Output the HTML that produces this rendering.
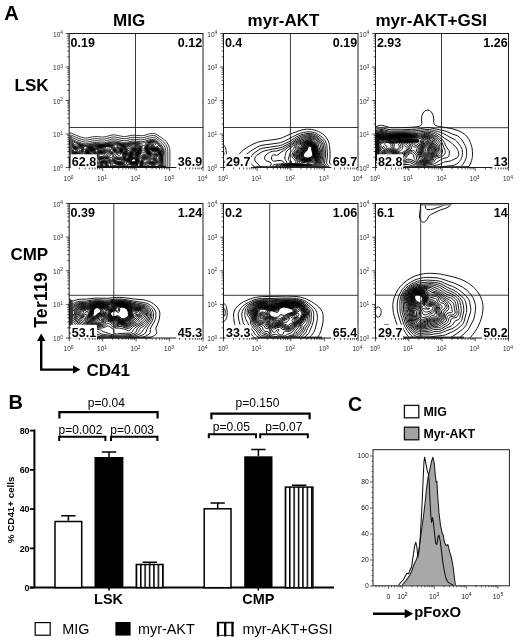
<!DOCTYPE html>
<html><head><meta charset="utf-8"><title>Figure</title>
<style>
html,body{margin:0;padding:0;background:#fff;}
body{width:520px;height:640px;overflow:hidden;}
svg{display:block;font-family:"Liberation Sans",sans-serif;}
</style></head><body>
<svg width="520" height="640" viewBox="0 0 520 640">
<rect width="520" height="640" fill="#fff"/>
<g>
<clipPath id="cp1"><rect x="69.2" y="33.5" width="133.8" height="134.0"/></clipPath>
<rect x="69.2" y="33.5" width="133.8" height="134.0" fill="none" stroke="#1a1a1a" stroke-width="1"/>
<g clip-path="url(#cp1)">
<path d="M63.2,134.8 64.2,134.7 65.2,134.5 68.7,133.1 69.7,132.9 70.2,132.9 71.7,133.2 75.6,135.0 80.7,137.0 83.2,137.7 84.7,138.0 85.7,138.0 87.7,137.8 92.7,136.8 94.7,136.6 97.2,136.6 101.6,137.0 103.7,137.0 106.3,136.5 111.2,135.2 113.2,134.9 114.7,134.9 116.2,135.1 121.7,136.3 123.2,136.5 124.7,136.6 126.2,136.4 131.2,135.4 133.2,135.2 135.7,135.2 140.2,135.7 142.7,135.6 143.7,135.5 145.7,135.0 148.7,134.1 150.7,133.6 152.2,133.5 153.2,133.5 154.2,133.6 155.2,133.8 156.2,134.2 161.7,137.8 163.7,139.2 164.7,140.0 165.7,141.0 166.9,142.5 168.1,144.5 169.0,146.5 169.5,148.5 169.8,150.0 169.9,151.5 169.9,173.5 M63.2,136.9 64.2,136.8 65.2,136.6 68.7,135.1 69.7,135.0 70.7,135.1 71.7,135.3 75.4,137.0 81.7,139.4 84.2,140.0 85.7,140.1 87.7,139.9 92.7,138.9 94.7,138.7 97.2,138.7 101.7,139.1 104.2,139.0 106.7,138.5 111.2,137.3 113.2,137.0 114.7,137.0 116.2,137.2 121.7,138.4 124.2,138.7 126.3,138.5 130.7,137.6 133.2,137.3 135.7,137.3 140.2,137.8 142.7,137.7 144.2,137.5 149.2,136.1 150.7,135.7 151.7,135.6 153.7,135.6 154.7,135.8 155.7,136.1 156.7,136.7 160.2,139.2 162.2,140.7 163.7,142.0 164.6,143.0 165.7,144.5 166.5,146.0 167.1,147.5 167.6,149.5 167.8,151.5 167.8,173.5 M63.2,138.9 64.2,138.8 65.2,138.6 68.7,137.1 69.7,137.0 70.7,137.1 71.7,137.3 75.4,139.0 81.7,141.4 84.2,142.0 85.7,142.1 87.7,141.9 92.7,140.9 94.7,140.7 97.2,140.7 101.7,141.1 104.2,141.0 106.7,140.5 111.2,139.3 113.2,139.0 114.2,139.0 115.7,139.1 122.0,140.5 123.2,140.6 124.7,140.6 126.3,140.5 130.7,139.6 133.2,139.3 135.7,139.3 140.2,139.8 142.7,139.7 144.7,139.4 149.2,138.1 151.2,137.7 152.7,137.6 153.7,137.6 155.2,137.9 156.2,138.4 158.2,139.8 160.7,141.9 162.4,143.5 163.6,145.0 164.3,146.0 165.0,147.5 165.5,149.0 165.8,150.5 165.9,152.0 165.8,158.0 165.8,173.5 M76.8,166.5 77.2,166.4 77.3,166.0 77.2,165.8 76.7,165.9 76.6,166.0 76.7,166.5 76.8,166.5 M75.9,173.5 75.7,173.0 75.2,172.9 74.7,173.5 M63.2,140.7 64.2,140.6 65.2,140.4 68.7,138.9 69.2,138.8 70.2,138.8 71.7,139.2 75.9,141.0 81.1,143.0 83.2,143.6 85.7,143.8 88.2,143.6 92.7,142.7 94.7,142.5 96.7,142.5 101.7,142.9 104.2,142.8 106.2,142.4 110.7,141.2 113.2,140.8 114.7,140.8 115.7,140.9 117.2,141.2 121.7,142.2 123.2,142.4 124.7,142.4 126.7,142.2 131.2,141.3 133.2,141.1 135.7,141.2 140.2,141.6 142.7,141.6 145.2,141.1 149.2,139.8 151.2,139.4 153.2,139.3 154.2,139.5 155.2,139.7 156.2,140.2 157.7,141.4 159.5,143.0 161.0,144.5 162.1,146.0 163.1,147.5 163.6,148.5 164.1,150.0 164.3,152.0 164.0,158.0 164.0,173.5 M69.5,154.5 69.4,154.0 69.2,153.7 68.7,153.5 68.6,154.0 68.7,154.3 69.2,154.7 69.5,154.5 M73.8,157.5 73.5,157.0 73.2,156.8 72.2,156.5 71.7,156.5 71.5,157.0 71.9,157.5 72.2,157.7 72.7,157.9 73.2,157.9 73.8,157.5 M127.5,157.5 127.6,157.0 127.4,156.5 127.2,156.3 126.7,156.4 126.5,156.5 126.3,157.0 126.4,157.5 126.7,157.8 127.2,157.8 127.5,157.5 M77.5,168.0 78.2,167.1 78.4,166.5 78.6,165.5 78.5,165.0 78.2,164.3 77.7,164.0 77.2,163.8 76.7,163.9 76.2,164.1 75.8,164.5 75.5,165.0 75.4,165.5 75.4,166.5 75.7,167.6 76.2,168.3 76.7,168.4 77.2,168.2 77.5,168.0 M91.7,165.5 91.9,165.0 91.7,164.8 91.4,165.0 91.6,165.5 91.7,165.5 M76.8,173.5 76.7,172.9 76.3,172.0 76.2,171.8 75.7,171.4 75.2,171.5 74.4,172.0 74.0,172.5 73.7,173.0 73.6,173.5 M154.1,173.5 153.7,173.0 153.2,173.2 153.1,173.5 M63.2,141.7 64.2,141.7 65.2,141.4 67.7,140.3 68.7,140.0 69.7,139.9 70.2,139.9 71.7,140.3 75.7,142.1 81.1,144.0 83.7,144.7 86.2,144.9 88.2,144.7 92.7,143.8 94.7,143.6 96.7,143.6 101.2,143.9 103.7,143.8 105.9,143.5 111.2,142.3 114.2,142.0 116.7,142.1 121.2,143.2 123.7,143.5 126.2,143.4 130.7,142.5 133.2,142.2 135.7,142.3 140.7,142.9 142.7,142.9 143.7,142.8 144.7,142.5 148.7,141.0 150.7,140.5 152.7,140.3 153.7,140.4 154.7,140.6 155.7,141.0 156.4,141.5 158.2,143.0 159.6,144.5 160.8,146.0 161.9,147.5 162.5,148.5 163.1,150.0 163.3,151.0 163.4,152.0 163.0,157.5 162.9,173.5 M143.8,149.0 144.2,148.4 145.3,146.0 145.2,145.9 144.7,145.5 144.2,145.5 143.2,145.7 142.2,146.5 141.9,147.0 142.2,148.4 142.7,149.2 143.2,149.4 143.7,149.1 143.8,149.0 M82.2,162.0 83.2,161.8 83.8,161.5 84.2,161.0 85.0,159.5 85.7,158.2 85.9,157.5 85.8,157.0 85.7,156.5 85.2,155.9 84.7,155.8 84.2,156.3 83.7,157.2 83.2,157.6 82.2,157.9 80.7,157.9 73.2,155.7 72.2,155.4 71.2,154.6 69.7,152.5 69.2,152.2 68.7,152.1 68.2,152.1 67.7,152.4 67.3,153.0 67.2,153.5 67.2,154.0 67.7,155.0 69.7,156.8 70.8,158.0 71.7,158.6 72.5,159.0 73.2,159.2 75.7,159.3 76.2,159.4 77.0,160.0 78.7,161.9 82.2,162.0 M127.4,158.5 128.0,158.0 128.2,157.6 128.3,157.0 128.3,156.5 128.2,156.0 127.7,155.5 127.2,155.3 126.7,155.4 126.2,155.7 125.7,156.2 125.5,157.0 125.5,157.5 125.8,158.0 126.2,158.4 126.7,158.6 127.2,158.6 127.4,158.5 M77.3,173.5 77.2,172.5 76.8,171.0 76.8,170.5 76.8,170.0 78.7,167.4 79.2,166.0 79.4,165.0 79.3,164.0 79.1,163.0 78.7,162.2 78.2,162.1 77.2,162.3 76.2,162.7 75.7,163.1 75.0,164.0 74.7,165.0 74.6,166.0 75.2,169.0 75.3,169.5 75.1,170.0 74.8,170.5 73.7,171.6 73.2,172.3 72.9,173.0 72.8,173.5 M91.3,167.0 91.7,167.0 92.2,166.8 92.7,166.5 93.2,165.9 93.4,165.0 93.2,164.3 92.7,163.6 92.2,163.2 91.7,163.0 91.2,162.9 90.7,163.1 90.2,163.8 90.0,164.5 89.9,165.5 90.0,166.0 90.2,166.5 90.7,166.8 91.3,167.0 M104.3,165.0 104.2,164.5 104.1,165.0 104.3,165.0 M155.0,173.5 154.7,172.5 154.2,172.0 153.7,171.8 153.2,171.9 152.7,172.3 152.3,173.0 152.2,173.5 M63.2,142.3 64.2,142.2 65.2,142.0 67.7,140.9 68.7,140.6 69.7,140.5 70.2,140.6 71.5,141.0 73.7,142.2 75.2,142.8 82.8,145.0 84.7,145.4 86.2,145.5 88.7,145.3 92.7,144.5 94.7,144.2 97.2,144.2 101.2,144.5 103.7,144.4 106.1,144.0 110.2,143.1 114.7,142.7 116.7,142.8 121.7,143.9 124.2,144.1 126.2,144.0 129.7,143.3 131.7,143.0 134.2,142.9 136.7,143.0 138.7,143.4 141.4,144.0 142.2,144.5 142.3,145.0 141.2,147.1 141.5,148.5 141.8,149.5 142.2,150.2 142.7,150.7 143.2,150.8 143.7,150.8 144.2,150.3 144.6,149.5 145.1,147.5 145.8,146.0 145.8,145.5 145.3,144.5 145.2,144.0 145.5,143.5 146.1,143.0 148.2,141.8 149.7,141.3 150.7,141.0 151.7,140.9 152.7,140.8 153.7,140.9 154.7,141.2 155.7,141.6 156.2,142.0 157.4,143.0 158.8,144.5 160.7,146.8 161.7,148.2 162.4,149.5 162.7,150.5 162.8,152.0 162.5,157.0 162.5,161.0 162.3,165.0 162.4,169.5 162.3,173.5 M118.3,150.0 118.2,149.8 117.9,149.5 117.7,149.4 117.5,149.5 117.3,150.0 117.7,150.4 118.2,150.2 118.3,150.0 M77.6,173.5 77.3,171.0 77.4,170.0 78.8,168.0 79.3,167.0 80.3,163.5 80.9,163.0 81.7,162.8 83.2,162.6 83.7,162.4 84.3,162.0 84.8,161.5 85.7,160.2 86.9,159.0 87.1,158.5 87.1,158.0 86.8,157.0 86.3,156.0 85.7,155.2 85.2,154.7 84.7,154.4 84.2,154.5 83.7,155.0 83.2,156.0 82.7,156.6 82.2,157.0 81.7,157.1 80.7,157.1 79.7,156.9 77.4,156.0 74.7,155.6 73.2,155.3 72.2,154.9 71.7,154.5 71.2,154.0 70.2,152.5 69.7,151.9 69.2,151.6 68.7,151.5 68.2,151.5 67.7,151.7 67.3,152.0 66.9,152.5 66.7,153.0 66.6,153.5 66.7,154.0 66.8,154.5 67.2,155.1 70.2,158.0 71.2,158.9 72.7,159.6 74.7,160.2 75.3,160.5 75.7,161.0 75.7,161.5 75.5,162.0 74.7,163.4 74.2,165.0 74.2,166.0 74.6,168.5 74.6,169.5 74.4,170.0 74.1,170.5 73.2,171.5 72.6,172.5 72.2,173.5 M127.0,159.0 127.7,158.7 128.2,158.3 128.6,157.5 128.7,157.0 128.6,156.0 128.3,155.5 127.7,155.0 127.2,154.9 126.6,155.0 125.7,155.6 125.2,156.3 125.1,157.0 125.2,157.6 125.7,158.5 126.2,158.9 126.7,159.0 127.0,159.0 M91.6,167.5 92.7,167.1 93.4,166.5 93.7,166.0 93.9,165.5 93.9,164.5 93.7,164.0 93.3,163.5 92.7,162.9 91.7,162.2 91.2,162.0 90.7,162.0 90.2,162.2 89.7,163.3 89.3,165.0 89.3,166.0 89.7,166.8 90.2,167.3 90.7,167.5 91.6,167.5 M105.1,166.0 105.4,165.5 105.4,165.0 105.2,164.2 104.7,163.6 104.2,163.4 103.7,163.5 103.2,164.0 103.0,164.5 103.0,165.0 103.1,165.5 103.5,166.0 104.2,166.3 104.7,166.2 105.1,166.0 M155.4,173.5 155.2,172.5 155.0,172.0 154.5,171.5 154.2,171.3 153.7,171.3 153.2,171.4 152.7,171.7 152.4,172.0 152.0,172.5 151.8,173.5 M63.2,142.8 64.7,142.7 65.7,142.3 68.2,141.3 69.2,141.1 69.7,141.1 70.7,141.3 71.9,142.0 73.0,143.0 74.2,144.5 74.7,144.8 75.2,144.9 76.2,144.4 76.7,144.2 77.7,144.2 80.2,144.7 84.2,145.8 86.2,146.1 88.7,145.9 92.7,145.1 94.7,144.9 97.2,144.8 100.7,144.9 102.7,144.9 105.7,144.5 109.7,143.8 113.2,143.8 115.7,143.3 117.2,143.4 122.2,144.4 124.7,144.7 126.7,144.5 129.7,143.9 131.2,143.7 135.2,143.5 136.7,143.6 138.2,143.9 139.2,144.2 139.9,144.5 140.6,145.0 140.8,145.5 140.9,146.0 140.7,147.0 140.8,148.0 141.2,149.6 141.7,151.0 142.2,152.0 142.7,152.5 143.2,152.7 143.7,152.7 144.2,152.7 144.5,152.5 144.7,152.3 144.8,152.0 145.5,148.0 146.4,145.5 146.4,144.5 146.5,144.0 146.8,143.5 147.4,143.0 148.1,142.5 149.2,141.9 150.2,141.6 151.2,141.4 152.2,141.3 153.2,141.4 154.2,141.6 155.7,142.3 157.0,143.5 157.8,144.5 158.7,146.0 160.7,147.9 161.2,148.5 161.8,149.5 162.1,150.5 162.2,151.5 162.0,157.0 162.0,160.5 161.7,164.5 162.0,169.0 161.8,173.5 M158.3,147.5 158.1,147.0 157.7,146.7 157.2,146.5 156.5,146.5 156.7,146.5 157.0,147.0 157.7,147.2 158.1,147.5 158.3,147.5 M118.7,151.0 119.0,150.5 119.1,150.0 119.0,149.5 118.7,149.1 118.2,148.7 117.7,148.6 117.2,148.6 116.7,148.8 116.4,149.5 116.4,150.0 116.7,150.5 117.2,151.0 117.7,151.2 118.2,151.2 118.7,151.0 M77.8,173.5 77.7,171.5 77.7,170.5 78.2,169.5 79.4,167.5 80.7,164.3 81.2,163.7 81.7,163.5 83.7,163.1 84.2,162.9 84.8,162.5 86.2,160.9 86.7,160.5 87.2,160.3 87.7,160.2 88.2,160.3 88.7,160.6 89.0,161.0 89.2,161.5 89.2,162.5 88.7,165.0 88.7,166.0 89.1,167.0 89.7,167.6 90.2,167.8 91.2,168.0 92.2,167.8 93.2,167.3 93.7,166.9 94.2,166.0 94.4,165.0 94.2,164.0 93.9,163.5 93.2,162.7 89.7,160.0 88.7,159.0 88.2,158.3 86.2,155.1 85.2,153.9 84.7,153.5 84.2,153.5 83.7,153.7 82.1,156.0 81.7,156.3 81.2,156.4 80.7,156.4 79.7,156.1 77.7,155.4 74.2,155.1 72.7,154.7 71.7,154.0 70.3,152.0 69.7,151.4 69.2,151.1 68.7,151.0 68.2,151.0 67.7,151.1 67.2,151.4 66.7,151.9 66.3,152.5 66.1,153.5 66.2,154.0 66.6,155.0 67.4,156.0 70.7,159.0 71.7,159.6 73.5,160.5 74.2,161.0 74.5,161.5 74.5,162.0 74.4,162.5 73.9,164.0 73.7,165.0 73.7,166.0 74.2,168.5 74.0,169.5 73.5,170.5 72.0,172.5 71.6,173.5 M127.8,159.0 128.2,158.7 128.7,158.0 128.9,157.5 129.0,156.5 128.8,155.5 128.5,155.0 128.2,154.7 127.7,154.5 127.2,154.5 126.2,154.8 125.3,155.5 124.9,156.0 124.8,156.5 124.7,157.0 125.0,158.0 125.3,158.5 125.9,159.0 126.2,159.2 126.7,159.3 127.2,159.3 127.8,159.0 M105.7,166.5 105.9,166.0 106.0,165.5 105.9,164.5 105.7,164.0 105.2,163.4 104.7,163.0 104.2,162.9 103.7,163.0 103.0,163.5 102.7,164.0 102.5,164.5 102.4,165.5 102.6,166.0 103.2,166.6 103.7,166.9 104.2,167.0 104.7,167.0 105.2,166.8 105.7,166.5 M139.9,173.5 139.5,171.0 139.4,169.5 139.9,165.0 139.7,163.8 139.2,163.4 138.7,163.5 138.2,164.0 137.6,165.5 137.2,168.4 137.1,169.5 137.6,173.5 M155.8,173.5 155.6,172.5 155.2,171.5 154.7,171.0 154.2,170.8 153.7,170.7 153.2,170.9 152.7,171.1 152.2,171.6 151.6,172.5 151.4,173.5 M63.2,143.3 64.2,143.3 65.2,143.0 68.2,141.7 69.2,141.6 69.7,141.6 70.7,141.9 71.5,142.5 72.0,143.0 73.5,145.0 74.2,145.6 75.1,146.0 75.7,146.1 76.7,146.0 77.2,145.4 77.7,145.1 78.2,145.0 79.2,145.0 81.2,145.4 84.7,146.6 85.7,146.8 87.7,146.6 92.2,145.8 96.7,145.3 102.7,145.2 105.1,145.0 109.7,144.4 110.7,144.4 113.2,144.6 114.1,144.5 116.2,144.0 117.7,144.0 122.7,144.9 125.7,145.2 126.7,145.2 129.2,144.6 130.7,144.4 133.2,144.4 135.7,144.1 137.2,144.2 138.7,144.7 139.3,145.0 139.8,145.5 140.1,146.0 140.2,147.5 141.1,151.0 141.4,153.5 141.7,154.0 142.2,154.3 142.7,154.3 144.7,154.0 145.2,153.7 145.7,153.2 145.8,152.5 145.6,150.0 145.9,148.0 146.8,145.5 147.0,144.5 147.7,143.5 148.3,143.0 149.1,142.5 150.7,141.9 152.2,141.8 153.7,142.0 154.8,142.5 155.5,143.0 155.9,143.5 156.1,144.0 155.7,144.5 154.7,144.9 154.2,145.4 154.2,146.1 154.7,146.6 156.5,147.5 159.2,148.5 160.2,148.7 160.7,149.0 161.1,149.5 161.3,150.0 161.4,150.5 161.3,152.5 161.6,154.5 161.5,157.0 161.5,160.5 161.1,164.5 161.5,169.0 161.5,170.5 161.2,173.5 M118.9,151.5 119.3,151.0 119.6,150.0 119.5,149.5 119.2,148.9 118.7,148.4 117.7,148.0 116.7,148.0 116.2,148.3 115.8,149.0 115.8,149.5 116.1,150.5 116.5,151.0 117.2,151.5 117.7,151.7 118.2,151.8 118.7,151.7 118.9,151.5 M78.1,173.5 78.0,171.0 78.3,170.0 79.8,167.5 80.9,165.0 81.2,164.6 81.7,164.2 82.2,164.0 84.2,163.5 84.7,163.3 85.2,163.0 86.7,161.7 87.2,161.5 87.7,161.6 88.2,162.0 88.3,162.5 88.3,163.5 88.1,165.5 88.2,166.5 88.3,167.0 88.6,167.5 89.2,168.0 89.7,168.2 90.7,168.3 91.7,168.3 92.7,168.0 93.6,167.5 94.1,167.0 94.5,166.5 94.8,165.5 94.8,164.5 94.7,164.0 94.4,163.5 93.7,162.6 91.9,161.0 90.5,159.5 88.2,157.4 85.7,153.8 84.7,152.7 84.2,152.6 83.7,152.8 83.2,153.3 82.0,155.0 81.7,155.3 81.2,155.6 80.7,155.6 80.2,155.6 78.7,155.0 77.7,154.7 75.2,154.8 74.2,154.8 73.2,154.5 72.2,154.0 71.7,153.5 70.3,151.5 69.7,150.9 68.7,150.5 67.7,150.5 67.2,150.7 66.7,151.1 66.2,151.7 65.8,152.5 65.6,153.5 65.8,154.5 66.5,155.5 67.2,156.3 70.2,159.1 73.1,161.0 73.5,161.5 73.7,162.0 73.7,162.5 73.2,165.0 73.3,166.0 73.7,168.0 73.7,169.0 73.5,169.5 73.2,170.1 70.8,173.0 70.6,173.5 M106.1,155.5 106.6,155.0 106.8,154.5 106.6,154.0 106.2,153.8 105.3,154.0 104.4,154.5 103.8,155.0 103.6,155.5 104.2,155.8 104.7,155.9 105.2,155.8 106.1,155.5 M127.4,159.5 128.2,159.0 128.7,158.4 129.2,157.5 129.3,156.5 129.1,155.5 128.7,154.7 128.2,154.2 127.7,154.0 127.2,154.1 126.7,154.2 125.4,155.0 124.7,155.7 124.4,156.5 124.4,157.0 124.7,158.0 125.4,159.0 126.2,159.5 126.7,159.6 127.4,159.5 M104.9,167.5 105.7,167.3 106.2,166.9 106.4,166.5 106.6,166.0 106.5,165.0 106.1,164.0 105.4,163.0 104.7,162.6 104.2,162.5 103.7,162.6 103.0,163.0 102.5,163.5 102.2,164.0 101.9,165.0 102.0,166.0 102.3,166.5 102.7,167.0 103.2,167.3 104.2,167.5 104.9,167.5 M113.3,163.5 113.0,163.0 112.7,162.7 112.2,162.9 112.2,163.1 112.7,163.8 113.2,164.0 113.3,163.5 M140.5,173.5 140.0,171.0 140.0,170.0 140.0,169.0 140.4,166.0 140.4,164.5 140.2,163.6 139.8,163.0 139.7,162.8 139.2,162.7 138.7,162.8 138.4,163.0 137.7,163.9 137.2,165.0 136.9,166.0 136.6,168.0 136.5,169.5 137.1,173.5 M123.9,169.0 124.1,168.5 123.8,168.0 122.7,167.4 121.5,166.5 120.5,166.0 119.7,165.8 119.2,165.8 118.3,166.0 118.3,166.5 118.9,167.0 120.2,167.5 121.7,167.7 122.2,168.0 123.2,168.9 123.7,169.1 123.9,169.0 M156.2,173.5 156.0,172.5 155.7,171.5 155.2,170.7 154.7,170.3 154.2,170.2 153.7,170.2 153.2,170.3 152.2,171.0 151.5,172.0 151.2,172.8 151.1,173.5 M63.2,143.8 64.2,143.8 65.2,143.6 68.2,142.2 69.2,142.1 69.7,142.1 70.6,142.5 71.2,143.0 73.3,145.5 74.2,146.1 75.1,146.5 75.7,146.7 76.7,146.7 77.4,146.5 78.2,145.8 78.7,145.6 79.2,145.5 80.2,145.6 81.2,145.8 83.1,146.5 83.8,147.0 84.2,149.7 84.7,150.1 86.7,147.6 87.2,147.4 88.2,147.1 90.2,146.7 92.2,146.4 94.2,146.4 96.7,145.8 97.7,145.7 103.2,145.5 109.7,144.8 110.7,144.9 113.2,145.3 114.2,145.4 114.7,145.3 116.2,144.7 117.2,144.6 118.7,144.7 125.7,145.8 126.7,145.8 129.7,145.1 130.7,145.1 132.7,145.4 133.2,145.4 135.7,144.7 137.2,144.8 138.0,145.0 138.7,145.4 139.3,146.0 139.6,146.5 140.6,151.0 140.7,152.0 140.5,154.0 140.5,154.5 140.7,155.0 141.2,155.5 141.7,155.6 142.7,155.4 145.2,154.7 145.7,154.4 146.2,154.0 146.4,153.5 146.5,153.0 146.0,150.5 146.0,149.5 146.1,148.5 146.5,147.0 147.4,145.0 148.0,144.0 148.5,143.5 149.1,143.0 150.2,142.5 151.7,142.3 153.2,142.5 154.0,143.0 154.2,143.5 154.0,144.0 153.4,145.0 153.2,145.5 153.3,146.0 153.6,146.5 154.3,147.0 155.3,147.5 158.7,148.8 159.7,149.3 160.5,150.0 160.8,151.0 160.9,153.0 161.1,154.5 161.0,157.5 161.1,160.0 161.0,161.0 160.6,163.5 160.5,164.5 161.1,168.0 161.1,169.5 160.7,173.5 M119.2,152.0 119.7,151.3 119.9,150.0 119.8,149.0 119.4,148.5 118.7,147.9 117.7,147.5 116.7,147.3 116.2,147.4 115.7,147.6 115.5,148.0 115.3,148.5 115.3,149.0 115.5,150.0 116.0,151.0 116.7,151.7 117.7,152.2 118.2,152.3 118.7,152.3 119.2,152.0 M78.3,173.5 78.3,171.5 78.4,170.5 78.6,170.0 79.9,168.0 81.2,165.4 81.7,164.9 82.2,164.6 84.8,164.0 86.7,163.1 87.2,163.2 87.4,164.0 87.4,166.0 87.5,167.0 87.8,168.0 88.2,168.3 88.7,168.6 89.7,168.7 90.7,168.7 91.7,168.6 92.7,168.3 93.4,168.0 94.2,167.5 94.7,166.9 95.1,166.0 95.3,165.0 95.2,164.0 94.6,163.0 92.5,161.0 90.8,159.0 89.2,157.7 88.2,156.7 84.9,152.0 84.7,151.4 84.2,151.1 82.2,153.7 81.7,154.3 81.2,154.6 80.7,154.8 80.2,154.8 78.7,154.3 77.7,154.2 75.2,154.5 74.2,154.4 73.2,154.2 72.2,153.6 71.7,153.0 70.7,151.4 70.2,150.9 69.7,150.5 68.7,150.0 67.7,149.9 67.2,150.0 66.7,150.3 66.2,150.8 65.7,151.5 65.2,152.5 65.1,153.0 65.2,154.0 65.6,155.0 66.7,156.3 70.2,159.5 72.3,161.0 72.7,161.5 73.0,162.0 73.1,162.5 72.7,164.5 72.7,165.5 73.2,167.5 73.3,168.5 73.2,169.0 72.8,170.0 72.2,170.7 71.2,171.7 70.2,172.5 69.7,172.7 68.7,173.0 68.0,173.5 M105.8,156.5 106.9,156.0 107.7,155.5 108.1,155.0 108.2,154.5 108.1,154.0 107.7,153.3 107.2,152.9 106.7,152.7 106.2,152.8 105.7,152.9 103.7,153.9 102.7,154.2 100.7,154.1 99.7,154.2 99.2,154.5 99.0,155.0 99.1,155.5 99.4,156.0 99.7,156.2 100.4,156.5 104.2,156.7 105.2,156.7 105.8,156.5 M128.0,159.5 128.7,158.8 129.2,158.0 129.5,157.0 129.6,156.5 129.4,155.5 129.0,154.5 128.7,154.1 128.2,153.7 127.7,153.6 126.7,153.9 125.7,154.4 124.9,155.0 124.4,155.5 124.1,156.0 124.0,156.5 124.0,157.0 124.1,157.5 124.6,158.5 125.2,159.2 125.7,159.6 126.2,159.9 126.7,159.9 127.2,159.9 128.0,159.5 M124.9,170.5 125.2,170.1 125.4,169.5 125.5,168.5 125.4,168.0 125.1,167.5 124.7,167.1 123.7,166.3 121.9,165.5 120.2,165.1 119.2,165.0 116.2,165.0 115.7,164.8 115.2,164.3 113.6,162.5 112.7,161.6 112.2,161.4 111.7,161.4 111.2,162.0 111.2,163.0 111.3,163.5 112.0,164.5 112.7,165.1 113.7,165.5 115.7,165.8 118.0,167.5 120.9,169.0 122.5,170.5 123.2,170.8 123.7,170.9 124.2,170.9 124.7,170.7 124.9,170.5 M105.6,168.0 106.2,167.8 106.7,167.5 107.0,167.0 107.1,166.0 107.0,165.0 106.6,164.0 105.7,162.9 105.2,162.5 104.7,162.2 104.2,162.2 103.7,162.2 103.2,162.5 102.7,162.9 102.1,163.5 101.8,164.0 101.5,165.0 101.5,166.0 101.7,166.5 102.2,167.3 102.7,167.7 103.2,167.9 104.2,168.0 105.6,168.0 M140.9,173.5 140.5,171.0 140.4,170.0 140.9,166.0 140.7,164.0 140.6,163.5 140.2,162.6 139.7,162.2 139.2,162.1 138.7,162.3 138.2,162.7 137.5,163.5 136.7,165.0 136.3,166.5 136.1,168.0 136.0,169.5 136.6,173.5 M156.5,173.5 156.3,172.0 155.7,170.6 155.2,170.0 154.7,169.6 154.2,169.5 153.7,169.5 153.2,169.7 152.2,170.4 151.7,170.9 151.1,172.0 150.8,173.5 M87.2,173.5 87.0,172.0 86.8,171.0 86.7,170.6 86.2,170.2 85.7,170.3 85.1,171.0 85.0,172.0 85.0,173.5 M109.5,173.5 109.2,172.5 108.7,172.2 108.2,172.1 107.7,172.3 107.2,172.6 106.8,173.0 106.5,173.5 M63.2,144.4 64.2,144.3 65.2,144.1 68.2,142.7 69.2,142.5 69.7,142.6 70.7,143.1 71.2,143.6 72.7,145.5 73.3,146.0 74.2,146.6 75.7,147.1 76.7,147.2 77.2,147.1 77.7,147.0 78.7,146.2 79.2,146.0 79.7,145.9 80.7,146.0 82.2,146.5 83.0,147.0 83.2,147.5 83.4,148.5 83.4,150.5 82.8,152.0 81.7,153.4 81.2,153.8 80.7,154.0 80.2,154.0 78.2,153.7 77.2,153.8 75.2,154.1 73.7,154.0 72.7,153.6 72.2,153.1 70.7,150.9 70.2,150.4 69.2,149.8 68.2,149.4 67.2,149.2 66.7,149.3 66.2,149.7 66.0,150.0 64.6,152.5 64.5,153.0 64.5,153.5 64.6,154.0 65.1,155.0 66.2,156.3 69.7,159.6 71.5,161.0 72.0,161.5 72.2,161.9 72.4,162.5 72.4,163.0 72.0,165.0 72.1,165.5 72.7,167.4 72.8,168.0 72.7,169.0 72.5,169.5 72.2,170.0 71.3,171.0 70.2,171.8 67.7,172.6 67.2,173.0 67.0,173.5 M87.8,173.5 87.8,171.0 88.0,170.0 88.2,169.8 88.6,169.5 89.2,169.3 92.2,168.8 93.2,168.5 94.1,168.0 94.7,167.5 95.2,166.9 95.6,166.0 95.8,165.0 95.7,164.0 95.1,163.0 93.1,161.0 91.2,158.8 89.2,157.2 88.2,156.2 86.6,154.0 85.5,152.0 85.4,151.0 85.7,150.0 86.0,149.5 86.7,148.5 87.2,148.1 87.7,147.7 89.2,147.3 91.2,147.0 92.2,147.0 94.2,147.2 94.7,147.1 96.7,146.3 98.2,146.0 102.7,145.8 109.2,145.3 111.2,145.4 113.4,146.0 114.3,146.5 114.6,147.0 114.9,149.5 115.2,150.2 115.6,151.0 116.2,151.7 117.2,152.5 118.2,152.9 118.7,152.9 119.2,152.8 119.5,152.5 119.7,152.3 120.0,151.5 120.3,150.0 120.1,149.0 119.7,148.1 119.2,147.6 118.7,147.3 116.9,146.5 116.5,146.0 116.9,145.5 118.2,145.2 119.7,145.3 123.7,145.8 126.7,146.5 127.7,146.4 129.2,145.9 130.2,145.8 131.1,146.0 132.7,146.6 133.2,146.7 133.7,146.5 135.2,145.6 135.7,145.4 136.2,145.3 137.2,145.3 138.2,145.7 138.7,146.2 139.0,146.5 140.0,149.5 140.2,150.5 140.2,151.5 139.8,154.5 139.9,155.5 140.2,156.1 140.7,156.5 141.2,156.6 141.7,156.6 145.7,155.2 146.2,154.9 146.7,154.5 147.0,154.0 147.0,153.5 146.5,151.0 146.3,149.5 146.4,148.5 146.7,147.5 147.8,145.0 148.6,144.0 149.7,143.2 150.3,143.0 151.2,142.8 151.7,142.8 152.4,143.0 152.8,143.5 152.8,144.0 152.5,145.5 152.6,146.0 152.9,146.5 153.4,147.0 154.7,147.7 159.2,149.4 159.9,150.0 160.3,150.5 160.5,151.0 160.6,151.5 160.8,155.0 160.6,157.5 160.6,160.0 160.4,161.5 160.0,163.0 159.8,164.0 159.9,165.0 160.6,167.5 160.7,169.0 160.7,170.5 160.2,173.5 M106.1,157.0 108.2,156.2 109.2,155.9 110.2,155.8 110.7,155.5 108.2,152.7 107.7,152.3 107.2,152.0 106.7,152.0 106.2,152.0 103.7,153.3 103.2,153.4 102.2,153.6 100.7,153.5 99.7,153.5 98.7,154.0 98.3,154.5 98.2,155.0 98.3,155.5 98.5,156.0 98.9,156.5 99.7,157.0 100.7,157.2 104.2,157.3 105.2,157.2 106.1,157.0 M127.6,160.0 128.2,159.6 129.2,158.5 129.7,157.5 129.9,156.5 129.7,155.3 129.2,154.1 128.7,153.5 128.2,153.2 127.7,153.2 127.2,153.3 126.2,153.8 124.4,155.0 123.9,155.5 123.6,156.0 123.5,156.5 123.6,157.0 124.0,158.0 124.7,159.0 125.2,159.6 125.7,159.9 126.2,160.2 126.7,160.2 127.6,160.0 M125.5,172.0 125.7,171.7 126.1,170.0 126.2,169.0 126.2,168.2 126.0,167.5 125.7,167.0 124.7,166.1 123.7,165.5 122.2,164.9 120.2,164.6 117.2,164.4 116.2,164.1 115.2,163.4 112.7,161.0 112.2,160.7 111.7,160.6 111.2,160.8 111.0,161.0 110.7,161.5 110.6,162.0 110.6,163.0 110.6,163.5 111.2,164.7 111.7,165.3 112.2,165.8 113.2,166.3 115.2,166.8 116.2,167.2 119.3,169.0 120.0,169.5 120.5,170.0 121.3,171.5 121.7,172.0 122.2,172.2 123.2,172.4 124.7,172.4 125.2,172.3 125.5,172.0 M107.0,168.5 107.2,168.4 107.6,168.0 107.8,167.5 107.9,167.0 107.7,165.5 107.3,164.5 107.1,164.0 106.3,163.0 105.2,162.1 104.7,161.9 104.2,161.8 103.7,161.9 103.2,162.1 102.1,163.0 101.4,164.0 101.1,164.5 101.0,165.5 101.1,166.5 101.3,167.0 101.7,167.6 102.1,168.0 103.2,168.4 105.2,168.6 106.2,168.6 107.0,168.5 M141.4,173.5 140.8,171.0 140.8,170.0 140.8,169.0 141.3,166.5 141.2,165.0 141.1,164.0 140.7,162.7 140.2,162.0 139.7,161.7 139.2,161.7 138.7,161.9 138.2,162.2 137.1,163.5 136.3,165.0 135.7,166.5 135.5,168.0 135.5,169.5 136.1,172.5 136.2,173.5 M78.6,173.5 78.6,171.5 78.8,170.5 81.2,166.3 81.7,165.6 82.2,165.2 83.2,164.9 84.7,164.8 85.7,164.9 86.2,165.2 86.4,165.5 86.5,166.5 86.5,167.5 86.3,168.0 85.9,168.5 85.2,169.2 84.7,169.8 84.4,170.5 84.3,171.5 84.4,173.5 M157.0,173.5 156.8,172.0 156.2,170.4 155.7,169.6 155.2,169.1 154.7,168.7 154.2,168.6 153.7,168.7 152.7,169.3 151.7,170.2 151.2,170.8 150.7,172.0 150.5,173.5 M110.3,173.5 110.1,172.5 109.7,171.3 109.2,170.8 108.7,170.7 108.2,170.9 106.7,171.9 105.7,172.9 105.4,173.5 M63.2,145.0 64.2,145.1 65.2,144.9 65.7,144.7 67.7,143.4 68.7,143.0 69.2,143.0 69.7,143.1 70.4,143.5 71.0,144.0 72.7,146.0 73.7,146.7 74.3,147.0 76.2,147.6 77.2,147.7 77.7,147.6 78.2,147.3 79.2,146.5 79.7,146.3 80.7,146.3 81.5,146.5 82.4,147.0 82.7,147.5 82.9,148.5 83.0,150.0 82.8,151.0 82.2,152.1 81.7,152.7 81.2,153.1 80.7,153.3 80.2,153.4 78.2,153.2 75.7,153.7 74.7,153.8 73.7,153.7 73.2,153.5 72.7,153.2 72.1,152.5 70.8,150.5 69.7,149.6 66.7,148.1 66.2,148.1 65.7,148.5 64.7,150.9 63.4,153.0 63.4,153.5 65.4,156.0 70.8,161.0 71.3,161.5 71.6,162.0 71.7,162.5 71.7,163.0 71.3,164.5 71.2,165.0 71.3,165.5 72.0,167.0 72.3,168.0 72.3,168.5 72.2,169.1 71.7,169.9 71.2,170.5 70.2,171.2 69.2,171.6 67.7,172.0 67.2,172.3 66.7,172.7 66.4,173.5 M88.3,173.5 88.4,171.5 88.7,170.5 89.2,170.0 89.7,169.8 92.7,169.0 93.9,168.5 94.7,168.0 95.3,167.5 95.9,166.5 96.2,165.5 96.3,164.5 96.0,163.5 95.7,163.0 93.2,160.6 91.5,158.5 89.2,156.8 88.4,156.0 87.2,154.5 86.3,153.0 85.9,152.0 85.9,151.0 86.0,150.5 86.5,149.5 86.9,149.0 87.4,148.5 88.2,148.0 89.7,147.5 91.2,147.4 92.2,147.4 94.2,147.9 94.7,147.8 95.2,147.7 96.7,146.8 97.2,146.5 98.7,146.2 102.7,146.1 109.2,145.7 110.2,145.7 111.2,145.8 112.7,146.3 113.2,146.6 113.6,147.0 113.9,147.5 114.9,150.5 115.7,151.7 116.2,152.3 117.2,153.1 118.2,153.6 118.7,153.8 119.2,153.7 119.7,153.4 119.9,153.0 120.2,152.3 120.4,151.5 120.6,150.0 120.5,149.0 120.2,148.2 119.7,147.4 118.8,146.5 119.1,146.0 120.7,145.8 123.2,146.0 124.7,146.3 127.2,147.3 127.7,147.3 128.2,147.2 129.2,146.8 129.7,146.7 130.2,146.8 132.2,147.5 132.7,147.6 133.7,147.4 134.2,147.2 135.2,146.4 135.9,146.0 136.7,145.9 137.2,145.9 137.7,146.1 138.2,146.4 138.7,147.0 139.2,148.3 139.7,150.0 139.9,151.5 139.2,155.0 139.3,156.0 139.7,156.8 140.2,157.3 140.7,157.5 141.2,157.5 142.2,157.2 144.2,156.3 146.2,155.6 146.7,155.4 147.2,155.0 147.5,154.5 147.5,154.0 147.4,153.0 146.8,151.0 146.6,150.0 146.6,149.0 146.9,148.0 147.7,146.1 148.2,145.2 148.7,144.6 149.7,143.8 150.7,143.5 151.2,143.5 151.7,143.8 151.8,144.0 152.0,146.0 152.3,146.5 152.7,147.0 153.4,147.5 154.4,148.0 158.7,149.6 159.2,149.9 159.7,150.3 160.2,151.3 160.4,153.0 160.4,155.0 160.0,157.5 160.1,160.5 159.8,161.5 159.0,163.5 159.0,164.0 159.1,165.0 160.1,167.5 160.3,169.0 160.2,170.5 159.6,173.5 M111.3,157.5 111.7,157.3 112.2,156.9 112.7,156.0 112.6,155.5 112.4,155.0 111.7,154.5 110.2,153.7 109.7,153.3 108.2,151.9 107.7,151.5 107.2,151.3 106.7,151.3 106.2,151.4 105.7,151.6 104.2,152.5 103.2,152.9 102.2,153.1 99.7,153.1 98.7,153.3 98.2,153.6 97.9,154.0 97.7,154.5 97.7,155.5 98.1,156.5 98.7,157.1 99.2,157.4 99.7,157.6 104.7,157.8 105.7,157.6 107.7,157.0 108.7,156.9 109.7,157.1 110.7,157.5 111.3,157.5 M127.0,160.5 127.7,160.2 128.7,159.4 129.7,158.0 130.1,157.0 130.1,156.0 129.7,154.3 129.2,153.4 128.7,152.9 128.2,152.7 127.7,152.7 127.2,152.9 124.5,154.5 123.8,155.0 123.3,155.5 123.1,156.0 123.0,156.5 123.4,157.5 124.0,158.5 124.7,159.5 125.7,160.3 126.2,160.5 127.0,160.5 M127.8,173.5 127.0,172.0 126.8,171.5 126.7,170.5 126.8,168.5 126.7,167.5 126.5,167.0 125.6,166.0 124.2,165.0 122.9,164.5 121.2,164.3 117.7,164.0 116.7,163.8 116.2,163.6 115.2,162.9 113.2,160.9 112.2,160.0 111.7,159.8 111.2,159.8 110.7,160.4 110.4,161.0 110.1,162.0 110.0,163.0 110.0,164.0 110.2,164.5 110.4,165.0 111.2,166.3 111.7,166.8 112.2,167.0 112.7,167.2 115.2,167.6 116.7,168.2 118.7,169.5 119.2,170.0 119.5,170.5 119.6,171.0 119.4,171.5 119.2,171.8 117.7,172.8 117.4,173.0 117.1,173.5 M141.8,173.5 141.2,171.0 141.1,170.0 141.7,166.5 141.5,164.5 141.2,163.0 140.7,162.0 140.2,161.4 139.7,161.1 139.2,161.2 138.7,161.4 137.7,162.3 136.1,164.5 135.5,165.5 135.1,166.5 134.9,168.0 134.9,169.5 135.1,170.5 135.7,172.5 135.8,173.5 M110.8,173.5 110.7,171.2 110.5,169.5 110.2,168.8 109.2,167.4 108.0,164.5 106.8,163.0 105.7,162.1 104.7,161.6 104.2,161.5 103.7,161.6 103.2,161.8 101.7,163.0 100.9,164.0 100.5,165.0 100.4,165.5 100.5,166.5 100.7,167.1 101.2,168.0 101.7,168.5 102.7,168.9 105.9,169.5 106.6,170.0 106.6,170.5 106.4,171.0 105.0,172.5 104.7,173.0 104.5,173.5 M78.8,173.5 78.9,171.5 79.1,170.5 79.4,170.0 81.7,166.4 82.2,165.9 82.7,165.7 83.7,165.5 84.2,165.6 85.0,166.0 85.3,166.5 85.3,167.0 85.2,167.5 84.2,169.2 83.9,170.0 83.7,171.0 83.9,173.5 M157.5,173.5 157.4,172.5 157.1,171.5 156.2,169.3 155.2,167.7 154.7,167.3 154.2,167.2 153.7,167.4 153.2,167.8 150.8,170.5 150.4,171.5 150.2,172.5 150.1,173.5 M74.7,153.5 73.7,153.4 73.2,153.2 72.7,152.8 72.2,152.1 71.2,150.5 70.7,149.9 70.2,149.5 67.9,148.0 66.9,147.0 66.5,146.5 66.3,146.0 66.3,145.5 66.6,145.0 67.0,144.5 67.6,144.0 68.7,143.5 69.2,143.5 69.7,143.6 70.2,143.9 70.7,144.3 72.2,146.0 73.2,146.8 74.2,147.3 76.2,148.0 77.2,148.1 77.7,148.1 78.2,147.9 79.7,146.8 80.2,146.6 80.7,146.7 81.7,147.0 82.2,147.5 82.4,148.0 82.6,149.0 82.4,150.5 82.2,151.2 81.7,152.0 81.2,152.4 80.7,152.7 80.2,152.8 78.2,152.7 75.7,153.4 74.7,153.5 M88.7,173.5 88.9,171.5 89.1,171.0 89.5,170.5 90.3,170.0 94.2,168.7 95.4,168.0 95.9,167.5 96.5,166.5 96.9,165.5 97.0,164.5 96.6,163.5 95.9,162.5 93.7,160.5 91.7,158.1 89.7,156.8 88.7,156.0 87.5,154.5 86.6,153.0 86.3,152.0 86.3,151.0 86.4,150.5 87.0,149.5 87.5,149.0 88.1,148.5 88.7,148.2 89.7,147.9 91.2,147.7 92.2,147.9 93.7,148.3 94.7,148.4 95.2,148.3 95.7,148.0 97.2,146.9 98.2,146.5 99.2,146.4 109.2,146.1 110.2,146.1 111.2,146.2 112.2,146.6 112.8,147.0 113.2,147.4 113.7,148.3 114.6,150.5 115.2,151.6 115.7,152.3 117.2,154.0 118.1,155.5 118.2,155.6 118.7,155.8 119.6,155.5 120.2,155.0 120.4,154.5 120.5,154.0 120.8,149.5 120.7,148.4 120.2,147.0 120.2,146.5 120.7,146.3 121.7,146.2 122.7,146.2 123.7,146.4 125.3,147.0 127.2,148.2 127.7,148.4 128.2,148.4 129.7,148.0 130.2,148.0 132.2,148.2 133.7,148.0 134.7,147.6 135.7,146.8 136.2,146.6 136.7,146.5 137.2,146.5 137.7,146.8 138.2,147.3 139.1,149.0 139.5,150.5 139.5,152.0 138.7,155.0 138.7,156.0 138.8,156.5 139.2,157.3 139.7,157.9 140.2,158.3 140.7,158.4 141.7,158.1 144.7,156.7 146.8,156.0 147.2,155.8 147.7,155.3 147.9,155.0 148.0,154.5 148.0,154.0 147.0,150.5 146.9,149.5 147.0,148.5 147.7,146.8 148.7,145.3 149.2,144.8 149.7,144.5 150.2,144.4 150.8,144.5 151.2,145.0 151.4,146.0 151.7,146.5 152.1,147.0 152.7,147.5 154.2,148.3 158.2,149.7 159.2,150.3 159.7,150.9 160.0,151.5 160.1,154.0 160.0,155.5 159.4,157.5 159.3,158.0 159.5,160.0 159.5,160.5 159.1,161.5 158.2,163.5 157.9,164.5 158.0,165.0 159.3,167.0 159.7,167.9 159.8,168.5 159.8,169.5 159.7,170.5 159.2,171.8 158.7,172.5 158.2,172.3 156.8,169.0 156.1,166.5 155.6,166.0 154.7,165.9 154.2,165.9 153.2,166.3 152.7,166.7 151.5,168.5 150.2,170.3 149.9,171.0 149.8,171.5 149.8,173.5 M63.2,146.2 64.0,146.5 64.2,146.8 64.4,147.5 64.5,148.5 64.4,149.5 64.2,150.1 63.7,150.9 63.2,151.2 M129.0,173.5 128.8,173.0 127.7,171.6 127.4,171.0 127.3,170.0 127.5,167.5 127.4,167.0 127.1,166.5 126.7,166.1 125.2,164.8 124.7,164.5 123.7,164.1 122.2,163.9 117.7,163.6 116.2,163.2 115.2,162.5 112.9,160.0 112.5,159.5 112.3,159.0 112.2,158.5 112.4,158.0 113.5,156.5 113.7,156.0 113.7,155.5 113.5,155.0 112.7,154.3 110.2,153.0 108.2,151.1 107.7,150.8 107.2,150.6 106.7,150.6 106.2,150.8 105.7,151.0 103.7,152.3 102.7,152.6 101.7,152.7 99.7,152.7 98.3,153.0 97.6,153.5 97.3,154.0 97.1,154.5 97.1,155.5 97.5,156.5 98.2,157.4 98.7,157.7 99.2,157.9 100.2,158.0 102.2,158.0 104.2,158.2 105.2,158.1 107.2,157.6 108.2,157.5 109.2,157.7 109.6,158.0 110.2,158.5 110.4,159.0 110.4,159.5 109.2,163.2 108.7,163.7 108.2,163.6 107.7,163.3 106.1,162.0 105.2,161.4 104.7,161.2 104.2,161.2 103.7,161.3 103.2,161.5 102.2,162.2 100.8,163.5 100.1,164.5 99.9,165.0 99.8,165.5 99.9,166.5 100.2,167.5 100.7,168.5 101.2,169.0 101.7,169.3 102.7,169.7 104.1,170.0 104.9,170.5 104.9,171.0 104.0,172.5 103.7,173.5 M127.8,160.5 128.7,159.7 129.6,158.5 130.2,157.5 130.4,156.5 130.2,155.0 129.7,153.5 129.2,152.6 128.7,152.1 128.2,152.0 127.7,152.1 125.2,153.8 123.0,155.0 122.4,155.5 122.3,156.0 122.4,156.5 122.9,157.5 124.0,159.0 125.2,160.4 125.7,160.7 126.2,160.9 126.7,160.9 127.2,160.8 127.8,160.5 M63.2,154.7 63.7,154.9 64.2,155.3 65.9,157.0 68.7,159.5 70.6,161.5 70.9,162.0 71.0,162.5 70.9,163.0 70.4,164.5 70.3,165.0 70.4,165.5 70.6,166.0 71.6,167.5 71.8,168.0 71.8,168.5 71.7,169.0 71.4,169.5 71.0,170.0 70.2,170.6 69.2,171.1 67.7,171.5 66.8,172.0 66.2,172.7 65.9,173.5 M142.2,173.5 141.5,170.5 141.6,169.5 142.1,167.0 142.1,166.0 141.9,164.5 141.5,163.0 140.9,161.5 140.7,161.2 140.2,160.6 139.7,160.5 139.2,160.7 138.7,161.0 137.7,162.0 134.8,165.5 134.3,166.5 134.2,167.5 134.3,169.5 134.5,170.5 135.2,172.5 135.3,173.5 M79.1,173.5 79.2,171.5 79.3,171.0 79.7,170.1 82.2,166.9 82.7,166.5 83.2,166.5 83.7,166.6 84.0,167.0 84.0,167.5 83.5,169.0 83.2,170.0 83.2,171.0 83.5,173.5 M111.4,173.5 111.6,171.0 111.9,170.0 112.2,169.3 112.7,168.8 113.2,168.5 113.7,168.4 114.7,168.3 115.7,168.5 116.8,169.0 117.5,169.5 117.9,170.0 118.1,170.5 118.0,171.0 116.4,172.5 116.1,173.0 116.0,173.5 M75.7,153.0 74.7,153.2 74.2,153.2 73.7,153.0 73.2,152.8 72.5,152.0 71.6,150.5 70.8,149.5 68.8,148.0 68.3,147.5 67.5,146.5 67.3,146.0 67.3,145.5 67.5,145.0 67.9,144.5 68.7,144.1 69.2,144.1 69.7,144.2 70.2,144.5 72.2,146.5 73.2,147.2 74.7,147.9 77.2,148.6 77.7,148.6 78.2,148.5 79.7,147.4 80.2,147.2 80.7,147.1 81.2,147.3 81.7,147.7 82.1,148.5 82.2,149.0 82.1,150.0 81.8,151.0 81.2,151.8 80.7,152.1 80.2,152.2 78.7,152.1 78.2,152.1 75.7,153.0 M142.7,173.5 142.0,171.0 141.9,170.0 142.1,169.0 142.7,167.0 142.6,166.0 141.9,163.0 141.0,160.5 140.8,160.0 140.9,159.5 141.5,159.0 143.7,157.7 144.7,157.2 147.0,156.5 147.7,156.1 148.3,155.5 148.5,155.0 148.4,154.0 147.3,151.0 147.2,150.0 147.2,149.0 147.5,148.0 148.2,146.8 149.2,145.6 149.7,145.3 150.2,145.4 151.5,147.0 152.9,148.0 154.2,148.6 157.7,149.8 158.3,150.0 159.0,150.5 159.4,151.0 159.7,151.5 159.8,153.5 159.8,154.5 159.6,155.5 159.2,156.5 158.5,157.5 158.4,158.0 158.4,158.5 158.8,159.5 158.8,160.5 158.6,161.0 157.9,162.5 157.2,163.7 156.7,164.3 156.5,164.5 155.7,164.8 154.2,165.1 152.8,165.5 151.8,166.0 151.2,166.5 150.9,167.0 150.2,168.3 149.3,169.5 149.2,170.0 149.1,171.0 149.3,173.5 M89.1,173.5 89.3,172.0 89.4,171.5 89.7,171.0 90.2,170.5 90.7,170.3 94.4,169.0 95.7,168.4 96.2,168.0 97.0,167.0 97.7,165.8 98.0,165.5 98.1,165.0 98.0,164.5 97.0,163.0 96.0,162.0 94.2,160.5 92.2,158.0 91.5,157.5 89.2,156.0 88.6,155.5 87.8,154.5 86.9,153.0 86.6,152.0 86.7,151.0 86.8,150.5 87.5,149.5 88.0,149.0 88.7,148.6 90.2,148.1 91.7,148.2 94.2,148.8 95.2,148.8 95.9,148.5 97.0,147.5 97.7,147.0 98.2,146.8 99.2,146.6 104.7,146.4 109.2,146.4 110.2,146.5 111.2,146.7 112.2,147.2 112.7,147.6 113.2,148.4 114.4,151.0 115.9,153.5 116.1,154.0 116.1,154.5 115.7,155.1 115.2,155.1 113.4,154.0 110.7,152.8 109.8,152.0 108.2,150.3 107.7,150.0 107.2,149.9 106.7,150.0 105.7,150.4 103.7,151.8 102.7,152.3 101.7,152.4 99.2,152.4 98.2,152.6 97.5,153.0 97.1,153.5 96.8,154.0 96.6,155.0 96.7,155.9 96.9,156.5 97.2,157.1 97.7,157.7 98.2,158.0 98.7,158.3 99.7,158.4 102.2,158.4 104.2,158.7 104.7,158.7 106.7,158.1 107.7,158.0 108.7,158.2 109.2,158.5 109.6,159.0 109.7,159.5 109.6,160.5 109.2,161.7 108.7,162.5 108.2,162.7 107.7,162.6 105.2,161.0 104.7,160.8 104.2,160.8 103.7,160.9 103.2,161.1 102.0,162.0 99.1,164.5 98.8,165.0 98.7,165.5 99.4,167.5 100.1,169.0 100.7,169.6 102.9,171.0 103.1,171.5 102.9,173.5 M124.2,154.0 123.2,154.4 122.2,154.4 121.7,154.2 121.2,153.3 121.0,152.0 121.1,149.5 121.0,147.5 121.0,147.0 121.7,146.6 122.2,146.5 123.2,146.6 124.2,146.9 125.4,147.5 126.1,148.0 127.1,149.0 127.9,150.0 128.1,150.5 127.9,151.0 127.5,151.5 126.5,152.5 125.2,153.5 124.2,154.0 M130.3,173.5 130.1,173.0 128.5,171.5 128.1,171.0 128.0,170.5 127.9,170.0 128.0,169.0 128.6,167.0 128.5,166.5 128.1,166.0 126.7,165.1 125.4,164.0 124.7,163.7 123.7,163.5 118.2,163.4 117.2,163.2 116.2,162.8 115.1,162.0 113.7,160.5 113.1,159.5 113.0,159.0 113.0,158.5 113.3,158.0 113.7,157.5 115.2,156.3 115.7,156.2 117.2,157.0 118.2,157.2 119.2,157.2 120.7,156.8 121.2,156.8 121.7,157.0 122.2,157.4 124.7,160.4 125.7,161.3 126.2,161.4 126.7,161.4 127.2,161.2 128.2,160.5 129.5,159.0 130.4,157.5 130.7,156.5 130.6,155.5 130.2,153.8 129.7,152.5 128.9,151.0 128.8,150.5 129.1,150.0 129.6,149.5 130.2,149.1 131.2,148.9 133.7,148.5 135.0,148.0 136.2,147.3 136.7,147.2 137.2,147.3 137.7,147.6 138.2,148.2 138.7,149.0 139.2,150.4 139.3,151.0 139.2,152.0 138.3,155.0 138.2,156.0 138.5,157.0 139.5,159.0 139.5,159.5 139.2,160.0 136.2,163.4 134.7,164.9 134.2,165.2 133.2,165.6 131.2,165.6 130.5,166.0 130.9,166.5 132.2,167.0 132.8,167.5 133.2,168.5 133.6,170.5 134.5,172.5 134.8,173.5 M63.2,155.4 63.7,155.6 64.2,156.0 67.7,158.9 69.3,160.5 70.0,161.5 70.2,162.0 70.3,162.5 70.2,163.0 69.5,165.0 69.5,165.5 69.7,166.0 70.7,167.2 71.1,168.0 71.2,168.5 71.0,169.0 70.7,169.6 70.2,170.0 69.7,170.3 67.7,171.0 66.7,171.5 66.2,171.9 65.8,172.5 65.5,173.5 M149.0,166.5 149.1,166.0 148.9,165.5 148.2,165.0 147.7,165.2 147.4,165.5 147.3,166.0 147.5,166.5 147.7,166.8 148.2,167.0 148.7,166.8 149.0,166.5 M158.7,170.3 158.2,170.1 157.7,169.2 157.5,168.5 157.5,168.0 157.7,167.5 158.2,167.3 158.7,167.6 159.1,168.5 159.2,169.0 159.1,169.5 158.7,170.3 M79.3,173.5 79.5,171.5 80.0,170.5 80.7,169.6 81.2,169.2 81.7,168.8 82.2,168.8 82.4,169.5 83.0,173.5 M112.0,173.5 112.2,172.1 112.7,170.8 113.2,170.2 113.7,169.8 114.2,169.5 114.7,169.4 115.2,169.4 115.7,169.6 116.3,170.0 116.5,170.5 116.3,171.0 115.7,171.8 115.3,172.5 115.1,173.5 M76.2,152.5 75.2,152.8 74.7,152.9 73.7,152.7 73.2,152.3 72.5,151.5 71.7,149.9 71.2,149.2 70.7,148.7 69.6,148.0 68.6,147.0 68.2,146.0 68.2,145.5 68.5,145.0 69.2,144.8 69.7,144.9 70.2,145.2 71.7,146.6 72.8,147.5 73.7,147.9 77.7,149.3 78.2,149.2 78.7,148.9 79.7,148.0 80.2,147.8 80.7,147.7 81.3,148.0 81.6,148.5 81.7,149.5 81.5,150.5 81.2,151.0 80.7,151.4 80.2,151.5 78.7,151.4 78.2,151.5 76.2,152.5 M143.3,173.5 143.0,172.5 142.5,171.0 142.4,170.0 142.7,168.8 143.3,167.5 143.5,167.0 143.5,166.5 142.7,164.5 141.7,161.5 141.6,160.5 141.6,160.0 141.9,159.5 142.2,159.2 143.2,158.5 144.7,157.7 147.7,156.8 148.2,156.5 148.7,156.0 148.9,155.5 148.9,154.5 148.6,153.5 147.6,151.0 147.4,149.5 147.6,148.5 148.2,147.4 148.7,146.9 149.2,146.5 149.7,146.4 150.2,146.5 152.2,148.0 153.2,148.5 154.7,149.1 157.6,150.0 158.6,150.5 159.1,151.0 159.4,151.5 159.5,152.5 159.6,153.5 159.3,155.0 158.7,156.0 158.2,156.4 156.8,157.0 156.5,157.5 156.5,158.0 157.5,159.5 157.8,160.5 157.7,161.0 157.4,162.0 156.8,163.0 156.2,163.7 155.7,164.0 154.7,164.4 152.2,164.9 151.2,165.1 150.2,164.8 148.7,164.0 148.2,163.9 147.7,163.9 147.2,164.0 146.7,164.5 146.0,165.5 145.6,166.5 145.6,167.0 145.8,167.5 148.2,171.3 148.7,172.5 148.8,173.5 M100.2,163.0 99.2,163.4 98.7,163.4 98.2,163.2 94.7,160.3 92.7,157.9 91.7,157.1 89.7,156.1 88.7,155.3 88.1,154.5 87.4,153.5 87.0,152.5 86.9,152.0 87.0,151.0 87.5,150.0 88.2,149.3 88.7,149.0 89.2,148.8 90.2,148.5 91.7,148.6 94.2,149.2 95.2,149.2 95.7,149.1 96.2,148.8 97.6,147.5 98.2,147.1 99.7,146.8 104.7,146.8 107.2,146.9 109.7,146.9 110.8,147.0 111.7,147.5 112.7,148.5 113.2,149.2 114.3,151.5 114.6,152.5 114.6,153.0 114.2,153.4 113.7,153.4 112.7,153.1 111.1,152.5 110.2,151.8 108.7,149.8 108.2,149.3 107.7,149.1 107.2,149.0 106.7,149.1 106.2,149.4 105.7,149.7 103.7,151.3 102.7,151.9 101.7,152.1 99.2,152.1 98.2,152.2 97.5,152.5 96.9,153.0 96.6,153.5 96.2,154.5 96.1,155.5 96.2,156.0 96.5,157.0 96.8,157.5 97.2,158.0 97.9,158.5 98.7,158.8 99.2,158.8 101.2,158.7 102.2,158.8 104.2,159.4 104.7,159.3 106.7,158.5 107.7,158.5 108.2,158.6 108.7,158.8 109.1,159.5 109.2,160.0 109.0,161.0 108.7,161.6 108.2,162.0 107.7,162.1 107.2,161.9 104.7,160.2 104.2,160.2 103.2,160.7 101.2,162.3 100.2,163.0 M124.2,153.7 123.2,153.9 122.7,153.9 122.2,153.7 121.7,153.1 121.4,152.5 121.3,151.0 121.5,148.0 121.7,147.4 122.2,147.0 123.2,147.0 124.2,147.3 124.7,147.5 125.4,148.0 126.0,148.5 126.4,149.0 127.0,150.0 127.1,150.5 127.1,151.0 126.9,151.5 126.6,152.0 125.5,153.0 124.2,153.7 M134.2,164.6 133.2,164.8 130.7,164.7 128.7,164.8 128.2,164.7 127.6,164.5 126.9,164.0 126.1,163.0 126.0,162.5 127.2,161.8 128.7,160.3 130.1,158.5 130.9,157.0 131.0,156.5 130.9,155.5 130.0,151.5 130.0,151.0 130.2,150.4 130.5,150.0 131.4,149.5 134.2,148.7 136.2,148.0 136.7,147.9 137.2,148.0 137.7,148.3 138.2,148.9 138.7,149.7 138.9,150.5 139.0,151.0 138.9,152.0 138.0,155.0 137.8,156.0 138.0,157.0 138.6,158.5 138.8,159.0 138.7,159.5 138.6,160.0 138.3,160.5 136.2,163.1 135.2,164.0 134.2,164.6 M63.2,156.1 63.7,156.2 64.2,156.5 67.2,158.9 68.4,160.0 69.5,161.5 69.7,162.5 69.7,163.0 68.9,165.0 68.8,165.5 68.8,166.0 69.0,166.5 70.2,167.8 70.4,168.5 70.3,169.0 69.7,169.7 69.2,170.0 67.2,170.7 66.2,171.4 65.7,171.9 65.4,172.5 65.1,173.5 M122.7,163.0 120.7,163.1 118.7,163.1 117.2,162.8 116.3,162.5 115.2,161.7 114.2,160.5 113.6,159.5 113.6,159.0 113.7,158.5 114.2,157.9 114.7,157.5 115.2,157.4 116.2,157.4 118.2,157.9 119.2,157.9 120.7,157.6 121.2,157.6 121.7,157.8 122.2,158.1 123.2,159.0 124.4,160.5 125.2,162.0 125.1,162.5 124.2,162.8 122.7,163.0 M89.5,173.5 89.6,172.5 89.9,171.5 90.3,171.0 90.7,170.7 92.2,170.0 95.5,169.0 97.7,168.0 98.2,168.0 98.7,168.5 99.8,170.0 101.6,171.5 101.9,172.0 102.0,172.5 102.0,173.5 M131.7,171.9 130.7,171.8 129.7,171.4 129.2,171.1 128.7,170.5 128.6,170.0 128.6,169.5 128.7,169.0 129.2,168.2 129.7,167.9 130.2,167.9 130.7,168.0 131.2,168.2 131.7,168.5 132.0,169.0 132.2,170.0 132.0,171.5 131.7,171.9 M79.7,173.5 79.8,172.0 80.2,171.0 80.7,170.4 81.2,170.2 81.7,170.4 82.2,171.3 82.5,172.5 82.6,173.5 M132.1,173.5 132.2,172.5 132.7,172.4 133.2,172.7 133.5,173.0 133.7,173.5 M113.2,173.5 113.2,173.4 113.7,172.9 113.8,173.5 M74.7,152.5 74.2,152.5 73.7,152.2 73.2,151.8 72.7,151.0 71.5,148.5 71.2,148.1 70.2,147.5 69.7,147.0 69.4,146.5 69.6,146.0 69.7,146.0 70.2,146.2 71.1,147.0 71.7,147.7 72.7,148.1 74.3,148.5 75.7,148.9 76.8,149.5 77.5,150.0 77.8,150.5 77.6,151.0 77.1,151.5 76.4,152.0 75.7,152.3 74.7,152.5 M100.2,162.5 99.2,162.8 98.7,162.7 98.2,162.4 95.3,160.0 93.7,158.0 93.2,157.5 92.3,157.0 90.2,156.1 89.2,155.4 88.7,154.9 87.7,153.5 87.3,152.5 87.2,152.0 87.3,151.0 87.7,150.3 88.2,149.8 89.2,149.1 89.7,149.0 90.7,148.8 91.7,148.9 94.7,149.7 95.7,149.6 96.2,149.4 96.7,149.0 97.6,148.0 98.2,147.5 98.7,147.2 99.7,147.0 101.3,147.0 104.2,147.2 105.3,147.5 105.7,147.8 105.9,148.0 105.7,148.5 105.4,149.0 104.1,150.5 103.2,151.2 102.6,151.5 101.7,151.7 98.7,151.8 97.7,151.9 97.2,152.2 96.7,152.6 96.2,153.4 95.9,154.0 95.6,155.5 95.6,156.5 95.9,157.5 96.7,158.5 97.5,159.0 98.2,159.2 99.2,159.3 101.2,159.1 102.2,159.2 102.8,159.5 103.1,160.0 102.8,160.5 101.8,161.5 100.2,162.5 M123.2,153.5 122.7,153.4 122.1,153.0 121.7,152.1 121.6,151.0 121.8,149.0 122.0,148.0 122.2,147.7 122.6,147.5 123.2,147.4 124.2,147.7 124.8,148.0 125.5,148.5 126.2,149.5 126.6,150.5 126.6,151.0 126.5,151.5 126.2,152.0 125.7,152.5 125.0,153.0 124.2,153.4 123.2,153.5 M144.7,165.3 144.2,165.4 143.7,165.1 143.2,164.4 142.7,163.3 142.3,162.0 142.1,161.0 142.1,160.5 142.3,160.0 142.7,159.5 143.3,159.0 144.7,158.3 147.2,157.5 148.2,157.1 148.9,156.5 149.3,156.0 149.4,155.5 149.3,154.5 149.0,153.5 148.0,151.5 147.7,150.0 147.8,149.0 148.0,148.5 148.2,148.0 148.7,147.5 149.2,147.2 149.7,147.1 150.2,147.2 153.6,149.0 157.7,150.3 158.7,151.0 159.1,151.5 159.3,153.0 159.2,154.0 158.8,155.0 158.2,155.7 156.2,156.4 155.6,157.0 155.5,157.5 155.6,158.0 156.6,159.5 156.9,160.0 157.1,160.5 157.1,161.0 156.8,162.0 156.1,163.0 155.4,163.5 154.7,163.8 153.2,164.2 151.7,164.4 150.7,164.3 148.7,163.3 147.7,163.1 147.2,163.3 146.7,163.5 145.2,165.0 144.7,165.3 M113.2,152.6 112.7,152.6 111.7,152.3 111.2,152.0 110.6,151.5 109.9,150.5 109.5,149.5 109.2,148.5 109.3,148.0 109.7,147.8 110.2,147.7 110.7,147.8 111.3,148.0 112.2,148.7 112.7,149.3 113.2,150.1 113.7,151.5 113.8,152.0 113.7,152.3 113.4,152.5 113.2,152.6 M134.2,164.2 133.7,164.3 132.7,164.3 128.7,163.9 128.0,163.5 127.6,163.0 127.6,162.5 128.0,161.5 130.3,158.5 130.9,157.5 131.2,157.0 131.3,156.5 131.2,155.5 130.7,153.0 130.5,152.0 130.7,151.0 131.0,150.5 131.6,150.0 132.7,149.5 135.7,148.6 136.7,148.5 137.2,148.6 137.7,148.9 138.2,149.5 138.5,150.0 138.7,150.9 138.7,151.5 138.5,152.5 137.6,155.0 137.4,156.0 137.6,157.0 138.2,158.5 138.3,159.0 138.3,159.5 137.9,160.5 136.4,162.5 135.2,163.6 134.2,164.2 M80.7,150.5 80.2,150.7 79.7,150.6 79.5,150.5 79.2,150.0 79.3,149.5 79.7,149.0 80.2,148.5 80.7,148.5 81.1,149.0 81.2,149.5 81.0,150.0 80.7,150.5 M63.2,156.7 64.2,157.1 66.7,158.8 67.5,159.5 68.2,160.2 68.8,161.0 69.2,162.0 69.2,163.0 68.1,165.5 68.0,166.0 68.0,166.5 68.2,166.8 69.2,168.0 69.4,168.5 69.2,169.0 68.6,169.5 67.2,170.1 66.2,170.7 65.7,171.3 65.2,172.0 65.0,172.5 64.7,173.5 M122.7,162.5 121.2,162.7 119.2,162.8 117.7,162.6 116.7,162.3 115.5,161.5 114.6,160.5 114.1,159.5 114.1,159.0 114.4,158.5 114.7,158.2 115.2,158.0 115.7,158.0 118.2,158.5 119.2,158.5 120.7,158.2 121.7,158.4 122.2,158.7 123.2,159.5 123.9,160.5 124.1,161.0 124.2,161.5 123.9,162.0 123.2,162.4 122.7,162.5 M108.2,161.3 107.7,161.5 107.2,161.4 106.5,161.0 105.9,160.5 105.6,160.0 105.8,159.5 106.7,159.0 107.2,158.9 107.7,159.0 108.2,159.2 108.5,159.5 108.7,160.0 108.6,160.5 108.2,161.3 M144.0,173.5 143.9,173.0 143.1,171.0 143.0,170.0 143.2,169.3 143.5,169.0 143.7,168.7 144.2,168.5 144.7,168.6 145.2,168.9 145.7,169.5 146.7,171.0 147.7,172.3 148.0,173.0 148.1,173.5 M89.9,173.5 90.0,172.5 90.2,171.9 90.7,171.2 91.2,170.8 92.2,170.3 93.7,169.9 95.2,169.5 96.7,169.3 97.2,169.4 97.6,169.5 98.2,169.9 100.3,172.0 100.7,172.7 100.9,173.5 M80.1,173.5 80.2,172.5 80.3,172.0 80.7,171.5 81.2,171.4 81.8,172.0 82.1,173.5 M94.2,156.8 93.7,156.9 93.2,156.8 90.7,156.0 89.7,155.5 88.6,154.5 88.2,153.9 87.7,153.0 87.4,152.0 87.7,151.0 88.0,150.5 88.4,150.0 89.2,149.5 89.7,149.3 90.7,149.2 91.7,149.3 95.2,150.1 95.7,150.1 96.2,150.0 96.7,149.7 97.6,148.5 98.2,147.9 98.9,147.5 99.7,147.3 100.7,147.3 102.2,147.4 103.2,147.6 104.2,148.0 104.5,148.5 104.4,149.0 104.2,149.5 103.4,150.5 102.7,151.0 102.2,151.2 101.2,151.4 97.7,151.4 97.2,151.5 96.7,151.8 96.2,152.5 95.7,153.5 94.7,156.3 94.2,156.8 M124.2,153.1 123.7,153.2 123.2,153.1 122.7,152.9 122.2,152.4 121.9,151.5 121.9,150.0 122.2,148.7 122.7,148.0 123.2,147.9 123.7,147.9 124.2,148.0 125.2,148.7 125.8,149.5 126.2,150.5 126.2,151.0 126.1,151.5 125.8,152.0 125.2,152.6 124.2,153.1 M144.7,164.2 144.2,164.3 143.7,164.0 143.0,163.0 142.7,162.0 142.5,161.0 142.6,160.5 142.9,160.0 143.7,159.3 144.7,158.8 145.7,158.4 147.2,158.1 148.2,157.7 149.2,157.0 149.6,156.5 149.8,156.0 149.9,155.5 149.7,154.5 148.3,151.5 148.0,150.5 148.0,149.5 148.1,149.0 148.3,148.5 148.7,148.0 149.2,147.7 149.7,147.6 150.2,147.7 153.7,149.3 157.2,150.4 158.3,151.0 158.7,151.5 159.0,152.5 159.0,153.5 158.7,154.5 158.2,155.1 157.7,155.3 155.7,156.0 155.1,156.5 154.8,157.0 154.8,157.5 155.0,158.0 156.3,160.0 156.5,160.5 156.5,161.0 156.5,161.5 156.3,162.0 155.7,162.7 155.2,163.1 154.2,163.5 152.7,163.9 151.7,163.9 150.7,163.7 148.7,162.8 147.7,162.5 147.2,162.6 146.7,162.8 145.2,164.0 144.7,164.2 M75.2,152.1 74.7,152.1 74.1,152.0 73.7,151.7 73.2,151.1 72.9,150.5 72.8,149.5 73.1,149.0 73.7,148.9 74.7,149.0 75.9,149.5 76.5,150.0 76.8,150.5 76.7,151.0 76.2,151.6 75.2,152.1 M134.7,163.6 133.7,163.9 132.7,164.0 131.2,163.8 129.7,163.5 129.2,163.3 128.7,163.0 128.3,162.5 128.3,162.0 128.8,161.0 130.9,158.0 131.5,157.0 131.6,156.0 131.1,153.5 130.9,152.5 131.0,151.5 131.3,151.0 131.7,150.5 132.2,150.2 133.2,149.7 135.7,149.0 136.7,148.9 137.2,149.1 137.8,149.5 138.2,150.2 138.4,151.0 138.4,151.5 138.2,152.5 137.3,155.0 137.0,156.0 137.1,157.0 137.8,158.5 137.9,159.5 137.6,160.5 137.0,161.5 135.7,162.9 134.7,163.6 M112.7,151.8 112.2,151.8 111.7,151.7 110.9,151.0 110.7,150.5 110.5,150.0 110.6,149.5 110.7,149.3 111.2,149.1 111.7,149.3 112.2,149.7 112.5,150.0 112.8,150.5 113.0,151.0 113.0,151.5 112.7,151.8 M63.2,157.3 63.7,157.5 64.7,158.0 66.2,158.9 67.2,159.6 68.1,160.5 68.4,161.0 68.8,162.0 68.8,162.5 68.6,163.5 67.1,166.0 66.9,166.5 66.9,167.0 67.4,168.0 67.6,168.5 67.3,169.0 66.2,170.0 65.2,171.2 64.5,172.5 64.3,173.5 M122.7,162.0 121.2,162.3 119.7,162.4 118.2,162.4 117.2,162.2 116.2,161.7 115.4,161.0 114.7,160.0 114.6,159.5 114.7,159.2 114.8,159.0 115.2,158.7 115.7,158.5 116.2,158.5 118.7,159.0 120.7,158.8 121.7,158.9 122.2,159.2 122.7,159.6 123.3,160.5 123.5,161.0 123.4,161.5 122.7,162.0 M100.2,162.1 99.7,162.2 99.2,162.2 98.7,162.0 98.1,161.5 97.6,161.0 97.4,160.5 97.8,160.0 100.7,159.5 101.7,159.6 102.2,160.0 102.2,160.5 101.8,161.0 101.2,161.5 100.2,162.1 M107.7,160.6 107.2,160.7 106.9,160.5 106.6,160.0 107.2,159.6 107.7,159.8 107.9,160.0 107.8,160.5 107.7,160.6 M90.3,173.5 90.4,172.5 90.6,172.0 91.0,171.5 91.6,171.0 92.7,170.5 93.7,170.2 94.7,170.0 95.7,170.0 96.7,170.1 97.2,170.4 97.7,170.8 98.3,171.5 98.9,172.5 99.2,173.5 M145.1,173.5 145.0,172.5 144.2,171.0 144.2,170.5 144.7,170.5 145.6,172.0 146.5,173.0 146.8,173.5 M101.7,151.0 100.2,151.2 98.3,151.0 97.7,150.8 97.3,150.5 97.3,150.0 97.7,149.0 98.1,148.5 98.7,148.0 99.2,147.8 100.2,147.6 101.7,147.7 102.8,148.0 103.2,148.3 103.5,148.5 103.6,149.0 103.5,149.5 103.2,150.0 102.7,150.5 101.7,151.0 M124.7,152.6 123.7,152.8 123.2,152.8 122.7,152.5 122.4,152.0 122.1,151.0 122.2,150.0 122.5,149.0 122.7,148.7 123.2,148.4 123.7,148.3 124.2,148.5 124.7,148.8 125.2,149.2 125.7,150.0 125.8,150.5 125.9,151.0 125.7,151.5 125.4,152.0 124.7,152.6 M154.2,163.1 152.7,163.4 151.2,163.4 150.2,163.1 148.7,162.3 147.7,161.9 147.2,161.9 146.7,162.1 145.2,163.2 144.7,163.4 144.2,163.4 143.7,163.0 143.2,162.2 143.1,161.5 143.1,161.0 143.2,160.5 143.7,159.9 144.7,159.3 145.7,159.0 147.2,158.8 148.2,158.3 149.4,157.5 149.9,157.0 150.2,156.5 150.3,156.0 150.4,155.5 150.1,154.5 148.7,151.9 148.2,150.5 148.3,149.5 148.4,149.0 148.7,148.6 149.2,148.2 149.7,148.0 150.7,148.2 154.2,149.9 157.2,150.7 157.8,151.0 158.4,151.5 158.7,152.5 158.7,153.0 158.7,153.5 158.5,154.0 158.2,154.5 157.7,154.8 155.7,155.4 155.2,155.7 154.8,156.0 154.4,156.5 154.2,157.0 154.2,157.5 154.4,158.0 155.7,160.0 155.9,160.5 156.0,161.0 155.9,161.5 155.7,162.0 155.2,162.6 154.2,163.1 M134.2,163.5 133.7,163.7 132.7,163.7 130.2,163.2 129.6,163.0 129.0,162.5 128.8,162.0 128.9,161.5 129.1,161.0 129.7,160.0 131.6,157.5 132.0,156.5 131.9,155.5 131.3,153.0 131.3,152.0 131.7,151.2 132.4,150.5 133.7,149.9 135.7,149.4 136.7,149.4 137.2,149.6 137.7,150.0 138.0,150.5 138.1,151.0 138.1,151.5 138.0,152.5 136.6,156.0 136.6,156.5 136.7,157.0 137.6,159.0 137.5,160.0 137.1,161.0 136.2,162.2 135.2,163.1 134.2,163.5 M75.2,151.5 74.7,151.6 74.2,151.5 73.7,151.0 73.5,150.5 73.6,150.0 73.7,149.8 74.2,149.6 74.7,149.6 75.7,150.0 76.0,150.5 75.9,151.0 75.2,151.5 M93.2,156.1 91.7,156.0 90.2,155.4 89.2,154.8 88.5,154.0 88.0,153.0 87.7,152.0 88.0,151.0 88.7,150.2 89.7,149.7 90.2,149.6 91.2,149.5 92.7,149.8 94.9,150.5 95.9,151.0 96.1,151.5 95.9,152.0 94.7,154.9 94.2,155.6 93.7,156.0 93.2,156.1 M63.2,158.0 64.7,158.5 65.7,159.0 66.7,159.6 67.7,160.5 68.0,161.0 68.4,162.0 68.3,163.0 67.7,164.3 66.7,165.4 65.3,166.5 65.0,167.0 65.1,167.5 65.6,168.5 65.7,169.0 65.3,170.0 64.0,172.5 63.8,173.5 M120.2,162.0 118.2,162.0 116.7,161.6 116.0,161.0 115.5,160.5 115.3,160.0 115.3,159.5 115.7,159.2 116.2,159.1 118.7,159.5 121.2,159.4 121.7,159.5 122.4,160.0 122.7,160.5 122.7,161.0 122.4,161.5 121.2,161.9 120.2,162.0 M99.7,161.5 99.2,161.2 99.0,161.0 99.2,160.5 100.2,160.2 100.7,160.1 101.2,160.3 101.3,160.5 101.0,161.0 100.2,161.4 99.7,161.5 M90.6,173.5 90.8,172.5 91.1,172.0 91.7,171.4 92.3,171.0 93.2,170.7 94.7,170.4 95.7,170.5 96.2,170.7 96.8,171.0 97.2,171.5 97.6,172.0 97.9,173.0 98.0,173.5 M101.7,150.6 101.2,150.7 100.2,150.8 98.7,150.6 98.5,150.5 98.0,150.0 98.1,149.5 98.3,149.0 98.7,148.5 99.6,148.0 100.7,147.9 101.7,148.1 102.5,148.5 102.8,149.0 102.8,149.5 102.5,150.0 101.7,150.6 M152.7,163.1 151.7,163.1 150.7,162.9 149.7,162.4 148.2,161.3 147.7,161.0 147.2,160.9 146.7,161.1 145.2,162.3 144.7,162.5 144.2,162.4 143.8,162.0 143.7,161.5 143.7,161.0 144.2,160.3 144.7,160.0 145.2,159.8 147.2,159.8 148.2,159.1 149.7,157.8 150.5,157.0 150.8,156.5 150.9,156.0 150.7,155.0 150.3,154.0 148.8,151.5 148.5,150.5 148.5,150.0 148.7,149.2 149.2,148.6 149.7,148.4 150.7,148.6 154.2,150.2 157.2,151.0 157.9,151.5 158.4,152.5 158.4,153.0 158.3,153.5 158.0,154.0 157.7,154.3 157.2,154.6 155.2,155.2 154.7,155.5 154.1,156.0 153.7,156.5 153.6,157.0 153.6,157.5 153.8,158.0 155.2,160.0 155.4,160.5 155.5,161.0 155.4,161.5 155.2,161.9 154.7,162.4 153.7,162.9 152.7,163.1 M124.7,152.2 124.2,152.4 123.7,152.5 123.2,152.3 122.7,151.9 122.4,151.0 122.5,150.0 122.7,149.4 123.2,148.9 123.7,148.8 124.2,148.9 124.7,149.2 125.3,150.0 125.5,150.5 125.5,151.0 125.2,151.7 124.7,152.2 M93.2,155.5 92.2,155.6 91.2,155.5 90.2,155.2 89.2,154.4 88.5,153.5 88.1,152.5 88.0,152.0 88.2,151.5 88.7,150.6 89.2,150.3 89.7,150.0 90.2,149.9 91.2,149.8 92.2,150.0 93.2,150.3 94.9,151.0 95.3,151.5 95.4,152.0 95.1,153.0 94.7,154.0 94.2,154.8 93.7,155.3 93.2,155.5 M134.7,163.1 134.2,163.3 133.2,163.4 132.2,163.4 130.7,163.1 130.2,162.9 129.6,162.5 129.3,162.0 129.2,161.5 129.3,161.0 129.9,160.0 131.9,157.5 132.4,156.5 132.4,156.0 131.8,154.0 131.6,153.0 131.7,152.0 131.9,151.5 132.3,151.0 132.7,150.7 133.7,150.2 135.2,149.8 136.2,149.7 136.7,149.8 137.2,150.0 137.7,150.7 137.8,151.5 137.7,152.5 137.2,153.8 136.4,155.5 136.2,156.5 136.3,157.0 137.2,159.0 137.3,159.5 137.3,160.0 136.8,161.0 136.2,161.9 135.6,162.5 134.7,163.1 M63.2,158.7 64.2,158.8 65.2,159.2 66.7,160.0 67.3,160.5 67.7,161.1 68.0,162.0 68.0,162.5 67.7,163.5 67.4,164.0 66.7,164.8 66.2,165.1 65.7,165.4 64.7,165.6 63.2,165.7 M119.7,161.5 118.2,161.5 117.2,161.2 116.8,161.0 116.3,160.5 116.2,160.0 116.7,159.8 119.2,160.1 120.7,160.0 121.2,160.1 121.7,160.5 121.6,161.0 120.7,161.4 119.7,161.5 M63.2,168.2 63.7,168.3 64.2,168.7 64.4,169.0 64.5,169.5 64.5,170.0 64.2,170.8 63.7,171.7 63.2,172.4 M91.1,173.5 91.3,172.5 91.6,172.0 92.2,171.5 93.3,171.0 94.7,170.8 95.7,171.0 96.4,171.5 96.8,172.0 97.0,172.5 97.2,173.5 M101.7,150.0 100.7,150.4 99.7,150.4 98.9,150.0 98.7,149.5 98.9,149.0 99.5,148.5 100.2,148.3 100.7,148.3 101.4,148.5 102.0,149.0 102.0,149.5 101.7,150.0 M153.2,162.6 151.7,162.7 150.7,162.5 149.9,162.0 149.3,161.5 148.8,161.0 148.6,160.5 148.5,160.0 148.8,159.5 149.2,159.0 151.5,157.0 151.8,156.5 151.5,155.5 151.0,154.5 149.3,152.0 148.9,151.0 148.8,150.0 148.9,149.5 149.2,149.1 149.7,148.9 150.2,148.8 150.7,148.9 154.2,150.5 157.2,151.4 157.7,152.0 157.9,152.5 158.0,153.0 157.8,153.5 157.3,154.0 155.7,154.5 154.7,154.9 153.8,155.5 152.7,156.5 152.7,157.0 152.9,157.5 154.7,160.0 155.0,160.5 155.0,161.0 154.9,161.5 154.5,162.0 153.7,162.5 153.2,162.6 M124.2,152.0 123.7,152.1 123.2,151.8 123.0,151.5 122.8,151.0 122.8,150.5 122.9,150.0 123.2,149.5 123.7,149.3 124.2,149.4 124.7,149.8 125.1,150.5 125.1,151.0 124.9,151.5 124.2,152.0 M93.2,155.0 92.2,155.3 91.2,155.2 90.2,154.9 89.2,154.1 88.7,153.4 88.4,152.5 88.3,152.0 88.8,151.0 89.7,150.4 90.2,150.2 91.2,150.1 92.2,150.3 93.2,150.6 94.1,151.0 94.7,151.5 94.9,152.0 94.9,152.5 94.5,153.5 93.9,154.5 93.2,155.0 M134.2,163.0 133.7,163.2 132.7,163.2 131.7,163.0 130.7,162.8 130.2,162.5 129.7,162.0 129.6,161.5 129.6,161.0 129.8,160.5 130.5,159.5 132.3,157.5 132.7,157.0 132.9,156.5 132.9,156.0 132.2,154.3 132.0,153.5 132.0,152.5 132.1,152.0 132.4,151.5 132.8,151.0 133.7,150.5 135.2,150.1 136.2,150.0 136.7,150.2 137.2,150.5 137.4,151.0 137.5,151.5 137.5,152.0 137.2,153.0 136.7,154.2 135.9,155.5 135.7,156.0 135.6,156.5 135.8,157.0 136.7,158.5 136.9,159.0 137.0,159.5 137.0,160.0 136.6,161.0 135.8,162.0 135.2,162.5 134.2,163.0 M63.2,159.3 64.7,159.5 65.7,159.8 66.2,160.0 66.8,160.5 67.2,161.0 67.5,161.5 67.7,162.0 67.7,162.5 67.5,163.0 67.2,163.6 66.7,164.2 66.2,164.5 65.2,164.9 63.2,164.9 M91.5,173.5 91.7,172.7 92.2,172.0 93.2,171.4 94.2,171.2 95.2,171.4 95.7,171.7 96.3,172.5 96.6,173.5 M100.7,149.7 100.2,149.8 99.6,149.5 100.0,149.0 100.2,148.9 100.7,149.0 100.8,149.0 101.0,149.5 100.7,149.7 M153.2,155.2 152.7,155.3 152.2,155.1 151.7,154.7 149.7,152.0 149.2,151.1 149.1,150.5 149.2,149.8 149.7,149.3 150.2,149.2 151.2,149.4 154.2,150.9 156.3,151.5 157.0,152.0 157.4,152.5 157.4,153.0 157.0,153.5 155.2,154.2 153.2,155.2 M123.7,151.5 123.3,151.0 123.3,150.5 123.7,149.9 124.2,150.0 124.6,150.5 124.6,151.0 124.2,151.5 123.7,151.5 M93.2,154.5 92.7,154.8 91.7,154.9 90.7,154.8 89.7,154.2 89.2,153.7 88.8,153.0 88.7,152.5 88.6,152.0 88.9,151.5 89.2,151.1 89.7,150.8 90.7,150.5 92.2,150.6 93.2,150.9 93.7,151.2 94.1,151.5 94.4,152.0 94.5,152.5 94.1,153.5 93.7,154.1 93.2,154.5 M134.7,162.6 134.2,162.8 133.2,163.0 132.2,162.9 131.2,162.7 130.7,162.4 130.1,162.0 129.9,161.5 129.9,161.0 130.1,160.5 130.7,159.5 131.7,158.4 133.4,157.0 133.8,156.5 133.6,156.0 132.7,154.6 132.5,154.0 132.3,153.0 132.5,152.0 132.8,151.5 133.7,150.8 134.7,150.5 135.7,150.3 136.2,150.4 136.7,150.6 137.0,151.0 137.2,151.5 137.2,152.0 136.9,153.0 136.5,154.0 135.7,155.2 134.9,156.0 134.8,156.5 135.0,157.0 135.7,157.6 136.4,158.5 136.7,159.3 136.7,160.0 136.6,160.5 136.0,161.5 135.6,162.0 134.7,162.6 M153.7,162.0 153.2,162.2 152.2,162.3 151.2,162.2 150.6,162.0 149.9,161.5 149.5,161.0 149.3,160.5 149.3,160.0 149.5,159.5 150.2,158.7 151.2,158.1 151.7,157.9 152.2,158.0 152.7,158.3 153.8,159.5 154.2,160.0 154.4,160.5 154.5,161.0 154.3,161.5 153.7,162.0 M63.2,159.9 64.7,159.9 65.7,160.2 66.2,160.5 66.8,161.0 67.1,161.5 67.3,162.0 67.3,162.5 67.1,163.0 66.7,163.6 66.2,164.0 65.2,164.4 63.2,164.3 M92.0,173.5 92.2,172.8 92.7,172.2 93.2,171.9 94.2,171.7 94.7,171.8 95.2,172.0 95.7,172.6 96.0,173.5 M153.2,154.5 152.7,154.5 152.2,154.3 151.2,153.4 150.2,152.2 149.7,151.5 149.5,151.0 149.5,150.5 149.7,149.9 150.2,149.6 150.7,149.6 151.2,149.8 155.7,152.0 156.3,152.5 156.2,153.0 154.2,154.1 153.2,154.5 M92.2,154.5 91.2,154.6 90.7,154.4 89.9,154.0 89.4,153.5 89.1,153.0 89.0,152.5 89.0,152.0 89.4,151.5 89.7,151.2 90.2,150.9 90.7,150.8 91.2,150.8 92.2,150.9 93.2,151.3 93.5,151.5 93.9,152.0 94.0,152.5 93.9,153.0 93.7,153.5 93.2,154.0 92.7,154.3 92.2,154.5 M135.2,155.0 134.7,155.3 134.2,155.4 133.7,155.2 133.2,154.7 132.8,154.0 132.7,153.5 132.7,152.5 132.9,152.0 133.2,151.6 133.7,151.2 134.7,150.8 135.7,150.7 136.2,150.8 136.5,151.0 136.8,151.5 136.9,152.0 136.6,153.0 136.2,153.9 135.7,154.6 135.2,155.0 M134.2,162.6 133.7,162.7 132.7,162.7 131.2,162.4 130.6,162.0 130.2,161.5 130.2,161.0 130.6,160.0 131.7,158.7 133.2,157.7 134.2,157.4 135.2,157.7 135.7,158.2 136.3,159.0 136.5,159.5 136.5,160.0 136.2,160.9 135.8,161.5 135.2,162.1 134.2,162.6 M153.2,161.7 152.7,161.9 151.7,161.9 150.7,161.5 150.2,161.0 150.0,160.5 150.0,160.0 150.2,159.5 150.8,159.0 151.2,158.8 151.7,158.7 152.2,158.8 152.7,159.0 153.6,160.0 153.9,160.5 153.9,161.0 153.5,161.5 153.2,161.7 M63.2,160.6 64.7,160.5 65.7,160.7 66.2,161.0 66.6,161.5 66.8,162.0 66.8,162.5 66.6,163.0 66.2,163.5 65.7,163.7 64.7,163.9 63.2,163.7 M92.6,173.5 92.8,173.0 93.2,172.6 93.7,172.4 94.2,172.4 94.7,172.5 95.1,173.0 95.3,173.5 M153.7,153.6 153.2,153.8 152.7,153.8 152.2,153.6 151.2,152.8 150.1,151.5 150.0,151.0 150.0,150.5 150.2,150.2 150.7,150.1 151.7,150.4 153.6,151.5 154.2,152.0 154.6,152.5 154.6,153.0 153.7,153.6 M92.2,154.1 91.2,154.2 90.7,154.1 90.2,153.8 89.8,153.5 89.5,153.0 89.4,152.5 89.4,152.0 89.7,151.7 90.2,151.4 91.2,151.2 92.2,151.3 92.8,151.5 93.2,151.8 93.4,152.0 93.5,152.5 93.4,153.0 93.1,153.5 92.7,153.9 92.2,154.1 M134.7,154.7 134.2,154.7 133.7,154.5 133.3,154.0 133.1,153.5 133.0,153.0 133.1,152.5 133.3,152.0 133.7,151.6 134.2,151.3 135.2,151.1 135.7,151.1 136.3,151.5 136.5,152.0 136.4,152.5 136.2,153.2 135.7,154.0 135.2,154.5 134.7,154.7 M133.7,162.5 133.2,162.6 132.2,162.5 131.2,162.1 130.6,161.5 130.5,161.0 130.6,160.5 130.8,160.0 131.7,159.0 132.7,158.3 133.2,158.1 134.2,157.8 134.7,158.0 135.2,158.2 135.7,158.6 136.2,159.5 136.2,160.0 136.1,160.5 135.9,161.0 135.5,161.5 134.7,162.2 133.7,162.5 M152.7,161.2 152.2,161.4 151.7,161.3 151.2,161.1 150.7,160.5 150.8,160.0 151.2,159.6 151.4,159.5 151.7,159.4 152.2,159.5 152.8,160.0 153.1,160.5 153.0,161.0 152.7,161.2 M63.2,161.4 64.7,161.1 65.2,161.1 65.9,161.5 66.2,162.0 66.2,162.5 65.8,163.0 65.2,163.2 64.7,163.3 63.2,162.9 M153.2,152.5 152.7,152.8 152.2,152.7 151.8,152.5 151.2,152.0 150.8,151.5 150.7,151.0 151.2,150.8 151.7,151.0 152.5,151.5 153.0,152.0 153.2,152.5 M134.7,154.1 134.2,154.1 133.7,153.8 133.4,153.0 133.5,152.5 133.8,152.0 134.2,151.7 134.7,151.5 135.2,151.5 135.7,151.7 135.9,152.0 136.0,152.5 135.9,153.0 135.6,153.5 135.2,153.9 134.7,154.1 M92.2,153.6 91.7,153.8 91.2,153.8 90.4,153.5 90.0,153.0 89.8,152.5 90.0,152.0 90.7,151.6 91.2,151.6 92.2,151.7 92.7,152.0 92.9,152.5 92.9,153.0 92.2,153.6 M134.2,162.2 133.2,162.3 132.2,162.2 131.7,162.1 130.9,161.5 130.8,161.0 130.8,160.5 131.1,160.0 131.7,159.3 132.7,158.6 133.7,158.2 134.2,158.2 134.7,158.3 135.2,158.6 135.7,159.1 135.9,159.5 136.0,160.0 135.7,160.9 135.2,161.5 134.7,161.9 134.2,162.2 M91.7,153.1 91.2,153.2 90.8,153.0 90.6,152.5 90.7,152.4 91.2,152.1 91.7,152.2 92.1,152.5 91.9,153.0 91.7,153.1 M135.2,153.1 134.7,153.4 134.2,153.2 134.1,153.0 134.2,152.5 134.7,152.2 135.2,152.3 135.3,152.5 135.2,153.1 M133.7,162.1 132.7,162.1 131.7,161.8 131.3,161.5 131.2,161.3 131.1,161.0 131.1,160.5 131.4,160.0 132.2,159.2 133.2,158.7 134.2,158.6 134.7,158.7 135.2,159.0 135.6,159.5 135.7,160.0 135.6,160.5 135.2,161.2 134.7,161.7 133.7,162.1 M134.2,161.7 133.2,161.9 132.2,161.7 131.8,161.5 131.4,161.0 131.4,160.5 131.7,160.0 132.2,159.5 133.2,159.0 134.2,158.9 134.7,159.1 135.2,159.5 135.4,160.0 135.3,160.5 135.1,161.0 134.7,161.4 134.2,161.7" fill="none" stroke="#000" stroke-width="0.8"/>
</g>
<rect x="70" y="136" width="2.2" height="31.5" fill="#555"/>
<rect x="97" y="165.8" width="69" height="2.2" fill="#111"/>
<rect x="70.8" y="154.3" width="26.1" height="14.0" fill="#fff"/>
<rect x="176.3" y="154.3" width="25.9" height="14.0" fill="#fff"/>
<path d="M135.5,33.5 V167.5 M69.2,127.5 H203" stroke="#161616" stroke-width="0.85" fill="none"/>
<path d="M69.2,167.5 v3.4 M79.3,167.5 v1.9 M85.2,167.5 v1.9 M89.3,167.5 v1.9 M92.6,167.5 v1.9 M95.2,167.5 v1.9 M97.5,167.5 v1.9 M99.4,167.5 v1.9 M101.1,167.5 v1.9 M102.7,167.5 v3.4 M112.7,167.5 v1.9 M118.6,167.5 v1.9 M122.8,167.5 v1.9 M126.0,167.5 v1.9 M128.7,167.5 v1.9 M130.9,167.5 v1.9 M132.9,167.5 v1.9 M134.6,167.5 v1.9 M136.1,167.5 v3.4 M146.2,167.5 v1.9 M152.1,167.5 v1.9 M156.2,167.5 v1.9 M159.5,167.5 v1.9 M162.1,167.5 v1.9 M164.4,167.5 v1.9 M166.3,167.5 v1.9 M168.0,167.5 v1.9 M169.6,167.5 v3.4 M179.6,167.5 v1.9 M185.5,167.5 v1.9 M189.7,167.5 v1.9 M192.9,167.5 v1.9 M195.6,167.5 v1.9 M197.8,167.5 v1.9 M199.8,167.5 v1.9 M201.5,167.5 v1.9 M203.0,167.5 v3.4 M69.2,167.5 h-3.4 M69.2,157.4 h-1.9 M69.2,151.5 h-1.9 M69.2,147.3 h-1.9 M69.2,144.1 h-1.9 M69.2,141.4 h-1.9 M69.2,139.2 h-1.9 M69.2,137.2 h-1.9 M69.2,135.5 h-1.9 M69.2,134.0 h-3.4 M69.2,123.9 h-1.9 M69.2,118.0 h-1.9 M69.2,113.8 h-1.9 M69.2,110.6 h-1.9 M69.2,107.9 h-1.9 M69.2,105.7 h-1.9 M69.2,103.7 h-1.9 M69.2,102.0 h-1.9 M69.2,100.5 h-3.4 M69.2,90.4 h-1.9 M69.2,84.5 h-1.9 M69.2,80.3 h-1.9 M69.2,77.1 h-1.9 M69.2,74.4 h-1.9 M69.2,72.2 h-1.9 M69.2,70.2 h-1.9 M69.2,68.5 h-1.9 M69.2,67.0 h-3.4 M69.2,56.9 h-1.9 M69.2,51.0 h-1.9 M69.2,46.8 h-1.9 M69.2,43.6 h-1.9 M69.2,40.9 h-1.9 M69.2,38.7 h-1.9 M69.2,36.7 h-1.9 M69.2,35.0 h-1.9 M69.2,33.5 h-3.4" stroke="#1a1a1a" stroke-width="0.75" fill="none"/>
<text x="68.6" y="180.9" font-size="6.5" fill="#2a2a2a" text-anchor="middle">10<tspan dy="-2.4" font-size="4.9">0</tspan></text>
<text x="63.0" y="170.5" font-size="6.5" fill="#2a2a2a" text-anchor="end">10<tspan dy="-2.4" font-size="4.9">0</tspan></text>
<text x="102.1" y="180.9" font-size="6.5" fill="#2a2a2a" text-anchor="middle">10<tspan dy="-2.4" font-size="4.9">1</tspan></text>
<text x="63.0" y="137.0" font-size="6.5" fill="#2a2a2a" text-anchor="end">10<tspan dy="-2.4" font-size="4.9">1</tspan></text>
<text x="135.5" y="180.9" font-size="6.5" fill="#2a2a2a" text-anchor="middle">10<tspan dy="-2.4" font-size="4.9">2</tspan></text>
<text x="63.0" y="103.5" font-size="6.5" fill="#2a2a2a" text-anchor="end">10<tspan dy="-2.4" font-size="4.9">2</tspan></text>
<text x="169.0" y="180.9" font-size="6.5" fill="#2a2a2a" text-anchor="middle">10<tspan dy="-2.4" font-size="4.9">3</tspan></text>
<text x="63.0" y="70.0" font-size="6.5" fill="#2a2a2a" text-anchor="end">10<tspan dy="-2.4" font-size="4.9">3</tspan></text>
<text x="202.4" y="180.9" font-size="6.5" fill="#2a2a2a" text-anchor="middle">10<tspan dy="-2.4" font-size="4.9">4</tspan></text>
<text x="63.0" y="36.5" font-size="6.5" fill="#2a2a2a" text-anchor="end">10<tspan dy="-2.4" font-size="4.9">4</tspan></text>
<text x="70.60000000000001" y="47.1" font-size="12.5" font-weight="bold" text-anchor="start" fill="#000" >0.19</text>
<text x="202.2" y="47.1" font-size="12.5" font-weight="bold" text-anchor="end" fill="#000" >0.12</text>
<text x="71.8" y="166.1" font-size="12.5" font-weight="bold" text-anchor="start" fill="#000" >62.8</text>
<text x="202.2" y="166.1" font-size="12.5" font-weight="bold" text-anchor="end" fill="#000" >36.9</text>
</g>
<g>
<clipPath id="cp2"><rect x="223.5" y="33.5" width="134.5" height="134.0"/></clipPath>
<rect x="223.5" y="33.5" width="134.5" height="134.0" fill="none" stroke="#1a1a1a" stroke-width="1"/>
<g clip-path="url(#cp2)">
<path d="M253.0,173.5 247.0,172.3 245.0,171.7 243.5,171.0 241.5,169.7 240.2,168.5 239.1,167.0 238.3,165.5 237.7,163.5 237.4,161.5 237.5,159.5 237.9,157.5 238.7,155.5 239.9,153.5 241.5,151.6 243.3,150.0 246.5,147.8 250.0,145.7 254.0,143.7 257.5,142.3 260.0,141.6 263.0,141.0 274.0,139.6 277.0,139.2 279.0,138.7 281.0,138.1 282.7,137.5 290.0,134.2 292.5,133.2 299.5,130.7 301.5,130.1 304.0,129.6 306.5,129.2 308.5,129.2 311.5,129.4 313.0,129.7 315.0,130.2 316.5,130.7 318.5,131.6 320.5,132.6 322.0,133.5 323.3,134.5 324.5,135.5 326.2,137.5 327.2,139.0 327.8,140.0 328.8,142.5 329.3,144.5 329.6,146.5 330.0,151.0 330.0,157.0 329.8,159.5 329.5,162.0 329.6,163.0 329.8,163.5 330.2,164.0 332.2,165.5 332.7,166.0 332.9,166.5 332.6,167.0 331.9,167.5 328.7,169.0 326.9,170.0 324.0,172.7 322.9,173.5 M223.5,163.2 223.0,163.3 222.5,163.2 222.0,162.8 221.5,162.2 221.0,161.3 220.5,160.0 220.2,158.5 219.9,156.5 219.7,154.5 219.7,152.5 219.9,151.0 220.1,149.5 220.5,148.0 221.0,146.8 221.5,145.9 222.0,145.3 222.5,145.0 223.0,144.8 223.5,144.9 224.0,145.2 224.3,145.5 224.9,146.5 225.4,147.5 225.8,149.0 226.1,150.5 226.4,153.5 226.3,155.5 226.2,157.0 225.9,158.5 225.5,160.0 225.0,161.4 224.5,162.3 224.0,162.8 223.5,163.2 M293.6,173.5 290.5,173.1 283.1,171.5 280.0,171.1 278.0,171.1 273.0,171.6 270.0,171.7 267.0,171.8 264.5,171.6 261.5,171.1 249.5,168.2 247.5,167.6 246.0,166.9 244.7,166.0 243.8,165.0 243.0,163.5 242.6,162.0 242.6,160.5 242.8,159.0 243.5,157.5 244.5,156.2 245.5,155.3 250.1,151.5 252.0,150.1 256.5,147.5 258.0,146.7 259.5,146.0 261.0,145.5 263.0,145.1 270.0,144.2 278.5,143.0 280.5,142.6 282.3,142.0 284.6,141.0 288.5,139.1 292.5,136.8 294.5,135.8 298.0,134.2 300.5,133.3 303.5,132.4 307.0,131.9 309.5,131.8 312.0,132.0 314.0,132.6 316.0,133.3 318.5,134.6 320.5,135.9 322.0,137.1 323.5,138.7 324.9,140.5 325.7,142.0 326.3,143.5 326.8,145.5 327.1,148.5 327.3,152.0 327.4,155.0 327.3,157.0 327.1,159.0 326.6,162.0 326.5,163.0 326.7,163.5 326.9,164.0 328.4,165.5 328.8,166.0 328.8,166.5 328.6,167.0 328.0,167.5 327.1,168.0 322.9,170.0 319.0,172.2 317.5,172.9 315.9,173.5 M223.0,156.1 222.5,155.5 222.3,154.5 222.2,153.5 222.3,152.5 222.5,151.7 223.0,151.2 223.5,151.6 223.8,152.5 223.9,153.5 223.9,154.5 223.6,155.5 223.5,155.8 223.0,156.1 M305.8,173.5 304.0,173.4 302.5,173.2 297.0,171.9 291.5,171.4 286.8,170.5 283.7,170.0 280.5,169.6 278.5,169.5 274.0,169.5 269.0,169.3 264.5,169.2 263.0,169.1 261.0,168.7 255.6,167.0 254.4,166.5 252.9,165.5 251.3,164.0 250.1,162.5 249.7,161.5 249.7,161.0 249.7,160.0 250.2,158.5 251.0,157.0 251.9,155.5 253.1,154.0 254.9,152.5 258.5,150.0 260.0,149.1 261.0,148.6 262.0,148.3 263.5,148.0 270.5,147.1 275.0,146.3 278.5,145.9 280.5,145.4 282.5,144.7 289.5,141.5 291.0,140.6 294.0,138.5 296.0,137.2 298.5,135.9 301.0,134.9 303.5,134.2 308.0,133.4 310.5,133.4 312.5,133.7 314.5,134.4 316.5,135.3 318.0,136.2 319.5,137.3 320.9,138.5 322.3,140.0 323.4,141.5 324.2,143.0 324.8,144.5 325.1,146.5 325.4,149.5 325.6,154.0 325.6,156.0 325.4,157.5 324.6,162.0 324.5,163.0 324.6,163.5 324.9,164.0 326.2,165.5 326.5,166.0 326.5,166.5 326.3,167.0 326.0,167.2 324.7,168.0 315.0,171.8 312.0,172.7 310.0,173.1 308.0,173.4 306.2,173.5 M309.5,172.0 307.0,172.3 304.5,172.3 302.5,172.0 298.9,171.0 297.0,170.7 291.0,170.3 280.0,168.8 273.5,168.5 269.0,167.8 264.5,167.8 262.5,167.5 261.0,167.0 260.1,166.5 259.5,166.0 258.0,164.2 255.9,162.0 255.2,161.0 254.8,160.0 254.7,159.0 254.9,158.0 255.5,156.7 256.6,155.5 261.0,152.4 262.8,151.5 264.5,150.9 269.5,149.7 272.5,149.1 278.0,148.3 281.0,147.6 282.5,147.0 286.5,144.8 290.5,142.9 291.9,142.0 295.0,139.7 296.5,138.7 299.0,137.3 301.0,136.3 303.5,135.5 308.0,134.7 310.0,134.6 312.0,134.8 313.5,135.3 315.5,136.1 317.0,137.0 318.5,138.0 320.0,139.5 321.3,141.0 322.3,142.5 323.0,144.0 323.5,145.5 323.7,147.0 324.1,152.0 324.2,154.5 324.0,157.0 323.1,162.0 323.0,163.0 323.1,163.5 323.3,164.0 324.5,165.5 324.8,166.0 324.8,166.5 324.5,167.0 323.8,167.5 322.0,168.3 316.0,170.2 312.0,171.4 309.5,172.0 M309.5,171.1 307.0,171.4 304.5,171.3 303.0,171.1 300.3,170.5 297.5,170.0 292.5,169.9 290.0,169.7 286.0,169.2 279.5,168.2 274.5,167.9 272.4,167.5 271.3,167.0 270.7,166.5 270.4,166.0 270.6,165.5 271.4,164.0 271.3,163.5 271.0,163.0 270.0,162.3 269.0,161.8 266.6,161.0 265.8,160.5 265.3,160.0 264.8,159.0 264.6,158.0 264.7,157.0 265.2,156.0 266.0,155.0 267.8,153.5 269.5,152.4 271.0,151.7 272.5,151.3 274.0,151.1 276.5,151.0 278.0,150.7 280.5,149.8 282.5,149.0 284.0,148.2 287.0,146.3 291.0,144.2 292.0,143.5 295.0,141.1 296.5,140.1 299.0,138.7 301.5,137.5 303.0,136.9 304.4,136.5 308.5,135.7 310.5,135.6 312.5,136.0 314.0,136.6 315.5,137.3 316.7,138.0 318.0,139.0 318.9,140.0 320.1,141.5 321.1,143.0 321.7,144.5 322.1,146.0 322.6,150.0 322.9,152.5 323.0,154.5 322.8,156.5 321.8,161.5 321.6,163.0 321.7,163.5 321.9,164.0 323.1,165.5 323.4,166.0 323.4,166.5 323.0,167.0 322.1,167.5 320.0,168.3 317.0,169.2 309.5,171.1 M308.5,170.6 307.0,170.7 305.0,170.6 297.5,169.6 292.0,169.5 289.0,169.3 285.0,168.7 279.5,167.7 275.0,167.3 273.8,167.0 273.0,166.5 272.8,166.0 273.0,165.4 273.5,165.0 274.0,164.7 275.5,164.4 278.5,164.2 280.5,164.0 282.6,163.5 283.6,163.0 283.8,162.5 283.5,161.9 282.5,161.2 281.5,160.8 280.0,160.5 279.0,160.5 278.0,160.5 275.0,161.2 274.0,161.2 273.3,161.0 272.5,160.5 272.0,160.0 271.6,159.0 271.5,158.0 271.8,156.5 272.0,156.0 272.5,155.3 273.0,154.9 273.5,154.8 274.5,154.8 276.0,155.3 276.5,155.4 277.0,155.3 278.0,154.8 280.0,153.0 281.2,152.0 284.0,150.4 287.9,147.5 291.5,145.3 294.7,142.5 296.0,141.6 297.5,140.7 300.5,139.2 302.5,138.3 304.5,137.6 306.7,137.0 308.5,136.7 310.0,136.6 311.0,136.7 312.0,136.9 313.5,137.4 315.7,138.5 316.5,139.0 317.5,140.0 318.4,141.0 319.0,142.0 319.8,143.5 320.1,144.5 321.6,151.0 321.8,152.5 321.9,154.0 321.8,156.0 321.0,159.5 320.5,163.0 320.5,163.5 320.7,164.0 321.9,165.5 322.1,166.0 322.0,166.5 321.6,167.0 320.6,167.5 319.0,168.1 317.0,168.7 310.5,170.2 308.5,170.6 M308.5,170.0 307.0,170.2 305.0,170.1 297.5,169.3 291.5,169.2 287.5,168.8 284.0,168.3 279.5,167.2 276.0,166.6 275.8,166.5 275.3,166.0 276.4,165.5 279.0,165.1 284.0,164.0 285.5,163.5 286.5,163.0 286.8,162.5 286.7,162.0 285.8,160.5 285.2,159.5 284.8,158.0 284.9,157.0 285.3,155.5 285.6,153.5 286.0,152.5 286.6,151.5 287.9,150.0 289.0,149.0 292.0,146.9 294.5,144.0 295.5,143.0 297.0,142.0 298.5,141.2 305.5,138.4 308.0,137.7 309.5,137.5 310.5,137.5 311.5,137.7 313.0,138.2 314.5,138.9 315.5,139.5 316.1,140.0 317.0,141.0 317.6,142.0 318.0,143.0 318.5,144.5 319.0,147.2 320.5,151.0 320.9,153.0 321.0,154.5 320.9,155.5 320.1,159.0 319.5,163.0 319.5,163.5 319.7,164.0 320.8,165.5 321.0,166.0 320.9,166.5 320.3,167.0 318.5,167.8 316.5,168.4 311.0,169.6 308.5,170.0 M309.5,169.5 307.5,169.7 305.5,169.8 303.0,169.6 297.5,169.0 291.5,168.9 288.5,168.7 285.0,168.2 282.3,167.5 280.9,167.0 280.0,166.5 279.8,166.0 280.6,165.5 282.2,165.0 287.7,163.5 290.0,162.8 291.6,162.5 292.0,162.0 290.0,161.4 289.5,161.1 288.8,160.5 288.5,160.0 288.3,159.5 288.3,159.0 288.5,158.0 290.0,153.5 290.4,152.5 291.1,151.5 293.0,149.7 293.5,149.1 293.8,148.5 294.3,146.5 294.7,145.5 295.3,144.5 296.3,143.5 297.5,142.6 298.5,142.2 303.0,140.7 306.8,139.0 308.5,138.5 310.0,138.4 311.5,138.7 312.5,139.0 313.5,139.4 314.5,140.0 315.0,140.4 315.9,141.5 316.4,142.5 316.8,143.5 317.6,147.0 318.0,148.2 319.2,150.5 319.9,152.0 320.1,153.0 320.2,154.5 320.1,155.5 319.4,158.5 318.6,163.0 318.6,163.5 318.7,164.0 319.8,165.5 319.9,166.0 319.8,166.5 319.0,167.1 318.1,167.5 317.0,167.8 311.5,169.2 309.5,169.5 M310.5,169.1 308.5,169.4 306.0,169.4 302.5,169.3 297.5,168.8 292.0,168.8 289.5,168.6 287.0,168.3 284.5,167.8 283.4,167.5 282.2,167.0 281.6,166.5 281.6,166.0 282.4,165.5 284.0,164.9 286.5,164.2 289.5,163.7 293.6,163.5 294.5,163.3 295.5,163.0 296.0,162.5 296.0,162.0 295.8,161.5 295.5,160.9 294.8,160.0 292.7,158.0 292.3,157.5 292.0,156.5 291.9,155.5 292.1,154.0 292.8,152.5 293.7,151.5 295.1,150.0 295.5,149.5 295.7,148.5 295.7,146.5 295.9,145.5 296.2,145.0 297.0,144.0 297.8,143.5 298.5,143.1 299.5,142.8 301.5,142.3 302.5,142.0 307.5,139.7 308.5,139.5 309.5,139.4 311.0,139.5 312.5,140.0 313.4,140.5 314.0,141.0 314.8,142.0 315.4,143.0 316.3,145.0 317.5,149.0 319.0,152.0 319.3,153.0 319.5,154.0 319.4,155.5 318.6,158.5 317.7,163.5 318.0,164.3 318.8,165.5 319.0,166.0 318.8,166.5 318.1,167.0 316.9,167.5 310.5,169.1 M309.0,169.0 307.5,169.2 305.5,169.2 302.0,169.0 297.0,168.5 292.0,168.6 289.0,168.4 286.5,168.0 284.4,167.5 283.2,167.0 282.7,166.5 282.8,166.0 283.6,165.5 286.5,164.6 288.0,164.3 289.5,164.1 293.5,164.0 295.0,163.8 296.6,163.5 297.5,163.0 297.8,162.5 297.7,162.0 297.4,161.5 296.5,160.0 294.0,157.0 293.5,156.0 293.4,155.0 293.5,154.0 293.9,153.0 294.7,152.0 296.5,150.2 296.9,149.5 297.1,148.5 296.9,146.5 297.2,145.5 297.5,145.0 298.0,144.5 298.9,144.0 302.0,143.1 307.0,140.7 308.5,140.3 309.5,140.2 311.0,140.4 312.5,141.1 313.7,142.0 314.8,143.5 315.9,145.5 317.0,149.1 318.5,152.5 318.8,153.5 318.8,154.5 318.7,155.5 318.0,158.5 317.6,161.0 316.9,163.5 317.0,164.0 317.2,164.5 317.9,165.5 318.0,166.0 317.8,166.5 317.0,167.0 315.5,167.6 311.5,168.6 309.0,169.0 M310.5,168.6 308.5,168.9 306.0,168.9 302.0,168.8 297.0,168.3 292.5,168.4 290.0,168.3 287.5,168.0 285.5,167.6 284.1,167.0 283.6,166.5 283.7,166.0 284.6,165.5 287.0,164.7 289.5,164.3 294.0,164.3 296.5,164.0 298.6,163.5 299.5,163.0 299.5,162.5 299.2,162.0 295.6,157.5 294.9,156.5 294.7,156.0 294.4,155.0 294.4,154.5 294.7,153.5 295.4,152.5 296.9,151.0 297.8,150.0 298.2,149.0 298.4,146.5 298.6,146.0 299.0,145.5 299.7,145.0 302.0,143.9 306.0,141.7 307.5,141.1 309.0,140.9 310.5,141.0 312.0,141.6 313.0,142.2 313.5,142.7 314.5,143.9 315.1,145.0 315.6,146.0 316.6,149.5 317.9,152.5 318.3,154.0 318.2,155.5 317.4,158.5 317.0,161.0 316.1,163.5 316.2,164.0 316.4,164.5 317.1,165.5 317.1,166.0 316.8,166.5 316.0,167.0 313.5,167.8 310.5,168.6 M309.5,168.5 308.0,168.7 306.0,168.7 302.0,168.6 297.0,168.2 292.5,168.3 290.0,168.2 288.0,167.9 286.0,167.5 284.8,167.0 284.3,166.5 284.5,166.0 285.4,165.5 287.0,165.0 288.5,164.7 290.5,164.5 295.5,164.5 300.5,163.7 301.5,163.6 302.5,163.7 304.0,164.1 305.5,164.2 306.7,164.0 307.6,163.5 307.6,163.0 307.0,162.5 306.5,162.4 305.5,162.3 302.5,162.5 301.5,162.3 300.5,161.8 299.0,160.5 296.1,157.0 295.6,156.0 295.4,155.5 295.3,154.5 295.5,153.8 295.9,153.0 298.0,151.0 298.8,150.0 299.3,149.0 299.9,147.0 300.2,146.5 300.6,146.0 303.3,144.0 306.0,142.3 307.5,141.7 309.0,141.4 310.5,141.6 312.0,142.2 313.1,143.0 314.3,144.5 315.1,146.0 316.1,149.5 317.4,152.5 317.7,153.5 317.7,154.5 317.6,155.5 316.9,158.5 316.4,161.0 315.4,163.5 315.4,164.0 316.2,165.5 316.3,166.0 315.9,166.5 314.5,167.2 312.0,168.0 309.5,168.5 M307.5,168.5 302.0,168.4 297.0,168.0 292.5,168.1 290.0,168.0 288.5,167.9 286.7,167.5 285.5,167.0 285.0,166.5 285.2,166.0 286.1,165.5 287.5,165.1 289.0,164.8 291.0,164.7 295.5,164.7 299.5,164.3 301.0,164.2 302.0,164.3 304.5,164.6 306.0,164.6 307.0,164.5 308.0,164.1 308.3,164.0 308.8,163.5 308.9,163.0 308.6,162.5 307.5,161.9 306.0,161.7 303.5,161.8 302.5,161.7 301.5,161.4 300.5,160.9 299.0,159.5 297.3,157.5 296.4,156.0 296.1,155.0 296.3,154.0 296.5,153.5 297.0,152.9 298.5,151.5 299.5,150.5 300.1,149.5 301.3,147.0 302.6,145.5 304.3,144.0 306.5,142.6 308.0,142.1 309.5,141.9 311.0,142.2 312.0,142.7 313.0,143.5 314.2,145.0 314.9,146.5 315.8,150.0 317.0,153.0 317.2,154.0 317.2,155.0 317.0,156.0 315.8,161.0 315.5,161.7 314.5,163.5 314.4,164.0 315.3,165.5 315.4,166.0 315.0,166.5 314.2,167.0 312.8,167.5 310.0,168.2 307.5,168.5 M310.0,168.0 308.5,168.2 307.0,168.3 301.5,168.1 297.0,167.8 292.5,168.0 290.5,167.9 289.0,167.8 287.4,167.5 286.1,167.0 285.6,166.5 285.9,166.0 286.9,165.5 289.0,165.0 291.0,164.9 295.5,165.0 300.5,164.6 302.0,164.7 304.5,165.0 306.0,165.0 308.3,164.5 309.6,164.0 310.2,163.5 310.2,163.0 309.8,162.5 309.1,162.0 308.0,161.5 306.5,161.3 303.0,161.2 302.0,160.9 301.0,160.4 299.5,159.2 298.1,157.5 297.2,156.0 296.9,155.0 297.0,154.5 297.1,154.0 297.4,153.5 299.5,151.5 300.3,150.5 302.3,147.0 303.5,145.5 305.0,144.1 306.5,143.1 307.5,142.7 309.0,142.4 310.5,142.5 311.5,142.9 312.5,143.6 313.0,144.1 313.8,145.0 314.3,146.0 314.7,147.0 315.4,150.0 316.5,153.0 316.8,154.5 316.6,156.0 315.3,160.5 314.9,161.5 313.2,163.5 313.3,164.0 314.5,165.5 314.5,166.0 314.2,166.5 313.3,167.0 312.0,167.5 310.0,168.0 M313.0,162.2 312.0,162.4 311.5,162.4 309.6,161.5 308.0,161.0 306.5,160.9 303.5,160.8 302.0,160.4 301.0,159.8 299.6,158.5 298.5,157.0 297.9,156.0 297.8,155.5 297.8,154.5 298.0,154.0 298.3,153.5 300.3,151.5 301.1,150.5 303.2,147.0 303.8,146.0 304.7,145.0 305.9,144.0 307.0,143.4 308.0,143.0 309.5,142.8 311.0,143.1 312.4,144.0 313.4,145.0 314.0,146.0 314.4,147.0 315.0,150.0 316.1,153.0 316.3,154.0 316.2,155.5 315.0,159.6 314.4,161.0 314.0,161.5 313.0,162.2 M308.5,168.0 307.0,168.1 301.5,167.9 296.5,167.6 292.5,167.8 290.5,167.8 288.0,167.4 286.7,167.0 286.3,166.5 286.5,166.0 287.5,165.6 289.5,165.2 291.0,165.1 295.5,165.2 300.5,164.9 304.5,165.3 305.5,165.3 307.5,165.1 311.0,164.3 312.0,164.4 312.5,164.6 313.0,164.9 313.6,165.5 313.7,166.0 313.4,166.5 312.6,167.0 311.0,167.6 308.5,168.0 M313.0,161.2 312.5,161.4 311.5,161.4 308.5,160.7 307.0,160.5 304.0,160.4 302.5,160.0 301.5,159.5 300.3,158.5 299.1,157.0 298.6,156.0 298.5,155.0 298.6,154.5 298.9,154.0 301.0,151.5 301.8,150.5 304.5,146.0 305.4,145.0 306.0,144.5 307.0,143.8 308.0,143.4 309.0,143.2 310.0,143.2 311.0,143.5 311.8,144.0 312.5,144.5 313.3,145.5 313.8,146.5 314.2,147.5 314.8,150.5 315.8,153.5 315.8,155.0 315.5,156.5 314.4,159.5 313.8,160.5 313.0,161.2 M310.0,167.5 307.5,167.8 302.0,167.7 296.5,167.3 292.5,167.6 290.5,167.6 289.1,167.5 287.5,167.1 287.3,167.0 286.9,166.5 287.2,166.0 288.0,165.7 288.7,165.5 290.0,165.4 295.5,165.5 300.5,165.2 304.5,165.6 305.5,165.6 307.0,165.5 310.0,164.9 311.0,164.9 312.0,165.1 312.7,165.5 312.9,166.0 312.6,166.5 311.8,167.0 310.0,167.5 M312.0,160.6 311.0,160.6 308.0,160.2 304.5,160.1 303.0,159.7 302.0,159.3 301.0,158.5 299.8,157.0 299.4,156.0 299.3,155.0 299.7,154.0 301.7,151.5 302.8,150.0 305.1,146.0 306.0,145.0 306.6,144.5 307.5,144.0 308.5,143.6 309.0,143.6 310.0,143.6 311.0,143.9 312.0,144.5 313.0,145.6 313.7,147.0 314.4,150.5 315.3,153.5 315.4,154.5 315.3,155.5 315.0,156.6 314.4,158.0 313.5,159.6 313.0,160.1 312.5,160.4 312.0,160.6 M308.5,167.5 307.0,167.5 304.5,167.4 301.0,167.5 296.5,167.1 295.0,167.1 292.0,167.5 290.9,167.5 290.0,167.4 288.1,167.0 287.6,166.5 288.0,166.0 288.5,165.8 289.5,165.6 290.5,165.6 295.5,165.8 299.0,165.5 300.5,165.4 301.5,165.5 304.0,165.9 305.5,166.0 309.5,165.4 310.5,165.3 311.4,165.5 312.0,166.0 311.8,166.5 310.9,167.0 308.5,167.5 M310.5,160.0 305.0,159.8 304.0,159.6 303.0,159.3 301.7,158.5 300.8,157.5 300.2,156.5 300.0,155.5 300.0,155.0 300.4,154.0 303.4,150.0 304.1,149.0 305.0,147.0 305.7,146.0 306.5,145.1 307.3,144.5 308.0,144.2 309.0,143.9 310.0,144.0 311.0,144.3 312.0,144.9 312.9,146.0 313.5,147.5 314.1,150.5 314.8,153.0 315.0,154.0 315.0,155.0 314.7,156.0 314.1,157.5 313.5,158.5 313.0,159.1 312.5,159.5 312.0,159.8 311.5,159.9 310.5,160.0 M303.5,167.0 302.0,167.1 300.5,167.2 298.9,167.0 297.5,166.7 296.0,166.5 295.0,166.6 293.8,167.0 291.0,167.2 289.1,167.0 288.4,166.5 289.1,166.0 290.0,165.9 291.5,165.9 293.4,166.0 295.0,166.4 296.0,166.5 297.0,166.3 297.8,166.0 300.5,165.8 302.4,166.0 303.5,166.3 304.4,166.5 303.7,167.0 303.5,167.0 M309.5,167.0 308.0,167.1 306.0,167.0 305.7,166.5 309.0,165.9 310.0,165.9 310.7,166.0 310.7,166.5 309.5,167.0 M310.5,159.5 309.0,159.6 306.0,159.5 304.5,159.3 303.5,159.0 302.5,158.5 301.4,157.5 300.8,156.5 300.6,155.5 300.7,155.0 301.1,154.0 304.4,149.5 305.6,147.0 306.2,146.0 306.7,145.5 307.5,144.8 308.2,144.5 309.0,144.3 310.0,144.3 311.0,144.7 312.0,145.4 312.8,146.5 313.2,147.5 313.7,150.5 314.4,153.0 314.6,154.0 314.6,155.0 314.3,156.0 313.8,157.0 313.2,158.0 312.5,158.7 312.0,159.1 311.5,159.3 310.5,159.5 M292.5,166.6 291.5,166.8 291.0,166.9 290.5,166.8 289.6,166.5 290.5,166.3 291.0,166.3 292.8,166.5 292.5,166.6 M301.5,166.5 300.5,166.6 299.5,166.5 300.5,166.4 301.6,166.5 301.5,166.5 M310.5,159.1 309.0,159.2 307.0,159.2 305.5,159.1 304.0,158.8 303.0,158.3 302.1,157.5 301.7,157.0 301.3,156.0 301.3,155.0 301.7,154.0 302.3,153.0 304.3,150.5 305.0,149.5 306.4,146.5 306.7,146.0 307.5,145.3 308.0,145.0 309.0,144.7 310.0,144.7 311.0,145.0 312.0,145.8 312.5,146.5 313.0,148.0 313.4,150.5 314.1,153.0 314.2,154.0 314.1,155.0 314.0,155.6 313.6,156.5 313.0,157.5 312.0,158.4 311.5,158.7 310.5,159.1 M310.5,158.6 309.0,158.9 307.5,159.0 305.5,158.8 304.3,158.5 303.3,158.0 302.5,157.3 302.0,156.5 301.8,155.5 301.9,155.0 302.2,154.0 303.2,152.5 305.3,150.0 305.8,149.0 306.4,147.5 306.9,146.5 307.3,146.0 308.0,145.4 308.5,145.2 309.5,145.0 310.5,145.2 311.1,145.5 311.7,146.0 312.4,147.0 312.7,148.0 313.0,150.5 313.7,153.0 313.8,154.0 313.7,155.0 313.6,155.5 313.2,156.5 312.8,157.0 311.8,158.0 310.5,158.6 M309.5,158.5 308.5,158.6 307.0,158.6 305.5,158.5 304.5,158.2 303.5,157.6 302.9,157.0 302.6,156.5 302.4,155.5 302.6,154.5 303.0,153.5 303.8,152.5 306.0,150.0 306.4,149.0 306.9,147.5 307.4,146.5 307.9,146.0 308.5,145.6 309.5,145.4 310.2,145.5 311.0,145.9 311.5,146.3 312.0,147.0 312.3,148.0 312.7,150.5 313.3,153.0 313.4,154.0 313.3,155.0 313.2,155.5 312.7,156.5 312.3,157.0 311.8,157.5 311.0,158.0 309.5,158.5 M310.0,158.0 309.0,158.3 307.5,158.4 306.0,158.2 305.0,158.0 304.1,157.5 303.5,157.0 303.2,156.5 302.9,155.5 303.1,154.5 303.5,153.5 304.3,152.5 305.8,151.0 306.6,150.0 306.8,149.5 307.4,147.5 307.7,147.0 308.0,146.5 308.5,146.1 309.0,145.9 309.5,145.8 310.4,146.0 311.0,146.3 311.5,146.9 311.8,147.5 312.1,148.5 312.3,150.5 312.9,153.0 313.1,154.0 313.0,155.0 312.8,155.5 312.2,156.5 311.8,157.0 311.1,157.5 310.0,158.0 M308.5,158.0 306.5,158.0 305.5,157.8 304.9,157.5 304.2,157.0 303.7,156.5 303.5,156.0 303.4,155.0 303.8,154.0 304.4,153.0 306.4,151.0 307.2,150.0 307.8,148.0 308.0,147.5 308.3,147.0 309.0,146.4 309.5,146.3 310.0,146.4 310.5,146.5 311.0,146.9 311.4,147.5 311.6,148.0 311.9,150.5 312.6,153.0 312.7,154.5 312.5,155.2 312.1,156.0 311.2,157.0 310.0,157.7 308.5,158.0" fill="none" stroke="#000" stroke-width="0.92"/>
</g>
<rect x="256" y="166.2" width="72" height="1.8" fill="#222"/>
<rect x="225.1" y="154.3" width="26.1" height="14.0" fill="#fff"/>
<rect x="331.3" y="154.3" width="25.9" height="14.0" fill="#fff"/>
<path d="M290.4,33.5 V167.5 M223.5,127.5 H358" stroke="#161616" stroke-width="0.85" fill="none"/>
<path d="M223.5,167.5 v3.4 M233.6,167.5 v1.9 M239.5,167.5 v1.9 M243.7,167.5 v1.9 M247.0,167.5 v1.9 M249.7,167.5 v1.9 M251.9,167.5 v1.9 M253.9,167.5 v1.9 M255.6,167.5 v1.9 M257.1,167.5 v3.4 M267.2,167.5 v1.9 M273.2,167.5 v1.9 M277.4,167.5 v1.9 M280.6,167.5 v1.9 M283.3,167.5 v1.9 M285.5,167.5 v1.9 M287.5,167.5 v1.9 M289.2,167.5 v1.9 M290.8,167.5 v3.4 M300.9,167.5 v1.9 M306.8,167.5 v1.9 M311.0,167.5 v1.9 M314.3,167.5 v1.9 M316.9,167.5 v1.9 M319.2,167.5 v1.9 M321.1,167.5 v1.9 M322.8,167.5 v1.9 M324.4,167.5 v3.4 M334.5,167.5 v1.9 M340.4,167.5 v1.9 M344.6,167.5 v1.9 M347.9,167.5 v1.9 M350.5,167.5 v1.9 M352.8,167.5 v1.9 M354.7,167.5 v1.9 M356.5,167.5 v1.9 M358.0,167.5 v3.4 M223.5,167.5 h-3.4 M223.5,157.4 h-1.9 M223.5,151.5 h-1.9 M223.5,147.3 h-1.9 M223.5,144.1 h-1.9 M223.5,141.4 h-1.9 M223.5,139.2 h-1.9 M223.5,137.2 h-1.9 M223.5,135.5 h-1.9 M223.5,134.0 h-3.4 M223.5,123.9 h-1.9 M223.5,118.0 h-1.9 M223.5,113.8 h-1.9 M223.5,110.6 h-1.9 M223.5,107.9 h-1.9 M223.5,105.7 h-1.9 M223.5,103.7 h-1.9 M223.5,102.0 h-1.9 M223.5,100.5 h-3.4 M223.5,90.4 h-1.9 M223.5,84.5 h-1.9 M223.5,80.3 h-1.9 M223.5,77.1 h-1.9 M223.5,74.4 h-1.9 M223.5,72.2 h-1.9 M223.5,70.2 h-1.9 M223.5,68.5 h-1.9 M223.5,67.0 h-3.4 M223.5,56.9 h-1.9 M223.5,51.0 h-1.9 M223.5,46.8 h-1.9 M223.5,43.6 h-1.9 M223.5,40.9 h-1.9 M223.5,38.7 h-1.9 M223.5,36.7 h-1.9 M223.5,35.0 h-1.9 M223.5,33.5 h-3.4" stroke="#1a1a1a" stroke-width="0.75" fill="none"/>
<text x="222.9" y="180.9" font-size="6.5" fill="#2a2a2a" text-anchor="middle">10<tspan dy="-2.4" font-size="4.9">0</tspan></text>
<text x="217.3" y="170.5" font-size="6.5" fill="#2a2a2a" text-anchor="end">10<tspan dy="-2.4" font-size="4.9">0</tspan></text>
<text x="256.5" y="180.9" font-size="6.5" fill="#2a2a2a" text-anchor="middle">10<tspan dy="-2.4" font-size="4.9">1</tspan></text>
<text x="217.3" y="137.0" font-size="6.5" fill="#2a2a2a" text-anchor="end">10<tspan dy="-2.4" font-size="4.9">1</tspan></text>
<text x="290.1" y="180.9" font-size="6.5" fill="#2a2a2a" text-anchor="middle">10<tspan dy="-2.4" font-size="4.9">2</tspan></text>
<text x="217.3" y="103.5" font-size="6.5" fill="#2a2a2a" text-anchor="end">10<tspan dy="-2.4" font-size="4.9">2</tspan></text>
<text x="323.8" y="180.9" font-size="6.5" fill="#2a2a2a" text-anchor="middle">10<tspan dy="-2.4" font-size="4.9">3</tspan></text>
<text x="217.3" y="70.0" font-size="6.5" fill="#2a2a2a" text-anchor="end">10<tspan dy="-2.4" font-size="4.9">3</tspan></text>
<text x="357.4" y="180.9" font-size="6.5" fill="#2a2a2a" text-anchor="middle">10<tspan dy="-2.4" font-size="4.9">4</tspan></text>
<text x="217.3" y="36.5" font-size="6.5" fill="#2a2a2a" text-anchor="end">10<tspan dy="-2.4" font-size="4.9">4</tspan></text>
<text x="224.9" y="47.1" font-size="12.5" font-weight="bold" text-anchor="start" fill="#000" >0.4</text>
<text x="357.2" y="47.1" font-size="12.5" font-weight="bold" text-anchor="end" fill="#000" >0.19</text>
<text x="226.1" y="166.1" font-size="12.5" font-weight="bold" text-anchor="start" fill="#000" >29.7</text>
<text x="357.2" y="166.1" font-size="12.5" font-weight="bold" text-anchor="end" fill="#000" >69.7</text>
</g>
<g>
<clipPath id="cp3"><rect x="375.5" y="33.5" width="133.0" height="134.0"/></clipPath>
<rect x="375.5" y="33.5" width="133.0" height="134.0" fill="none" stroke="#1a1a1a" stroke-width="1"/>
<g clip-path="url(#cp3)">
<path d="M369.5,129.1 371.5,128.6 373.0,128.1 378.0,125.9 379.0,125.6 380.5,125.4 381.5,125.4 383.0,125.6 389.0,127.3 390.5,127.5 392.5,127.7 401.5,127.6 411.0,127.3 416.0,126.9 418.0,126.6 419.0,126.3 419.9,126.0 420.8,125.5 421.3,125.0 421.6,124.5 421.8,123.5 421.5,119.5 421.6,117.0 422.1,115.0 422.5,114.0 423.0,113.0 423.8,112.0 424.5,111.3 425.0,110.9 426.0,110.4 427.0,110.1 428.0,110.1 429.0,110.3 429.5,110.5 430.5,111.2 431.3,112.0 432.0,113.0 432.8,114.5 433.2,116.0 433.6,118.0 433.8,122.5 434.0,123.5 434.5,124.5 434.9,125.0 435.7,125.5 436.5,125.8 438.5,126.4 447.0,127.7 452.0,128.7 456.0,129.9 459.5,131.2 461.5,132.2 462.8,133.0 464.3,134.0 465.5,135.0 466.5,136.0 467.4,137.0 468.3,138.5 469.2,140.0 470.3,142.5 471.1,144.5 471.7,146.5 472.2,149.0 472.4,151.5 472.5,154.0 472.4,156.5 472.1,158.5 471.6,160.5 470.7,163.0 469.8,165.0 468.5,167.3 467.0,169.5 465.7,171.0 464.0,172.5 462.7,173.5 M395.6,173.5 389.5,172.4 387.0,172.3 382.0,172.3 380.5,172.2 379.0,171.8 377.5,171.3 375.5,170.4 369.5,166.8 M369.5,131.6 371.5,131.1 373.0,130.6 377.0,128.9 378.5,128.4 379.5,128.1 381.0,128.0 382.0,128.0 383.5,128.2 388.0,129.4 390.0,129.7 392.0,129.8 400.0,129.8 411.5,129.4 416.5,129.1 420.5,128.6 425.5,127.7 428.0,127.5 429.5,127.6 431.0,127.9 441.5,130.2 445.0,131.0 447.5,131.9 452.0,133.9 457.0,135.6 458.0,136.1 459.2,137.0 460.6,138.5 462.5,141.0 464.1,143.5 465.2,145.5 465.8,147.0 466.3,149.0 466.6,151.0 466.7,153.0 466.6,154.5 466.4,156.5 465.9,158.5 465.4,160.0 464.7,161.5 463.8,163.0 462.7,164.5 461.5,166.0 460.5,167.0 459.5,167.8 458.5,168.4 457.0,169.1 455.5,169.7 454.0,170.1 452.5,170.4 451.0,170.5 438.0,170.6 433.0,171.0 424.0,171.3 417.5,171.8 413.5,171.8 408.5,171.3 400.0,169.9 397.0,169.2 391.0,167.3 389.0,166.9 387.0,166.9 382.5,167.4 380.5,167.4 379.5,167.2 378.0,166.7 377.0,166.1 376.0,165.4 374.9,164.5 373.4,163.0 369.5,158.5 M369.5,133.2 373.0,132.1 377.0,130.4 378.5,129.8 379.5,129.6 381.0,129.4 382.0,129.5 383.5,129.7 388.5,131.0 390.0,131.1 391.5,131.2 401.0,131.1 406.5,130.8 411.5,130.9 415.0,130.8 418.5,130.5 424.5,129.7 427.0,129.5 429.5,129.6 432.5,130.1 435.0,130.7 437.8,131.5 440.7,132.5 443.3,133.5 446.0,134.9 450.0,137.3 453.7,139.0 455.4,140.0 456.5,141.1 459.0,144.0 460.1,145.5 461.0,146.9 461.6,148.0 462.1,149.5 462.4,151.0 462.5,152.5 462.4,154.5 462.0,156.5 461.3,158.5 460.5,160.1 459.5,161.5 458.0,163.0 456.5,164.1 454.5,165.0 453.0,165.4 451.5,165.7 446.0,166.2 441.5,166.9 437.5,167.4 434.0,167.9 428.0,168.3 418.0,169.6 415.5,169.7 413.0,169.6 410.5,169.3 400.0,167.4 397.0,166.6 391.5,164.4 389.5,163.9 388.5,163.8 387.0,163.8 383.0,164.6 381.5,164.8 380.0,164.7 379.0,164.4 378.0,164.0 377.0,163.3 376.1,162.5 375.2,161.5 372.7,158.0 369.5,152.7 M369.5,134.4 373.5,133.0 378.0,131.1 379.5,130.7 381.0,130.5 383.0,130.7 388.0,132.0 389.5,132.2 391.0,132.3 401.0,132.1 406.5,131.9 412.0,132.2 416.5,132.1 419.0,132.0 424.0,131.2 427.0,130.9 429.5,131.1 431.5,131.4 433.5,132.0 435.5,132.7 437.3,133.5 439.0,134.4 441.0,135.6 447.0,139.9 450.0,141.7 451.0,142.5 453.0,144.5 455.5,146.6 456.6,148.0 457.5,149.5 458.3,151.5 458.7,153.0 458.7,154.5 458.5,155.7 458.0,156.7 457.5,157.4 457.0,157.8 456.0,158.4 453.5,159.5 451.5,160.5 450.2,161.0 449.0,161.3 446.0,161.7 444.5,162.0 443.5,162.4 441.0,163.7 439.0,164.5 435.0,165.5 432.5,166.0 427.1,166.5 417.5,167.9 415.5,168.0 413.5,167.9 411.5,167.6 407.5,166.7 402.0,165.8 399.5,165.3 397.0,164.4 392.0,162.2 390.0,161.6 389.0,161.5 387.5,161.7 383.5,162.7 381.5,163.0 380.0,162.9 378.5,162.3 377.4,161.5 376.1,160.0 374.3,157.5 372.8,155.0 371.8,153.0 370.6,150.0 370.1,148.0 369.5,145.0 M369.5,135.3 373.3,134.0 378.5,131.9 380.0,131.5 381.0,131.4 383.0,131.7 386.0,132.5 387.5,132.9 389.0,133.1 390.5,133.1 401.0,132.9 406.5,132.7 412.5,133.3 418.5,133.6 420.0,133.4 423.5,132.6 425.5,132.3 428.0,132.2 430.1,132.5 431.5,132.9 433.5,133.6 435.5,134.5 437.0,135.3 439.4,137.0 441.1,138.5 442.6,140.0 443.4,141.0 444.3,142.5 445.9,146.0 446.5,147.1 448.3,149.5 449.0,150.5 449.2,151.0 449.4,152.0 449.2,154.5 449.0,155.5 448.6,156.5 448.2,157.0 447.5,157.5 446.5,157.8 444.0,158.2 442.5,158.8 440.3,160.0 436.5,162.5 434.6,163.5 433.5,163.9 432.0,164.4 430.5,164.7 418.0,166.4 415.5,166.4 413.5,166.2 412.0,165.8 409.5,164.8 408.2,164.5 404.0,164.5 402.5,164.3 401.0,164.0 398.5,163.1 395.0,161.2 393.5,160.5 392.0,159.9 390.5,159.6 389.5,159.6 388.0,159.8 383.0,161.4 381.5,161.6 380.5,161.5 379.5,161.2 379.0,160.9 377.8,160.0 376.0,157.8 374.1,155.0 373.2,153.0 372.2,150.0 371.7,148.0 371.5,145.0 371.3,144.0 371.0,143.5 370.6,143.0 369.5,142.2 M369.5,136.2 378.0,132.8 379.5,132.4 380.5,132.3 382.0,132.3 386.0,133.4 388.5,133.7 391.5,133.8 406.5,133.4 418.5,134.8 419.5,134.8 420.5,134.6 423.5,133.8 425.5,133.4 427.5,133.3 429.0,133.5 430.5,133.9 432.5,134.7 434.5,135.5 436.0,136.3 437.0,137.0 438.0,137.8 440.1,140.0 441.6,142.0 442.6,144.0 443.8,147.5 445.1,150.5 445.3,151.5 445.3,152.5 445.1,153.5 444.8,154.0 444.4,154.5 443.2,155.5 442.0,156.3 441.0,156.9 440.0,157.3 437.5,158.0 436.5,158.5 435.5,159.4 434.1,161.5 433.5,162.1 432.5,162.8 431.0,163.4 429.5,163.8 422.5,164.7 418.5,165.1 416.0,165.0 414.0,164.5 410.5,162.9 409.5,162.6 408.5,162.5 407.5,162.5 404.5,163.0 403.5,163.0 402.0,162.8 400.5,162.4 399.0,161.7 395.5,159.5 394.5,159.0 392.5,158.2 391.0,157.9 389.5,157.9 388.5,158.1 383.5,160.1 382.0,160.3 381.0,160.3 380.0,160.0 379.5,159.8 378.5,159.0 377.0,157.4 375.3,155.0 374.2,153.0 373.7,151.5 373.2,150.0 372.9,148.0 372.7,144.5 372.4,143.5 372.0,142.8 371.2,142.0 369.5,140.9 M369.5,137.1 371.6,136.0 377.0,133.8 379.0,133.2 380.5,133.0 382.0,133.1 385.0,133.9 386.0,134.1 388.5,134.3 391.5,134.3 404.5,133.9 406.5,133.9 415.0,135.1 419.0,135.8 420.5,135.7 423.5,134.7 425.0,134.4 427.0,134.3 428.5,134.5 431.5,135.4 433.5,136.2 434.5,136.7 435.5,137.3 436.3,138.0 437.7,139.5 439.8,142.5 440.4,143.5 440.9,144.5 441.3,146.0 441.8,148.5 442.5,151.0 442.5,152.0 442.5,152.5 442.1,153.5 441.7,154.0 440.7,155.0 439.5,155.7 436.0,157.0 435.0,157.7 434.2,158.5 432.7,161.0 432.2,161.5 431.5,162.1 430.5,162.5 429.0,163.0 422.5,163.8 419.0,164.0 417.0,163.9 415.5,163.4 413.0,162.1 412.0,161.7 410.5,161.3 409.0,160.9 407.5,161.0 404.5,161.7 403.5,161.7 402.0,161.5 401.0,161.3 399.5,160.6 396.0,158.3 394.5,157.5 392.5,156.7 391.0,156.4 389.5,156.4 388.0,156.8 384.5,158.6 383.0,159.1 382.0,159.3 381.0,159.2 380.0,158.8 378.5,157.7 377.0,156.0 375.9,154.5 374.9,152.5 374.2,150.0 373.8,148.0 373.7,144.5 373.4,143.5 372.9,142.5 372.0,141.6 369.5,139.8 M421.5,163.0 419.0,163.1 417.5,162.9 416.0,162.2 414.0,160.9 413.0,160.4 409.0,159.1 408.0,159.1 407.5,159.3 405.5,160.1 404.0,160.5 403.0,160.5 401.5,160.3 399.5,159.4 395.5,156.9 394.0,156.1 392.5,155.5 391.0,155.2 389.5,155.1 388.0,155.5 387.0,156.0 384.5,157.5 383.0,158.1 382.0,158.2 381.5,158.2 380.5,157.9 379.5,157.3 378.1,156.0 377.0,154.7 376.2,153.5 375.4,151.5 374.9,149.5 374.6,147.5 374.5,145.0 374.2,143.5 373.7,142.5 373.0,141.6 370.6,139.5 370.2,139.0 370.0,138.5 370.1,138.0 370.4,137.5 371.1,137.0 372.5,136.2 374.5,135.4 378.0,134.0 379.5,133.7 380.5,133.6 382.0,133.8 385.0,134.6 387.0,134.8 390.0,134.8 404.0,134.3 406.5,134.4 415.0,135.7 418.5,136.6 419.5,136.7 420.5,136.6 424.0,135.4 425.0,135.3 426.5,135.2 427.5,135.3 429.0,135.6 431.5,136.4 433.0,137.0 434.5,137.9 435.5,139.0 437.0,141.5 438.5,143.4 439.2,144.5 439.5,145.5 439.7,146.5 439.8,149.0 440.1,151.5 440.1,152.5 439.9,153.0 439.6,153.5 439.2,154.0 438.6,154.5 435.0,156.5 434.0,157.2 433.2,158.0 431.8,160.5 431.3,161.0 430.5,161.6 429.5,162.0 428.0,162.4 421.5,163.0 M425.0,162.0 421.0,162.3 419.5,162.3 418.1,162.0 417.0,161.5 415.8,160.5 414.9,159.5 414.2,158.5 413.8,157.5 413.8,156.0 413.7,155.5 413.2,154.5 412.5,153.8 412.0,153.4 411.5,153.3 410.5,153.3 409.9,153.5 409.0,154.0 407.5,155.5 407.1,156.0 406.2,157.5 405.5,158.3 404.5,159.0 403.5,159.3 402.0,159.3 400.5,158.9 398.5,157.9 395.5,155.9 394.0,155.0 392.0,154.2 390.5,153.9 389.0,154.0 388.0,154.3 387.0,154.8 384.0,156.7 383.0,157.1 382.0,157.3 381.5,157.2 380.5,156.9 379.5,156.3 378.5,155.4 377.5,154.2 376.8,153.0 376.2,151.5 375.6,149.5 375.4,148.0 375.2,145.0 374.8,143.5 374.0,142.0 373.0,140.8 371.7,139.5 371.3,139.0 371.2,138.5 371.3,138.0 371.6,137.5 372.2,137.0 373.5,136.3 375.5,135.4 377.0,134.8 378.5,134.4 379.5,134.2 380.5,134.2 382.0,134.4 384.5,135.1 386.0,135.3 399.0,134.8 404.5,134.7 406.5,134.7 415.0,136.2 416.5,136.7 418.5,137.4 419.5,137.7 420.5,137.5 422.9,136.5 424.0,136.1 425.5,135.9 426.5,135.9 428.5,136.3 431.8,137.5 433.0,138.1 434.0,139.0 434.6,140.0 435.3,142.0 436.0,142.9 437.5,144.5 438.0,145.5 438.3,146.5 438.4,147.5 438.3,151.5 438.2,152.5 437.7,153.5 437.2,154.0 435.9,155.0 433.5,156.5 433.0,157.0 432.2,158.0 431.1,160.0 430.5,160.6 429.5,161.2 428.5,161.6 427.0,161.8 425.0,162.0 M427.5,161.1 425.0,161.3 420.5,161.5 419.0,161.2 418.0,160.8 417.2,160.0 416.6,159.0 416.4,158.0 416.3,156.0 416.0,155.2 415.6,154.5 414.8,153.5 413.6,152.5 412.7,152.0 412.0,151.8 411.5,151.7 410.5,151.9 409.3,152.5 408.0,153.5 407.0,154.5 404.2,157.5 403.5,157.9 402.5,158.2 401.0,158.1 399.5,157.5 398.0,156.7 395.5,155.0 393.7,154.0 391.5,153.1 390.0,152.8 388.5,152.9 387.5,153.3 384.0,155.7 383.0,156.1 382.0,156.3 381.0,156.1 380.0,155.6 379.0,154.8 378.0,153.7 377.3,152.5 376.8,151.0 376.4,149.5 375.8,145.0 375.4,143.5 374.5,141.9 372.5,139.5 372.2,139.0 372.1,138.5 372.2,138.0 372.6,137.5 373.2,137.0 375.5,135.8 378.0,135.0 379.0,134.8 380.0,134.7 381.5,134.8 384.5,135.7 386.0,135.8 391.5,135.4 399.0,135.1 404.0,135.0 406.5,135.1 408.0,135.3 415.0,136.7 416.5,137.2 418.5,138.3 419.5,138.6 420.0,138.6 420.5,138.5 423.4,137.0 425.0,136.6 426.0,136.6 427.0,136.7 428.1,137.0 430.0,137.7 431.6,138.5 432.3,139.0 432.8,139.5 433.1,140.0 434.1,142.5 434.8,143.5 436.3,145.0 436.9,146.0 437.2,147.0 437.2,148.0 437.1,151.5 436.9,152.5 436.3,153.5 435.3,154.5 433.0,156.1 432.0,157.0 431.3,158.0 430.5,159.4 430.0,160.0 429.0,160.6 427.5,161.1 M416.9,145.0 417.7,144.5 418.1,144.0 418.3,143.5 418.3,143.0 418.0,142.6 417.5,142.5 417.0,142.6 415.6,143.0 414.7,143.5 414.1,144.0 414.0,144.5 414.4,145.0 415.0,145.2 416.0,145.3 416.9,145.0 M426.5,160.6 424.5,160.7 421.5,160.6 420.0,160.4 419.1,160.0 418.6,159.5 418.3,159.0 418.1,158.0 417.9,156.0 417.6,155.0 417.0,153.9 416.0,152.6 414.5,151.2 413.5,150.6 412.5,150.3 412.0,150.3 411.0,150.5 409.5,151.2 408.0,152.4 403.5,156.5 403.0,156.8 402.0,157.1 401.0,157.1 399.5,156.7 398.0,155.9 395.5,154.3 394.0,153.4 391.5,152.3 390.0,151.8 389.0,151.8 388.5,151.9 387.5,152.3 386.5,152.9 384.0,154.7 383.0,155.2 382.0,155.4 381.0,155.2 380.0,154.7 379.2,154.0 378.4,153.0 377.9,152.0 377.2,150.0 376.5,145.5 376.1,144.0 375.7,143.0 375.1,142.0 373.2,139.5 373.0,139.0 372.9,138.5 373.1,138.0 373.5,137.5 374.1,137.0 376.0,136.0 378.0,135.4 379.0,135.2 380.0,135.1 381.5,135.3 384.0,136.0 385.5,136.2 387.0,136.1 391.5,135.7 398.5,135.3 405.0,135.3 407.5,135.5 413.5,136.8 415.5,137.3 416.7,138.0 417.9,139.0 418.2,139.5 418.3,140.0 418.0,140.5 417.4,141.0 416.0,141.7 413.2,143.0 412.5,143.5 412.0,144.0 411.9,144.5 412.0,145.0 412.7,146.0 413.5,146.7 414.0,146.9 415.0,147.1 416.0,147.0 417.0,146.6 418.0,146.0 419.1,145.0 419.8,144.0 420.2,143.0 420.3,142.0 420.3,140.5 420.5,140.0 421.0,139.5 422.2,138.5 423.5,137.7 424.0,137.5 425.0,137.3 426.5,137.3 428.0,137.8 430.4,139.0 431.5,139.9 432.0,140.6 433.5,143.5 435.6,146.0 435.9,146.5 436.2,147.5 436.3,148.5 436.3,150.5 436.2,151.5 435.9,152.5 435.3,153.5 434.8,154.0 431.6,156.5 430.8,157.5 429.9,159.0 429.4,159.5 428.7,160.0 428.0,160.3 426.5,160.6 M402.0,156.1 401.0,156.2 400.0,156.1 399.5,155.9 398.5,155.4 395.0,153.3 392.5,152.0 391.0,151.3 389.5,151.0 388.5,151.0 387.5,151.4 386.5,152.0 384.0,153.8 383.0,154.3 382.0,154.5 381.5,154.5 380.5,154.2 379.5,153.4 379.0,152.7 378.5,151.8 378.0,150.0 377.4,146.5 376.8,144.5 375.9,142.5 373.9,139.5 373.6,139.0 373.6,138.5 373.8,138.0 374.2,137.5 374.9,137.0 376.0,136.4 378.0,135.7 379.5,135.5 381.0,135.6 384.0,136.4 385.5,136.5 392.0,135.9 399.5,135.5 404.0,135.5 407.0,135.7 413.5,137.2 415.0,137.6 415.7,138.0 416.4,138.5 416.8,139.0 416.9,139.5 416.8,140.0 416.5,140.5 415.8,141.0 415.0,141.4 411.6,143.0 411.0,143.5 410.6,144.0 410.5,144.5 410.5,145.0 411.3,146.5 411.7,147.5 411.7,148.0 411.5,148.5 411.1,149.0 408.5,151.0 405.0,154.1 403.0,155.6 402.0,156.1 M425.0,160.0 423.0,159.9 421.5,159.6 420.5,159.2 420.0,158.7 419.6,158.0 419.2,156.0 418.9,155.0 418.0,153.3 416.6,151.0 416.3,150.0 416.3,149.5 416.5,149.0 416.8,148.5 419.5,145.9 420.6,144.5 421.3,143.0 421.8,140.5 422.3,139.5 423.0,138.9 424.0,138.2 424.8,138.0 425.5,137.9 426.5,138.1 428.0,138.7 430.0,140.0 430.9,141.0 433.0,144.2 434.4,146.0 435.0,147.0 435.5,148.5 435.5,150.0 435.4,151.5 435.1,152.5 434.8,153.0 433.9,154.0 431.0,156.2 430.3,157.0 429.2,158.5 428.8,159.0 428.0,159.5 427.5,159.7 426.5,159.9 425.0,160.0 M402.0,155.0 401.0,155.2 400.5,155.2 399.5,155.0 398.5,154.6 395.7,153.0 391.5,150.8 390.5,150.4 389.5,150.2 388.5,150.2 387.5,150.5 386.5,151.1 384.0,152.9 383.0,153.4 382.0,153.7 381.5,153.6 380.5,153.2 380.0,152.8 379.5,152.1 379.0,151.1 378.7,150.0 378.3,147.0 377.9,145.5 377.0,143.5 374.4,139.5 374.3,139.0 374.3,138.5 374.5,138.0 374.9,137.5 376.0,136.8 377.5,136.2 379.0,135.9 380.5,135.9 384.0,136.8 385.5,136.9 392.0,136.1 399.5,135.7 403.5,135.7 406.0,135.8 408.0,136.2 413.5,137.6 414.6,138.0 415.4,138.5 415.8,139.0 415.9,139.5 415.8,140.0 415.3,140.5 414.0,141.3 410.1,143.0 409.4,143.5 408.9,144.0 408.9,144.5 410.0,146.5 410.1,147.0 410.1,147.5 410.0,148.0 409.4,149.0 406.3,152.0 405.2,153.0 403.5,154.2 402.0,155.0 M427.0,159.1 425.5,159.3 424.0,159.2 422.5,158.9 421.5,158.3 421.0,157.6 420.7,157.0 419.9,155.0 418.4,152.0 418.0,150.5 418.0,149.5 418.5,148.5 420.8,145.5 421.8,144.0 422.2,143.0 422.9,140.5 423.1,140.0 423.6,139.5 424.0,139.2 425.0,138.8 426.0,138.8 426.7,139.0 427.5,139.4 429.0,140.5 430.1,141.5 431.3,143.0 434.0,147.0 434.5,148.1 434.8,149.5 434.8,150.5 434.7,151.5 434.3,152.5 433.9,153.0 433.0,153.9 431.0,155.3 430.2,156.0 428.6,158.0 428.1,158.5 427.0,159.1 M401.5,154.0 400.5,154.2 400.0,154.2 399.0,153.9 394.5,151.7 391.0,149.8 389.5,149.3 388.5,149.3 387.5,149.7 386.5,150.2 384.0,152.0 383.0,152.5 382.0,152.7 381.5,152.7 381.0,152.5 380.5,152.1 380.0,151.5 379.6,150.5 379.2,149.0 379.0,146.5 378.7,145.5 377.9,144.0 375.5,140.5 375.0,139.5 374.9,139.0 374.9,138.5 375.2,138.0 375.7,137.5 376.5,137.0 377.7,136.5 379.0,136.2 380.5,136.3 384.0,137.1 385.5,137.3 386.5,137.2 390.0,136.6 392.0,136.3 400.0,136.0 403.5,135.9 405.5,136.0 407.5,136.4 413.0,137.9 414.4,138.5 414.8,139.0 415.0,139.5 414.7,140.0 414.2,140.5 412.5,141.3 407.0,143.5 406.3,144.0 406.2,144.5 406.7,145.0 408.0,146.0 408.5,146.7 408.6,147.0 408.7,147.5 408.6,148.0 408.4,148.5 407.2,150.0 405.0,152.1 403.0,153.4 401.5,154.0 M425.5,158.5 424.5,158.5 423.5,158.2 422.5,157.6 422.0,157.1 421.3,156.0 419.8,153.0 419.2,151.5 419.0,150.5 419.1,149.5 419.5,148.5 422.3,144.5 423.0,143.0 424.0,140.6 424.6,140.0 425.5,139.8 426.5,139.9 427.5,140.5 429.5,142.1 430.5,143.1 431.1,144.0 433.5,148.0 433.9,149.0 434.1,150.5 433.9,151.5 433.7,152.0 433.0,153.0 432.5,153.5 429.8,155.5 428.0,157.4 427.5,157.9 426.5,158.4 425.5,158.5 M401.5,152.7 400.0,152.9 399.0,152.8 398.0,152.5 396.0,151.7 394.4,151.0 390.5,148.6 389.5,148.2 389.0,148.2 388.5,148.2 387.5,148.6 383.5,151.4 382.5,151.7 382.0,151.8 381.5,151.6 381.0,151.3 380.7,151.0 380.2,150.0 380.0,149.0 379.9,146.5 379.7,145.5 379.1,144.5 377.5,142.7 376.0,140.5 375.5,139.5 375.5,139.0 375.6,138.5 376.0,137.9 377.0,137.2 378.0,136.8 379.0,136.6 380.5,136.6 384.0,137.5 385.5,137.6 387.0,137.4 390.0,136.8 392.0,136.5 400.0,136.2 402.5,136.1 405.5,136.3 407.5,136.7 412.0,138.0 413.1,138.5 413.8,139.0 413.9,139.5 413.7,140.0 413.0,140.5 412.0,141.0 410.0,141.8 408.5,142.3 405.6,143.0 404.5,143.5 404.0,144.0 403.8,144.5 403.9,145.0 404.2,145.5 404.9,146.0 406.0,146.5 406.7,147.0 407.0,147.5 407.0,148.0 406.9,148.5 406.2,149.5 404.7,151.0 403.1,152.0 401.5,152.7 M426.0,157.6 425.0,157.7 424.0,157.4 423.2,157.0 422.5,156.3 421.5,154.9 420.5,153.0 419.9,151.5 419.8,150.5 420.0,149.5 420.4,148.5 422.7,145.0 424.5,141.9 425.0,141.4 425.5,141.1 426.0,141.1 427.0,141.4 428.0,141.9 429.4,143.0 430.3,144.0 432.8,148.5 433.2,149.5 433.3,150.5 433.1,151.5 432.9,152.0 432.1,153.0 429.4,155.0 427.2,157.0 426.5,157.4 426.0,157.6 M400.0,151.1 399.0,151.4 397.5,151.4 395.5,150.8 393.9,150.0 392.6,149.0 391.3,147.5 391.0,147.0 390.9,146.5 391.1,145.0 390.9,144.5 390.6,144.0 390.0,143.5 389.0,143.0 388.0,142.6 387.0,142.5 386.0,142.7 385.4,143.0 384.9,143.5 384.8,144.0 385.0,144.5 386.4,146.0 386.8,146.5 386.9,147.0 386.7,147.5 386.4,148.0 385.4,149.0 384.0,150.1 383.0,150.6 382.5,150.6 382.0,150.6 381.3,150.0 381.0,149.0 380.9,148.0 381.1,146.0 381.1,145.5 381.0,145.0 380.6,144.5 378.5,143.0 377.0,141.4 376.4,140.5 376.1,139.5 376.0,139.0 376.2,138.5 376.6,138.0 377.5,137.4 378.5,137.1 379.5,136.9 381.0,137.0 384.0,137.9 385.5,138.0 386.5,137.9 389.5,137.1 391.5,136.8 399.5,136.4 402.0,136.4 405.0,136.5 407.0,136.8 410.5,138.0 411.8,138.5 412.5,139.0 412.7,139.5 412.4,140.0 411.5,140.6 409.0,141.6 404.5,142.7 403.7,143.0 402.9,143.5 402.4,144.0 402.3,144.5 402.4,145.5 402.8,147.0 402.8,148.0 402.6,148.5 401.8,149.5 400.8,150.5 400.0,151.1 M426.0,156.6 425.5,156.7 424.5,156.6 423.5,156.1 423.0,155.7 422.0,154.4 421.2,153.0 420.6,151.5 420.5,150.5 420.7,149.5 421.1,148.5 424.0,144.2 425.0,142.9 425.5,142.6 426.0,142.4 426.5,142.4 427.5,142.7 428.5,143.2 429.0,143.7 429.8,144.5 430.4,145.5 432.0,149.0 432.3,150.0 432.4,150.5 432.2,151.5 431.5,152.5 427.0,156.1 426.0,156.6 M398.5,150.0 397.5,150.3 396.5,150.3 395.4,150.0 394.5,149.6 394.0,149.2 393.3,148.5 392.8,147.5 392.6,146.5 392.8,145.0 392.6,144.5 392.2,144.0 391.5,143.5 388.5,142.1 387.0,141.7 386.0,141.7 385.0,142.0 382.5,143.1 381.5,143.3 380.0,143.1 379.0,142.7 378.0,141.9 377.5,141.3 376.9,140.5 376.6,139.5 376.6,139.0 376.8,138.5 377.3,138.0 378.0,137.6 378.5,137.5 379.5,137.3 381.0,137.4 384.0,138.3 385.5,138.5 386.5,138.3 389.5,137.4 391.5,137.0 400.0,136.6 402.0,136.6 404.5,136.7 406.5,137.0 408.1,137.5 409.3,138.0 410.4,138.5 411.2,139.0 411.4,139.5 411.1,140.0 410.4,140.5 409.2,141.0 408.0,141.4 403.5,142.5 402.2,143.0 401.4,143.5 400.9,144.0 400.7,144.5 400.9,146.5 400.7,147.5 400.4,148.0 399.7,149.0 399.0,149.7 398.5,150.0 M426.0,155.7 425.0,155.8 424.5,155.7 423.5,155.1 423.0,154.7 422.1,153.5 421.6,152.5 421.2,151.5 421.1,150.5 421.3,149.5 421.7,148.5 424.0,145.2 425.0,144.1 425.5,143.7 426.0,143.5 426.5,143.4 427.0,143.4 428.0,143.8 428.5,144.2 429.2,145.0 429.8,146.0 431.0,149.0 431.3,150.0 431.4,150.5 431.2,151.5 430.4,152.5 427.5,154.8 426.5,155.5 426.0,155.7 M383.0,149.0 382.5,148.7 382.4,148.5 382.3,148.0 382.5,147.1 383.0,146.5 383.5,146.3 384.0,146.4 384.6,147.0 384.7,147.5 384.5,148.0 384.0,148.6 383.5,148.9 383.0,149.0 M397.5,149.1 397.0,149.2 396.0,149.2 395.3,149.0 394.5,148.3 394.0,147.5 394.0,147.0 394.0,146.5 394.4,145.0 394.4,144.5 394.0,144.0 393.1,143.5 388.0,141.3 386.5,140.9 386.0,140.9 385.0,141.1 382.5,142.1 381.5,142.4 380.5,142.5 379.5,142.2 378.5,141.7 378.0,141.2 377.5,140.6 377.2,140.0 377.1,139.5 377.2,139.0 377.5,138.5 378.0,138.1 378.5,137.9 379.5,137.7 381.0,137.8 384.0,138.8 385.5,139.1 386.5,138.9 389.5,137.7 391.5,137.2 393.0,137.1 396.0,137.0 401.0,136.8 404.0,136.9 406.0,137.2 407.1,137.5 408.3,138.0 409.2,138.5 409.9,139.0 410.1,139.5 409.8,140.0 409.0,140.5 407.5,141.1 403.6,142.0 401.9,142.5 400.4,143.0 399.2,143.5 398.7,144.0 398.6,144.5 399.2,146.0 399.2,147.0 399.0,147.5 398.5,148.3 398.0,148.8 397.5,149.1 M426.5,154.6 425.5,154.9 425.0,154.9 424.0,154.6 423.5,154.2 422.8,153.5 422.2,152.5 421.8,151.5 421.7,150.5 421.8,150.0 422.1,149.0 422.7,148.0 424.0,146.3 425.0,145.1 425.5,144.7 426.0,144.4 426.5,144.3 427.0,144.3 427.5,144.5 428.0,144.8 428.7,145.5 429.2,146.5 430.1,149.0 430.3,150.0 430.4,150.5 430.1,151.5 429.4,152.5 428.0,153.7 426.5,154.6 M397.0,143.0 396.0,143.2 395.0,143.2 393.0,142.9 391.5,142.4 389.5,141.5 387.7,140.5 387.1,140.0 387.1,139.5 387.6,139.0 388.3,138.5 389.4,138.0 391.1,137.5 393.0,137.3 396.5,137.2 400.5,137.0 403.5,137.1 405.9,137.5 407.3,138.0 408.2,138.5 408.8,139.0 408.9,139.5 408.6,140.0 407.5,140.6 406.2,141.0 401.5,142.1 397.0,143.0 M381.5,141.7 380.5,141.8 380.0,141.7 379.2,141.5 378.5,141.0 378.1,140.5 377.8,140.0 377.7,139.5 377.9,139.0 378.5,138.4 379.0,138.2 380.0,138.1 381.0,138.2 381.8,138.5 382.9,139.0 383.7,139.5 384.0,140.0 383.8,140.5 383.0,141.0 381.5,141.7 M425.5,154.1 424.5,154.0 424.0,153.7 423.5,153.3 423.0,152.7 422.4,151.5 422.3,150.5 422.4,150.0 422.5,149.5 423.0,148.5 424.0,147.2 425.0,146.1 426.0,145.4 426.5,145.3 427.0,145.3 427.5,145.6 428.0,146.0 428.5,147.0 429.3,149.5 429.4,150.5 429.3,151.0 428.8,152.0 427.8,153.0 426.5,153.8 425.5,154.1 M395.5,142.5 394.5,142.5 393.0,142.4 391.0,141.8 389.5,141.1 388.7,140.5 388.3,140.0 388.2,139.5 388.5,139.0 389.1,138.5 390.2,138.0 391.5,137.7 393.0,137.5 396.5,137.5 400.0,137.2 402.5,137.3 405.0,137.6 406.5,138.1 407.3,138.5 407.8,139.0 407.9,139.5 407.4,140.0 406.0,140.6 401.5,141.7 395.5,142.5 M381.0,141.0 380.0,141.1 379.5,140.9 378.9,140.5 378.5,140.0 378.5,139.5 378.8,139.0 379.5,138.7 380.5,138.7 381.5,139.0 382.2,139.5 382.4,140.0 382.1,140.5 381.0,141.0 M426.5,153.0 425.5,153.3 425.0,153.3 424.5,153.1 424.0,152.8 423.5,152.3 423.1,151.5 422.9,150.5 423.0,150.0 423.4,149.0 424.5,147.6 425.5,146.8 426.0,146.5 426.5,146.4 427.0,146.6 427.5,147.0 427.8,147.5 428.3,149.0 428.5,150.0 428.4,151.0 428.2,151.5 427.5,152.3 426.5,153.0 M395.5,142.0 393.5,142.1 392.5,141.9 391.5,141.6 390.2,141.0 389.4,140.5 389.0,140.0 388.9,139.5 389.2,139.0 389.8,138.5 391.5,137.9 393.0,137.7 396.5,137.7 400.0,137.5 402.0,137.5 404.5,137.8 405.2,138.0 406.3,138.5 406.8,139.0 406.8,139.5 406.2,140.0 404.5,140.6 401.5,141.3 395.5,142.0 M426.5,152.1 426.0,152.3 425.5,152.4 425.0,152.4 424.3,152.0 423.9,151.5 423.7,151.0 423.7,150.5 423.8,150.0 424.0,149.5 424.3,149.0 425.0,148.3 425.5,148.0 426.0,147.8 426.5,147.9 427.0,148.3 427.3,149.0 427.6,150.0 427.5,150.5 427.4,151.0 427.1,151.5 426.5,152.1 M396.0,141.5 394.0,141.7 393.0,141.6 392.0,141.4 390.9,141.0 390.1,140.5 389.7,140.0 389.6,139.5 389.8,139.0 390.5,138.5 392.0,138.0 393.5,137.9 396.5,138.0 400.0,137.7 402.0,137.8 403.7,138.0 404.5,138.2 405.2,138.5 405.7,139.0 405.7,139.5 405.0,140.0 403.5,140.5 401.0,141.0 398.0,141.2 396.0,141.5 M425.5,151.0 425.0,150.7 424.9,150.5 425.1,150.0 425.5,149.7 426.0,149.8 426.1,150.0 426.1,150.5 426.0,150.7 425.5,151.0" fill="none" stroke="#000" stroke-width="0.92"/>
</g>
<rect x="376" y="137" width="3" height="24" fill="#111"/>
<rect x="405" y="166.2" width="64" height="1.8" fill="#222"/>
<path d="M380,139.0 Q400,138.9 418,141" stroke="#0a0a0a" stroke-width="2.8" stroke-linecap="round" fill="none" clip-path="url(#cp3)"/>
<rect x="377.1" y="154.3" width="26.1" height="14.0" fill="#fff"/>
<rect x="492.3" y="154.3" width="15.4" height="14.0" fill="#fff"/>
<path d="M441.5,33.5 V167.5 M375.5,127.7 H508.5" stroke="#161616" stroke-width="0.85" fill="none"/>
<path d="M375.5,167.5 v3.4 M385.5,167.5 v1.9 M391.4,167.5 v1.9 M395.5,167.5 v1.9 M398.7,167.5 v1.9 M401.4,167.5 v1.9 M403.6,167.5 v1.9 M405.5,167.5 v1.9 M407.2,167.5 v1.9 M408.8,167.5 v3.4 M418.8,167.5 v1.9 M424.6,167.5 v1.9 M428.8,167.5 v1.9 M432.0,167.5 v1.9 M434.6,167.5 v1.9 M436.8,167.5 v1.9 M438.8,167.5 v1.9 M440.5,167.5 v1.9 M442.0,167.5 v3.4 M452.0,167.5 v1.9 M457.9,167.5 v1.9 M462.0,167.5 v1.9 M465.2,167.5 v1.9 M467.9,167.5 v1.9 M470.1,167.5 v1.9 M472.0,167.5 v1.9 M473.7,167.5 v1.9 M475.2,167.5 v3.4 M485.3,167.5 v1.9 M491.1,167.5 v1.9 M495.3,167.5 v1.9 M498.5,167.5 v1.9 M501.1,167.5 v1.9 M503.3,167.5 v1.9 M505.3,167.5 v1.9 M507.0,167.5 v1.9 M508.5,167.5 v3.4 M375.5,167.5 h-3.4 M375.5,157.4 h-1.9 M375.5,151.5 h-1.9 M375.5,147.3 h-1.9 M375.5,144.1 h-1.9 M375.5,141.4 h-1.9 M375.5,139.2 h-1.9 M375.5,137.2 h-1.9 M375.5,135.5 h-1.9 M375.5,134.0 h-3.4 M375.5,123.9 h-1.9 M375.5,118.0 h-1.9 M375.5,113.8 h-1.9 M375.5,110.6 h-1.9 M375.5,107.9 h-1.9 M375.5,105.7 h-1.9 M375.5,103.7 h-1.9 M375.5,102.0 h-1.9 M375.5,100.5 h-3.4 M375.5,90.4 h-1.9 M375.5,84.5 h-1.9 M375.5,80.3 h-1.9 M375.5,77.1 h-1.9 M375.5,74.4 h-1.9 M375.5,72.2 h-1.9 M375.5,70.2 h-1.9 M375.5,68.5 h-1.9 M375.5,67.0 h-3.4 M375.5,56.9 h-1.9 M375.5,51.0 h-1.9 M375.5,46.8 h-1.9 M375.5,43.6 h-1.9 M375.5,40.9 h-1.9 M375.5,38.7 h-1.9 M375.5,36.7 h-1.9 M375.5,35.0 h-1.9 M375.5,33.5 h-3.4" stroke="#1a1a1a" stroke-width="0.75" fill="none"/>
<text x="374.9" y="180.9" font-size="6.5" fill="#2a2a2a" text-anchor="middle">10<tspan dy="-2.4" font-size="4.9">0</tspan></text>
<text x="369.3" y="170.5" font-size="6.5" fill="#2a2a2a" text-anchor="end">10<tspan dy="-2.4" font-size="4.9">0</tspan></text>
<text x="408.1" y="180.9" font-size="6.5" fill="#2a2a2a" text-anchor="middle">10<tspan dy="-2.4" font-size="4.9">1</tspan></text>
<text x="369.3" y="137.0" font-size="6.5" fill="#2a2a2a" text-anchor="end">10<tspan dy="-2.4" font-size="4.9">1</tspan></text>
<text x="441.4" y="180.9" font-size="6.5" fill="#2a2a2a" text-anchor="middle">10<tspan dy="-2.4" font-size="4.9">2</tspan></text>
<text x="369.3" y="103.5" font-size="6.5" fill="#2a2a2a" text-anchor="end">10<tspan dy="-2.4" font-size="4.9">2</tspan></text>
<text x="474.6" y="180.9" font-size="6.5" fill="#2a2a2a" text-anchor="middle">10<tspan dy="-2.4" font-size="4.9">3</tspan></text>
<text x="369.3" y="70.0" font-size="6.5" fill="#2a2a2a" text-anchor="end">10<tspan dy="-2.4" font-size="4.9">3</tspan></text>
<text x="507.9" y="180.9" font-size="6.5" fill="#2a2a2a" text-anchor="middle">10<tspan dy="-2.4" font-size="4.9">4</tspan></text>
<text x="369.3" y="36.5" font-size="6.5" fill="#2a2a2a" text-anchor="end">10<tspan dy="-2.4" font-size="4.9">4</tspan></text>
<text x="376.9" y="47.1" font-size="12.5" font-weight="bold" text-anchor="start" fill="#000" >2.93</text>
<text x="507.7" y="47.1" font-size="12.5" font-weight="bold" text-anchor="end" fill="#000" >1.26</text>
<text x="378.1" y="166.1" font-size="12.5" font-weight="bold" text-anchor="start" fill="#000" >82.8</text>
<text x="507.7" y="166.1" font-size="12.5" font-weight="bold" text-anchor="end" fill="#000" >13</text>
</g>
<g>
<clipPath id="cp4"><rect x="69.2" y="203.5" width="133.8" height="134.5"/></clipPath>
<rect x="69.2" y="203.5" width="133.8" height="134.5" fill="none" stroke="#1a1a1a" stroke-width="1"/>
<g clip-path="url(#cp4)">
<path d="M63.2,306.9 64.2,305.8 64.7,305.0 66.4,301.5 67.0,300.5 67.7,299.7 68.2,299.3 68.7,299.1 69.2,299.1 69.7,299.2 70.7,299.8 71.7,300.6 72.2,300.9 72.7,301.0 73.7,300.8 76.7,299.8 79.2,299.3 81.2,299.2 86.7,299.1 94.7,298.2 98.2,298.1 106.2,298.3 108.7,298.2 113.7,297.6 116.7,297.4 119.7,297.4 122.7,297.5 125.2,297.8 134.3,299.0 143.2,299.8 145.2,300.2 146.7,300.6 149.7,301.6 151.7,302.6 153.7,304.0 155.5,305.5 157.0,307.0 158.4,309.0 159.2,310.5 159.7,312.0 159.9,314.0 159.6,317.0 158.9,320.5 158.0,323.0 156.3,327.0 156.0,328.0 156.0,329.5 156.6,331.5 156.7,332.5 156.5,333.5 155.8,334.5 154.5,335.5 152.2,336.6 149.2,337.8 145.2,339.1 142.7,339.8 139.2,340.6 135.2,341.3 132.2,341.7 128.2,342.0 122.2,341.9 98.7,340.3 93.2,339.8 88.7,339.2 82.7,338.3 78.7,337.4 76.2,336.6 73.7,335.5 72.1,334.5 68.7,331.9 67.7,330.9 67.0,330.0 64.7,326.4 63.2,324.3 M132.7,339.1 130.2,339.3 126.7,339.4 122.2,339.4 117.7,339.3 113.7,339.1 99.7,338.0 92.7,337.2 87.2,336.1 81.7,334.7 79.7,334.0 78.2,333.3 77.2,332.6 76.2,331.8 73.2,328.6 72.2,327.8 71.7,327.6 71.2,327.6 70.2,327.8 69.2,327.8 68.7,327.6 68.2,327.3 67.7,326.8 67.1,326.0 66.6,325.0 65.9,323.5 65.0,320.5 64.6,318.0 64.3,315.5 64.3,312.5 64.5,310.5 65.0,308.0 65.9,305.0 66.8,303.0 67.4,302.0 68.2,301.2 68.7,301.0 69.2,300.9 69.7,301.1 70.2,301.3 71.7,302.8 72.2,303.2 72.7,303.4 73.2,303.4 73.7,303.2 75.7,302.3 77.2,301.8 79.2,301.3 81.2,301.2 86.2,301.1 92.2,300.1 94.7,299.8 98.2,299.7 104.2,300.1 106.7,300.1 108.7,300.0 115.2,299.1 119.2,299.0 121.7,299.1 124.2,299.4 133.4,301.0 143.2,302.5 146.2,303.1 148.7,304.2 150.2,305.1 151.5,306.0 152.7,307.1 153.9,308.5 154.9,310.0 155.4,311.0 155.8,312.5 156.0,314.0 155.8,316.5 155.6,318.0 155.2,319.5 154.6,321.0 153.9,322.5 151.5,326.5 150.7,328.0 150.3,329.5 150.3,332.0 150.0,333.0 149.2,334.0 148.2,334.7 146.2,335.8 144.2,336.7 142.2,337.3 139.7,337.9 135.2,338.7 132.7,339.1 M125.2,338.0 117.7,338.0 112.7,337.8 107.2,337.2 100.7,336.7 91.7,335.0 89.7,334.5 88.2,334.0 80.7,330.9 79.2,330.1 78.2,329.5 76.7,328.3 75.2,326.8 73.2,324.6 72.7,324.3 72.2,324.2 71.7,324.5 70.5,325.5 69.7,325.9 69.2,326.0 68.7,325.9 68.2,325.5 67.3,324.5 66.4,322.5 65.9,321.0 65.6,319.5 65.2,316.5 65.1,313.0 65.4,309.5 66.0,306.5 66.5,305.0 67.2,303.6 67.7,302.9 68.2,302.4 68.7,302.1 69.2,302.1 69.7,302.2 70.2,302.6 72.2,304.8 72.7,305.0 73.2,305.0 76.7,303.3 78.7,302.7 80.7,302.5 84.2,302.5 86.2,302.4 92.2,301.2 94.7,300.8 96.2,300.7 98.2,300.7 104.7,301.2 106.7,301.2 109.3,301.0 115.2,300.1 117.2,300.0 119.7,300.0 122.7,300.2 125.7,300.6 136.7,303.0 144.2,304.3 145.7,304.7 146.7,305.1 147.7,305.6 149.1,306.5 150.3,307.5 151.2,308.5 152.0,309.5 152.9,311.0 153.4,312.5 153.6,313.5 153.6,315.0 153.5,316.5 152.9,319.0 152.1,321.0 150.9,323.0 148.4,326.5 147.5,328.0 146.8,329.5 146.0,332.0 145.3,333.0 144.3,334.0 142.5,335.0 140.2,335.8 137.2,336.7 134.7,337.3 132.2,337.6 129.7,337.8 125.2,338.0 M121.7,337.0 117.2,337.1 113.7,336.9 107.2,336.0 102.2,335.6 99.6,335.0 96.2,333.8 92.1,332.5 90.7,331.9 88.2,330.5 87.1,330.0 85.3,329.5 81.7,328.7 80.2,328.2 79.0,327.5 77.7,326.5 76.2,325.1 73.7,322.3 73.2,321.9 72.7,321.8 72.2,322.0 70.5,324.0 69.7,324.6 69.2,324.8 68.7,324.7 68.2,324.4 67.7,323.9 67.2,323.1 66.4,321.0 65.9,318.5 65.5,314.5 65.6,311.5 65.9,308.5 66.6,306.0 67.0,305.0 67.5,304.0 68.2,303.2 68.7,303.0 69.2,302.9 69.7,303.1 70.7,304.0 72.2,306.0 72.7,306.3 73.2,306.4 73.7,306.2 75.7,304.9 76.7,304.4 78.7,303.7 80.7,303.5 84.2,303.6 86.2,303.5 92.2,302.0 94.7,301.6 96.7,301.4 98.2,301.4 105.0,302.0 107.2,302.0 109.7,301.8 115.7,300.8 117.7,300.7 120.2,300.7 122.7,300.9 125.7,301.4 138.1,304.5 144.2,305.5 145.6,306.0 146.6,306.5 147.7,307.2 148.6,308.0 149.6,309.0 150.3,310.0 150.9,311.0 151.5,312.5 151.9,314.0 151.9,315.0 151.8,316.5 151.4,318.0 150.9,319.5 150.4,320.5 149.2,322.5 147.2,325.1 143.4,329.5 142.1,331.5 141.4,332.5 140.2,333.5 138.5,334.5 136.2,335.5 134.2,336.1 132.2,336.5 130.2,336.7 121.7,337.0 M122.2,336.0 117.7,336.2 114.7,336.0 112.2,335.7 107.2,334.9 103.7,334.5 101.6,334.0 100.4,333.5 99.7,333.0 98.2,331.8 97.7,331.5 96.6,331.0 93.7,330.1 89.5,328.5 88.2,328.1 86.7,327.8 82.7,327.3 81.7,327.1 80.7,326.6 79.2,325.7 76.7,323.5 75.6,322.5 73.7,320.3 73.2,319.9 72.7,319.9 72.2,320.4 70.7,322.6 69.8,323.5 69.2,323.8 68.7,323.8 68.2,323.5 67.7,322.9 66.9,321.5 66.4,319.5 65.9,316.0 65.8,312.5 66.1,309.5 66.6,307.0 66.9,306.0 67.4,305.0 68.2,303.9 68.7,303.7 69.2,303.6 69.7,303.8 70.2,304.2 70.7,304.8 72.2,307.1 72.7,307.6 73.2,307.6 73.7,307.4 75.6,306.0 76.7,305.4 77.7,304.9 78.7,304.6 80.7,304.4 84.2,304.5 86.2,304.4 87.7,304.0 92.7,302.6 95.2,302.1 96.7,302.0 98.7,302.0 104.7,302.6 107.2,302.7 109.7,302.5 113.7,301.7 115.7,301.3 117.2,301.2 119.2,301.2 123.2,301.6 126.7,302.2 137.7,305.4 142.7,306.2 144.2,306.6 145.7,307.2 146.8,308.0 148.2,309.5 149.5,311.5 150.0,312.5 150.3,313.5 150.5,315.0 150.4,316.0 150.2,317.0 149.5,319.0 148.5,321.0 146.7,323.3 145.7,324.4 144.2,325.7 141.2,327.6 140.1,328.5 139.4,329.5 138.6,331.5 138.0,332.5 137.2,333.3 136.1,334.0 135.0,334.5 133.7,335.0 131.2,335.5 128.2,335.8 122.2,336.0 M120.7,335.0 117.7,335.2 116.2,335.2 114.4,335.0 112.1,334.5 108.7,333.5 105.7,332.4 103.7,331.9 102.7,331.4 101.4,330.5 100.5,330.0 99.2,329.6 94.2,328.7 88.2,326.7 86.7,326.4 83.7,326.1 82.2,325.8 80.6,325.0 76.7,322.0 75.7,321.0 73.7,318.3 73.2,317.9 72.7,318.1 71.1,321.0 70.2,322.3 69.7,322.8 69.2,323.0 68.7,323.0 68.2,322.8 67.7,322.2 67.3,321.5 66.8,320.0 66.3,318.0 66.1,315.0 66.1,312.0 66.4,309.0 66.8,307.0 67.5,305.5 68.2,304.5 68.7,304.2 69.2,304.2 69.7,304.4 70.2,304.8 70.7,305.5 72.2,308.2 72.7,308.9 73.2,309.0 73.7,308.7 75.2,307.4 76.4,306.5 77.7,305.8 78.7,305.4 79.7,305.2 80.7,305.2 84.2,305.3 86.2,305.2 88.2,304.7 93.2,303.1 95.2,302.7 96.7,302.5 98.7,302.5 100.7,302.7 105.2,303.2 107.7,303.3 110.2,303.0 113.7,302.2 115.7,301.8 117.7,301.7 119.7,301.7 123.2,302.1 126.2,302.6 128.7,303.4 136.5,306.0 138.7,306.5 141.7,306.9 143.2,307.2 144.2,307.5 145.1,308.0 146.4,309.0 147.5,310.5 148.6,312.5 149.1,314.0 149.1,315.5 148.8,317.0 148.0,319.0 146.8,321.0 145.7,322.3 144.7,323.2 143.7,324.0 139.7,326.5 138.3,327.5 137.8,328.0 137.1,329.0 136.3,331.0 135.7,332.0 134.7,332.8 133.6,333.5 131.7,334.2 129.7,334.6 120.7,335.0 M119.7,333.5 117.7,333.9 116.7,333.9 115.7,333.8 114.7,333.5 114.1,333.0 113.7,332.5 113.7,332.0 114.0,330.5 113.9,330.0 113.5,329.5 112.9,329.0 109.2,326.3 108.2,325.9 107.7,325.9 107.2,326.0 104.2,327.5 102.7,327.9 101.2,328.1 96.7,328.0 95.2,327.8 93.2,327.4 88.2,325.6 86.7,325.3 83.7,324.8 82.2,324.4 81.2,323.8 77.7,321.5 76.7,320.7 76.2,320.2 75.3,319.0 74.8,318.0 73.2,314.3 72.7,315.0 72.0,318.0 71.4,319.5 71.0,320.5 70.2,321.6 69.7,322.1 69.2,322.4 68.7,322.4 68.2,322.2 67.7,321.6 67.2,320.5 66.6,318.5 66.3,316.0 66.3,313.0 66.4,310.0 66.9,307.5 67.5,306.0 68.2,305.0 68.7,304.7 69.2,304.7 69.8,305.0 70.3,305.5 71.0,306.5 71.9,308.5 72.7,310.7 73.2,311.1 74.7,309.0 76.2,307.6 77.2,306.9 78.0,306.5 79.7,306.0 81.2,305.9 85.2,306.0 86.7,305.8 88.2,305.4 93.7,303.5 94.7,303.2 96.2,303.0 97.7,302.9 99.2,303.0 105.7,303.8 108.2,303.9 110.2,303.7 113.7,302.7 115.2,302.3 117.2,302.1 119.2,302.1 123.2,302.5 124.7,302.8 126.7,303.2 129.2,304.1 133.7,305.9 135.5,306.5 137.5,307.0 141.7,307.6 143.1,308.0 144.2,308.5 145.5,309.5 146.6,311.0 147.4,312.5 147.8,314.0 147.9,315.0 147.5,316.5 146.7,318.5 145.8,320.0 144.7,321.2 143.7,322.1 141.0,324.0 137.0,326.5 134.9,328.0 134.4,328.5 133.7,329.4 132.5,331.5 132.1,332.0 131.2,332.7 130.2,333.1 129.2,333.2 128.2,333.3 125.2,333.1 122.7,333.4 119.7,333.5 M129.2,330.7 128.7,330.8 128.2,330.7 124.2,329.1 121.7,328.5 119.2,328.1 116.2,328.1 114.7,327.7 113.2,327.0 112.2,326.4 111.2,325.5 109.7,323.9 109.1,323.5 108.2,323.3 107.7,323.3 107.2,323.5 104.9,325.5 104.1,326.0 103.2,326.4 101.2,326.9 97.2,327.2 95.7,327.1 93.7,326.7 92.2,326.2 89.7,325.1 88.2,324.6 83.7,323.5 82.6,323.0 80.2,321.5 78.2,320.6 77.2,319.8 76.5,319.0 75.8,318.0 75.4,317.0 74.5,314.5 74.3,312.5 74.4,311.5 74.5,311.0 75.2,309.7 76.2,308.6 77.7,307.5 78.9,307.0 80.2,306.7 81.2,306.6 85.2,306.6 86.7,306.5 88.7,305.9 93.7,304.0 95.7,303.4 97.2,303.3 99.2,303.3 106.2,304.3 107.7,304.5 109.2,304.5 110.7,304.2 113.2,303.3 114.7,302.9 116.2,302.6 117.7,302.5 121.7,302.7 124.2,303.1 125.7,303.4 128.7,304.4 133.2,306.4 134.7,307.0 136.8,307.5 141.7,308.3 142.7,308.6 143.7,309.1 144.7,310.0 145.7,311.3 146.3,312.5 146.6,314.0 146.5,315.0 146.2,316.0 145.5,317.5 144.7,318.8 143.7,319.9 139.2,323.6 137.7,324.5 134.2,326.2 132.9,327.0 131.8,328.0 130.2,330.0 129.7,330.5 129.2,330.7 M69.7,321.6 69.2,321.9 68.7,321.9 68.2,321.6 67.7,321.0 67.5,320.5 67.1,319.5 66.8,318.0 66.5,314.5 66.4,312.5 66.5,310.5 66.8,308.5 67.1,307.5 67.7,306.1 68.2,305.5 68.7,305.1 69.2,305.1 69.7,305.4 70.2,305.8 70.7,306.6 71.1,307.5 71.5,308.5 72.0,310.0 72.2,312.0 72.0,315.5 71.6,318.0 70.8,320.0 70.2,321.0 69.7,321.6 M129.2,328.1 128.2,328.4 126.7,328.3 122.7,327.0 120.7,326.5 119.7,326.5 116.7,326.8 115.2,326.6 114.2,326.2 113.1,325.5 112.3,324.5 111.3,323.0 110.7,322.5 109.7,322.0 108.2,321.4 107.2,321.2 106.7,321.1 106.2,321.3 105.8,321.5 105.3,323.0 104.7,324.0 104.2,324.5 103.6,325.0 102.2,325.6 99.7,326.2 97.2,326.4 95.2,326.3 93.2,325.8 89.2,324.1 84.6,322.5 83.6,322.0 81.7,320.6 80.7,320.2 78.7,319.6 77.8,319.0 77.2,318.3 76.7,317.6 75.7,315.4 75.3,314.0 75.1,313.0 75.2,311.5 75.6,310.5 76.4,309.5 77.7,308.5 79.2,307.7 80.2,307.4 81.2,307.2 82.7,307.2 85.2,307.2 87.2,307.0 88.7,306.5 93.7,304.4 95.7,303.8 97.2,303.6 99.2,303.7 106.2,304.8 109.7,305.2 110.2,305.2 110.7,305.0 112.7,304.0 114.2,303.4 115.7,303.0 117.7,302.8 119.7,302.9 122.2,303.1 125.7,303.8 128.7,304.8 132.7,306.9 134.2,307.5 136.3,308.0 141.2,308.8 142.7,309.4 143.5,310.0 144.2,310.7 144.8,311.5 145.2,312.5 145.4,313.5 145.4,314.0 145.2,315.0 144.7,316.0 144.2,316.8 143.2,317.8 140.7,319.7 138.7,322.0 137.7,322.9 136.7,323.5 134.2,324.6 133.2,325.1 132.2,325.8 130.2,327.5 129.2,328.1 M69.7,321.1 69.2,321.4 68.7,321.4 68.2,321.1 67.7,320.4 67.3,319.5 67.0,318.5 66.7,315.5 66.6,311.5 67.0,308.5 67.3,307.5 67.7,306.5 68.2,305.8 68.7,305.5 69.2,305.5 69.7,305.8 70.2,306.3 70.7,307.0 71.4,309.0 71.8,311.5 71.8,314.0 71.4,317.5 70.8,319.5 70.2,320.5 69.7,321.1 M128.2,327.1 127.2,327.2 126.2,327.1 124.7,326.6 121.9,325.5 120.7,325.2 119.7,325.1 116.7,325.7 115.7,325.7 115.2,325.5 114.3,325.0 113.7,324.5 112.8,323.0 112.3,322.5 111.7,322.1 107.7,320.3 106.7,319.9 106.2,319.9 105.7,320.0 105.2,320.4 104.7,321.0 104.4,321.5 103.9,323.0 103.6,323.5 102.7,324.4 101.7,324.8 99.7,325.4 97.2,325.8 95.2,325.7 93.7,325.4 92.2,324.8 89.7,323.5 85.7,321.8 84.4,321.0 83.2,319.7 82.7,319.3 82.2,319.0 79.7,318.5 78.6,318.0 77.6,317.0 76.8,315.5 76.3,314.5 76.0,313.0 76.0,312.0 76.1,311.5 76.6,310.5 77.2,309.8 78.3,309.0 79.7,308.2 80.7,307.9 81.7,307.8 85.7,307.8 87.2,307.6 89.2,306.9 93.7,304.8 95.7,304.2 97.7,303.9 100.2,304.2 106.7,305.3 108.2,305.7 109.2,306.1 109.7,306.2 110.2,306.2 110.7,306.0 112.8,304.5 114.2,303.8 116.2,303.3 118.2,303.1 120.2,303.2 122.2,303.4 124.2,303.7 126.2,304.3 128.7,305.2 132.7,307.5 133.7,307.9 135.7,308.4 139.2,309.0 140.7,309.3 141.7,309.7 142.9,310.5 143.7,311.5 144.2,312.5 144.3,313.0 144.3,313.5 144.2,314.2 143.8,315.0 143.4,315.5 142.7,316.2 140.6,317.5 139.7,318.1 138.9,319.0 137.3,321.0 136.2,322.0 132.7,324.1 129.7,326.4 129.2,326.7 128.2,327.1 M69.7,320.6 69.2,320.9 68.7,321.0 68.2,320.7 67.7,320.0 67.2,318.4 66.9,316.0 66.8,312.0 66.8,310.5 67.0,309.0 67.3,308.0 67.7,306.9 68.2,306.2 68.7,305.9 69.2,305.9 69.7,306.1 70.4,307.0 71.1,308.5 71.4,310.0 71.5,311.0 71.5,314.5 71.2,317.5 70.9,318.5 70.5,319.5 69.7,320.6 M128.2,326.2 127.2,326.3 125.7,326.1 124.7,325.8 121.7,324.5 120.2,324.2 118.7,324.3 116.7,324.6 115.7,324.5 115.2,324.3 114.7,323.9 113.5,322.5 112.7,321.8 109.7,320.5 107.2,319.1 106.2,318.9 105.7,319.0 105.2,319.1 104.7,319.5 103.9,320.5 102.7,323.0 102.2,323.5 101.4,324.0 99.2,324.8 97.2,325.1 95.7,325.2 94.2,324.9 92.7,324.3 90.2,323.0 87.2,321.7 86.2,321.1 85.5,320.5 85.1,320.0 84.2,318.3 83.7,317.9 83.2,317.7 80.2,317.3 79.2,316.8 78.2,315.8 77.7,315.0 77.2,314.0 76.9,313.0 76.9,312.5 77.0,311.5 77.7,310.5 78.2,310.0 79.7,309.0 80.7,308.6 82.2,308.3 85.7,308.4 87.2,308.2 88.7,307.7 93.7,305.2 95.2,304.6 96.2,304.4 97.7,304.2 99.2,304.3 104.7,305.3 106.7,305.8 107.7,306.2 109.2,306.9 109.7,307.0 110.2,307.0 110.7,306.9 111.2,306.6 113.0,305.0 114.2,304.3 115.2,303.9 116.2,303.6 118.2,303.4 120.2,303.5 122.2,303.7 124.2,304.1 125.7,304.4 127.2,305.0 128.7,305.7 132.2,307.9 133.2,308.4 134.7,308.8 138.7,309.4 140.2,309.8 141.2,310.2 142.2,310.9 142.7,311.5 143.1,312.5 143.2,313.5 143.0,314.0 142.7,314.5 141.7,315.4 139.1,317.0 137.8,318.0 135.7,320.5 134.7,321.4 132.2,323.2 129.7,325.4 129.2,325.7 128.2,326.2 M69.2,320.5 68.7,320.6 68.2,320.2 67.7,319.4 67.4,318.5 67.0,316.0 66.9,312.5 67.0,310.0 67.4,308.0 67.7,307.3 68.2,306.5 68.7,306.2 69.2,306.2 69.7,306.5 70.2,307.0 70.9,308.5 71.3,310.5 71.4,312.0 71.1,316.0 70.8,318.0 70.2,319.5 69.7,320.2 69.2,320.5 M127.2,325.5 125.7,325.4 122.2,324.1 120.2,323.6 119.2,323.5 117.2,323.6 116.2,323.5 115.7,323.3 115.2,322.9 114.3,322.0 113.6,321.5 112.5,321.0 110.2,320.2 109.2,319.6 107.2,318.3 106.2,318.0 105.2,318.2 104.6,318.5 104.0,319.0 103.3,320.0 102.5,321.5 101.9,322.5 101.4,323.0 100.6,323.5 98.7,324.2 97.2,324.5 95.7,324.6 94.2,324.3 93.2,323.9 90.7,322.5 88.2,321.4 86.8,320.5 86.3,320.0 86.0,319.5 85.8,319.0 85.5,317.5 85.2,316.7 84.7,316.5 82.2,316.6 81.2,316.5 80.2,316.1 79.7,315.8 78.9,315.0 78.3,314.0 78.0,313.0 78.0,312.0 78.1,311.5 78.9,310.5 79.7,309.8 80.7,309.3 81.7,308.9 82.7,308.8 85.7,309.0 87.2,308.8 88.7,308.2 94.2,305.3 96.2,304.7 97.7,304.5 99.2,304.6 105.2,305.8 106.7,306.2 109.2,307.6 109.7,307.7 110.2,307.8 110.7,307.7 111.2,307.4 113.0,305.5 113.7,305.0 114.6,304.5 116.2,303.9 118.2,303.7 119.7,303.8 121.7,303.9 123.7,304.2 125.7,304.7 127.2,305.3 128.6,306.0 129.7,306.7 132.2,308.4 133.2,309.0 134.7,309.4 139.2,310.1 140.4,310.5 141.2,311.0 141.6,311.5 141.9,312.0 142.1,312.5 142.1,313.0 141.9,313.5 141.7,313.9 141.2,314.5 140.2,315.2 136.9,317.0 136.2,317.5 134.2,320.2 131.7,322.4 129.7,324.4 128.7,325.1 128.2,325.3 127.2,325.5 M69.2,320.2 68.7,320.2 68.2,319.8 67.7,319.0 67.6,318.5 67.2,316.0 67.0,312.5 67.2,310.0 67.6,308.0 68.2,306.9 68.7,306.5 69.2,306.5 69.7,306.8 69.9,307.0 70.3,307.5 70.7,308.5 71.0,310.0 71.1,312.0 71.0,316.0 70.7,317.5 70.2,319.1 69.7,319.8 69.2,320.2 M128.2,324.5 127.2,324.8 126.7,324.9 125.7,324.8 121.2,323.3 119.7,323.0 116.7,322.5 116.2,322.3 114.2,321.0 111.2,320.0 110.2,319.6 107.2,317.5 106.2,317.2 105.7,317.2 104.7,317.5 103.9,318.0 103.3,318.5 102.7,319.2 101.8,321.0 101.2,321.8 100.5,322.5 99.7,323.0 98.7,323.5 97.2,323.9 95.7,324.0 94.7,323.9 93.7,323.5 91.1,322.0 88.7,320.9 88.0,320.5 87.4,320.0 87.0,319.5 86.7,318.5 86.7,317.5 87.0,315.0 86.9,314.5 86.7,314.2 86.2,314.2 84.2,315.2 83.2,315.6 82.2,315.7 81.2,315.5 80.2,315.0 79.4,314.0 79.0,313.0 79.0,312.0 79.2,311.5 79.7,310.8 80.7,310.0 81.2,309.7 82.1,309.5 82.7,309.4 83.7,309.5 85.7,309.7 86.7,309.7 87.2,309.6 88.2,309.1 91.6,307.0 93.7,305.9 95.2,305.2 96.7,304.8 97.7,304.8 99.2,304.9 105.2,306.2 106.7,306.7 109.2,308.2 109.7,308.4 110.2,308.4 110.7,308.3 111.2,308.1 111.7,307.7 113.2,306.0 114.2,305.1 115.2,304.6 116.2,304.3 117.7,304.0 120.2,304.0 122.7,304.3 124.7,304.7 126.7,305.4 128.2,306.1 129.6,307.0 132.2,309.0 133.2,309.6 134.7,310.0 138.2,310.5 139.7,310.9 140.5,311.5 140.8,312.0 141.0,312.5 140.9,313.0 140.7,313.5 140.3,314.0 139.6,314.5 138.2,315.2 135.8,316.0 135.2,316.3 134.7,316.9 133.9,318.5 133.2,319.6 131.2,321.6 129.5,323.5 129.0,324.0 128.2,324.5 M69.2,319.8 68.7,319.8 68.2,319.4 67.6,318.0 67.3,315.5 67.2,312.0 67.3,310.0 67.7,308.1 68.2,307.2 68.7,306.8 69.2,306.8 69.7,307.1 70.0,307.5 70.5,308.5 70.9,310.0 71.0,311.5 70.8,315.5 70.5,317.5 70.2,318.5 70.0,319.0 69.7,319.4 69.2,319.8 M127.2,324.1 126.2,324.2 125.2,324.1 122.2,323.1 117.7,322.0 116.7,321.5 115.0,320.5 114.2,320.3 111.7,319.7 110.7,319.4 109.7,318.8 107.2,316.8 106.2,316.4 105.7,316.5 104.7,316.7 103.1,317.5 102.4,318.0 101.9,318.5 101.6,319.0 100.9,320.5 100.5,321.0 99.7,321.8 98.8,322.5 97.9,323.0 96.7,323.3 95.7,323.4 94.7,323.2 93.7,322.8 91.2,321.3 89.2,320.4 88.5,320.0 88.0,319.5 87.7,319.0 87.5,318.5 87.5,317.5 88.2,314.5 88.3,313.5 88.2,312.9 88.0,312.5 87.7,311.9 87.2,311.5 87.3,311.0 89.4,309.0 91.4,307.5 93.1,306.5 94.7,305.7 95.7,305.3 96.7,305.1 97.7,305.0 99.2,305.2 101.7,305.8 105.2,306.5 106.7,307.2 108.7,308.6 109.2,308.8 110.2,309.0 111.2,308.7 111.7,308.4 112.2,307.9 113.7,306.0 114.2,305.6 115.1,305.0 116.2,304.6 117.7,304.3 120.2,304.3 122.7,304.6 125.2,305.1 126.7,305.7 128.2,306.5 129.6,307.5 132.2,309.7 133.2,310.3 134.7,310.7 137.2,311.0 138.2,311.2 139.2,311.7 139.5,312.0 139.7,312.5 139.7,313.0 139.3,313.5 138.6,314.0 137.7,314.4 135.7,314.6 135.2,314.8 134.7,315.0 134.2,315.5 133.9,316.0 133.1,318.0 132.2,319.3 130.6,321.0 129.5,322.5 128.7,323.3 128.2,323.7 127.2,324.1 M69.7,319.0 69.2,319.4 68.7,319.4 68.2,319.0 67.7,317.6 67.5,316.0 67.3,312.5 67.4,310.0 67.6,309.0 67.9,308.0 68.2,307.5 68.7,307.1 69.2,307.0 69.7,307.4 70.1,308.0 70.5,309.0 70.8,310.5 70.8,312.5 70.5,316.5 70.2,318.0 69.7,319.0 M83.2,314.6 82.2,314.7 81.7,314.6 81.2,314.5 80.6,314.0 80.2,313.3 80.0,312.5 80.1,312.0 80.3,311.5 80.6,311.0 81.2,310.6 81.7,310.3 82.7,310.1 84.2,310.3 85.0,310.5 86.2,311.0 86.6,311.5 86.2,312.0 84.7,313.6 84.2,314.0 83.2,314.6 M126.7,323.6 125.2,323.5 120.7,322.3 118.2,321.5 115.5,320.0 114.7,319.8 112.2,319.4 111.2,319.1 109.7,318.2 107.7,316.4 107.2,316.0 106.7,315.8 106.2,315.7 105.7,315.7 104.7,316.0 100.8,317.5 100.2,318.0 99.2,320.5 98.3,321.5 97.7,322.0 96.7,322.4 95.7,322.6 94.7,322.4 92.2,321.0 89.7,320.0 89.0,319.5 88.7,319.2 88.3,318.5 88.2,318.0 88.3,317.0 89.1,313.0 89.0,311.0 89.2,310.5 89.4,310.0 90.2,309.0 92.0,307.5 94.7,306.0 95.7,305.6 96.7,305.3 97.7,305.3 99.2,305.5 101.7,306.2 105.2,306.9 106.7,307.6 108.7,309.1 109.7,309.4 110.7,309.3 111.7,308.9 112.7,308.0 113.8,306.5 114.3,306.0 115.2,305.3 116.7,304.8 118.7,304.5 121.2,304.6 123.2,304.9 125.5,305.5 127.2,306.3 128.7,307.2 129.7,308.0 132.2,310.4 133.7,311.5 134.7,311.9 136.7,312.1 137.5,312.5 137.2,313.0 136.2,313.1 135.2,313.1 134.7,313.2 134.2,313.7 133.7,314.3 133.3,315.0 132.4,317.5 131.7,318.7 128.2,322.8 127.7,323.2 126.7,323.6 M69.2,319.0 68.7,319.0 68.2,318.5 67.9,317.5 67.6,315.5 67.4,312.0 67.5,310.0 67.7,309.0 67.9,308.5 68.2,307.8 68.5,307.5 68.7,307.3 69.2,307.3 69.7,307.7 70.2,308.5 70.6,310.0 70.7,311.5 70.5,315.5 70.3,317.0 69.7,318.5 69.2,319.0 M83.2,313.2 82.7,313.4 82.2,313.4 81.7,313.2 81.5,313.0 81.3,312.5 81.4,312.0 81.7,311.5 82.2,311.2 82.7,311.1 83.2,311.2 83.9,311.5 84.0,312.0 83.9,312.5 83.2,313.2 M127.2,322.5 126.7,322.8 125.7,322.9 124.2,322.7 122.2,322.3 120.7,321.9 119.2,321.4 118.2,320.9 116.7,319.9 115.8,319.5 114.7,319.3 112.7,319.1 111.7,318.9 110.7,318.4 110.1,318.0 107.7,315.7 107.2,315.3 106.7,315.0 106.2,314.9 105.2,315.0 103.2,315.8 100.2,316.6 99.6,317.0 99.1,317.5 97.9,320.0 97.2,320.8 96.7,321.2 96.2,321.4 95.7,321.4 94.7,321.3 90.3,319.5 89.5,319.0 89.1,318.5 88.9,318.0 88.9,317.0 89.0,316.0 89.8,313.0 90.0,310.5 90.4,309.5 90.8,309.0 91.9,308.0 92.6,307.5 94.7,306.3 95.7,305.8 96.7,305.6 97.7,305.5 98.7,305.6 101.7,306.6 105.2,307.3 106.5,308.0 108.3,309.5 109.2,309.8 109.7,309.9 110.2,309.8 111.2,309.6 112.2,309.0 112.8,308.5 114.2,306.7 114.7,306.1 115.6,305.5 116.7,305.1 118.2,304.8 120.7,304.8 123.2,305.1 125.2,305.7 126.7,306.3 127.7,306.9 128.7,307.6 129.7,308.5 132.4,311.5 132.9,312.5 133.0,313.0 132.8,314.0 132.1,316.5 131.4,318.0 130.6,319.0 128.2,321.7 127.2,322.5 M69.2,318.6 68.7,318.6 68.2,318.0 68.1,317.5 67.7,315.5 67.6,312.0 67.7,310.0 68.0,308.5 68.2,308.1 68.7,307.6 69.2,307.6 69.7,308.0 70.2,309.0 70.4,310.0 70.5,311.5 70.2,316.5 69.7,318.0 69.2,318.6 M126.2,322.1 125.2,322.3 124.2,322.3 121.7,321.8 120.6,321.5 119.4,321.0 117.0,319.5 116.2,319.1 115.2,318.9 112.7,318.7 111.7,318.5 110.7,318.0 110.0,317.5 107.7,314.9 107.2,314.5 106.7,314.2 106.2,314.1 105.2,314.3 103.2,315.1 100.7,315.7 99.7,316.1 99.2,316.4 98.7,316.9 97.2,319.3 96.7,319.8 96.2,320.2 95.7,320.3 94.7,320.4 92.2,319.7 91.2,319.3 90.2,318.7 89.7,318.1 89.5,317.5 89.4,317.0 89.5,316.0 90.3,313.0 90.5,311.0 90.8,310.0 91.4,309.0 91.8,308.5 93.1,307.5 95.2,306.3 96.7,305.9 97.7,305.8 98.7,305.9 101.7,307.0 104.2,307.5 105.2,307.8 106.4,308.5 108.2,310.1 108.7,310.3 109.2,310.3 109.7,310.3 110.7,310.1 112.2,309.4 113.3,308.5 114.9,306.5 115.7,305.9 116.7,305.4 118.7,305.1 120.7,305.1 122.7,305.3 124.7,305.8 126.2,306.4 127.2,306.9 128.2,307.6 129.2,308.5 130.2,309.5 131.3,311.0 131.8,312.0 132.1,313.0 132.1,314.0 131.7,316.0 131.3,317.0 130.7,318.0 129.9,319.0 127.7,321.2 126.7,321.9 126.2,322.1 M69.2,318.2 68.7,318.1 68.3,317.5 68.1,317.0 67.8,314.5 67.7,311.5 67.8,310.0 68.2,308.5 68.7,307.9 69.2,307.9 69.7,308.4 70.0,309.0 70.3,310.0 70.4,311.5 70.2,314.3 70.0,316.5 69.7,317.5 69.2,318.2 M125.7,321.6 124.7,321.8 123.7,321.8 121.7,321.4 120.7,321.1 119.7,320.7 117.2,319.0 116.7,318.8 115.7,318.5 112.7,318.4 111.7,318.1 110.7,317.6 110.0,317.0 109.2,316.0 107.7,314.0 107.2,313.5 106.7,313.3 106.2,313.3 105.2,313.5 102.7,314.5 100.7,315.1 99.6,315.5 98.8,316.0 98.3,316.5 96.7,318.8 96.2,319.2 95.7,319.4 95.2,319.6 94.2,319.6 92.2,319.1 91.2,318.7 90.7,318.3 90.2,317.7 89.9,317.0 89.9,316.5 90.0,315.5 90.8,313.0 91.1,311.0 91.3,310.0 91.9,309.0 92.3,308.5 93.5,307.5 95.2,306.6 96.7,306.1 97.7,306.1 98.7,306.2 101.7,307.5 104.7,308.1 105.6,308.5 106.2,308.9 107.7,310.5 108.2,310.8 108.7,310.9 109.7,310.8 110.7,310.5 111.7,310.1 112.7,309.5 113.8,308.5 115.0,307.0 115.5,306.5 116.2,306.0 117.2,305.6 118.7,305.4 120.7,305.3 122.7,305.5 124.7,306.0 125.9,306.5 127.2,307.3 128.2,308.0 129.3,309.0 130.1,310.0 131.0,311.5 131.4,312.5 131.5,313.5 131.4,314.5 131.1,316.0 130.7,317.0 130.2,317.9 129.2,319.0 127.2,320.8 126.2,321.4 125.7,321.6 M69.2,317.7 68.7,317.6 68.2,316.3 67.9,313.5 67.8,311.5 67.9,310.0 68.2,309.0 68.7,308.3 69.2,308.2 69.7,308.8 70.0,309.5 70.2,310.5 70.2,311.5 69.7,316.5 69.6,317.0 69.2,317.7 M125.2,321.1 123.7,321.3 122.7,321.2 121.7,321.1 120.2,320.5 119.4,320.0 117.7,318.8 116.7,318.3 115.7,318.1 113.7,318.1 112.7,318.1 111.7,317.8 111.2,317.5 110.0,316.5 108.9,315.0 107.9,313.0 107.8,312.5 107.9,312.0 108.9,311.5 111.2,310.6 112.7,309.9 113.9,309.0 115.7,306.9 116.2,306.5 117.3,306.0 118.2,305.8 119.7,305.6 122.2,305.7 124.2,306.1 126.2,307.0 127.2,307.6 128.3,308.5 129.2,309.5 129.9,310.5 130.4,311.5 130.8,312.5 130.9,313.5 130.9,314.5 130.8,315.5 130.4,316.5 129.9,317.5 129.5,318.0 128.7,318.8 127.2,320.1 126.2,320.7 125.2,321.1 M94.7,319.0 93.2,318.9 91.7,318.4 91.1,318.0 90.7,317.5 90.5,317.0 90.4,316.5 90.5,315.5 91.3,312.5 91.8,310.0 92.3,309.0 93.3,308.0 94.7,307.1 95.7,306.6 96.7,306.4 97.7,306.3 99.2,306.7 101.2,307.7 102.2,308.1 104.7,308.6 105.4,309.0 105.9,309.5 106.3,310.0 106.9,311.0 107.0,311.5 106.7,312.0 102.7,313.9 100.2,314.7 99.2,315.2 98.1,316.0 96.7,317.9 96.2,318.4 95.7,318.7 94.7,319.0 M69.2,317.0 68.7,316.9 68.4,316.0 68.2,314.7 68.0,311.5 68.2,309.5 68.7,308.6 69.2,308.6 69.6,309.0 69.8,309.5 70.0,310.5 70.0,311.5 69.7,315.3 69.2,317.0 M125.2,320.6 123.7,320.9 122.7,320.8 121.7,320.6 120.2,320.0 118.2,318.5 117.2,318.0 116.2,317.8 113.2,317.8 112.2,317.6 111.7,317.4 111.1,317.0 110.5,316.5 109.4,315.0 108.8,313.5 108.8,313.0 108.9,312.5 109.3,312.0 110.0,311.5 112.2,310.5 113.8,309.5 114.5,309.0 116.3,307.0 117.1,306.5 117.7,306.3 118.7,306.0 119.7,305.9 121.7,305.9 123.7,306.2 125.7,307.0 126.7,307.6 127.9,308.5 129.2,310.0 129.7,311.0 130.1,312.0 130.4,313.0 130.4,314.0 130.4,315.0 130.1,316.0 129.7,317.0 129.3,317.5 128.4,318.5 127.2,319.4 126.2,320.1 125.2,320.6 M95.7,318.1 95.2,318.3 94.2,318.5 92.7,318.3 92.1,318.0 91.4,317.5 91.0,317.0 90.9,316.5 90.9,315.5 91.8,312.5 92.2,310.0 92.8,309.0 93.8,308.0 95.2,307.1 96.2,306.7 97.2,306.6 98.2,306.7 99.2,307.0 102.2,308.7 103.7,309.0 104.7,309.4 105.3,310.0 105.6,310.5 105.6,311.0 105.2,311.6 104.6,312.0 102.9,313.0 98.7,315.0 97.7,315.8 96.4,317.5 95.7,318.1 M69.2,315.9 68.7,315.7 68.2,312.9 68.1,311.5 68.2,310.4 68.5,309.5 68.7,309.0 69.2,309.0 69.7,309.8 69.9,311.5 69.7,313.6 69.2,315.9 M124.7,320.2 123.7,320.4 122.7,320.4 121.2,320.0 120.2,319.5 118.2,317.9 117.2,317.5 116.2,317.4 113.2,317.5 112.2,317.3 111.7,317.0 110.7,316.3 109.8,315.0 109.4,314.0 109.3,313.5 109.3,313.0 109.5,312.5 110.0,312.0 110.8,311.5 114.6,309.5 115.2,309.0 116.7,307.4 117.3,307.0 118.2,306.6 119.7,306.3 121.7,306.2 123.7,306.5 125.2,307.0 126.2,307.6 127.4,308.5 127.9,309.0 128.7,310.0 129.3,311.0 129.8,312.5 129.9,313.5 129.9,314.5 129.7,316.0 129.2,316.9 128.7,317.6 127.7,318.5 126.7,319.2 125.7,319.8 124.7,320.2 M95.2,317.8 94.2,318.0 93.2,317.9 92.7,317.8 92.2,317.5 91.7,317.0 91.4,316.5 91.3,316.0 91.4,315.0 92.2,312.5 92.6,310.0 93.2,309.0 93.7,308.5 95.0,307.5 96.2,307.0 97.2,306.8 98.2,307.0 99.5,307.5 101.7,309.1 103.4,310.0 103.7,310.3 103.8,310.5 103.8,311.0 102.8,312.0 101.6,313.0 98.8,314.5 98.0,315.0 97.5,315.5 96.2,317.0 95.2,317.8 M69.2,314.3 68.7,314.1 68.3,311.5 68.4,310.5 68.7,309.5 69.2,309.4 69.6,310.5 69.7,311.5 69.6,312.5 69.2,314.3 M124.7,319.6 123.2,319.9 122.2,319.9 121.7,319.7 121.1,319.5 120.3,319.0 118.2,317.3 117.2,317.0 116.2,316.9 113.7,317.2 112.7,317.1 112.2,316.9 111.2,316.3 110.7,315.8 110.2,315.0 109.8,314.0 109.8,313.5 109.9,313.0 110.2,312.4 110.6,312.0 111.2,311.6 116.2,309.2 116.7,308.8 117.8,307.5 118.7,307.0 120.2,306.6 121.7,306.5 123.2,306.6 124.7,307.1 125.7,307.6 126.9,308.5 127.7,309.2 128.3,310.0 128.8,311.0 129.2,312.0 129.4,313.0 129.5,314.0 129.3,315.5 128.9,316.5 128.6,317.0 128.2,317.5 127.2,318.3 125.7,319.2 124.7,319.6 M95.2,317.2 94.2,317.5 93.2,317.4 92.4,317.0 92.0,316.5 91.8,316.0 91.9,315.0 92.6,312.5 92.9,310.5 93.3,309.5 93.6,309.0 94.7,308.0 95.7,307.4 96.7,307.2 97.7,307.1 98.2,307.2 98.9,307.5 99.7,308.0 101.3,309.5 102.0,310.5 102.1,311.0 101.9,311.5 101.2,312.5 100.6,313.0 97.7,314.8 95.7,316.8 95.2,317.2 M69.2,312.8 68.7,312.6 68.6,311.5 68.7,310.3 69.2,310.1 69.4,311.0 69.4,311.5 69.2,312.8 M124.7,319.0 123.2,319.4 122.2,319.3 121.7,319.2 120.7,318.6 118.7,316.9 117.7,316.5 116.7,316.5 114.7,316.8 113.7,316.9 112.7,316.8 112.2,316.6 111.4,316.0 110.6,315.0 110.2,314.0 110.2,313.5 110.3,313.0 110.7,312.4 111.7,311.7 113.2,311.0 114.7,310.5 115.7,310.3 116.2,310.3 117.7,310.9 118.2,310.9 118.5,310.5 118.6,310.0 118.6,308.5 118.7,308.0 119.2,307.5 120.2,307.0 121.2,306.8 122.2,306.8 123.5,307.0 124.7,307.4 125.7,308.0 126.5,308.5 127.2,309.2 127.8,310.0 128.3,311.0 128.7,312.0 129.0,314.0 128.8,315.5 128.4,316.5 128.0,317.0 126.7,318.0 124.7,319.0 M95.2,316.6 94.7,316.8 94.2,316.9 93.7,316.9 93.2,316.8 92.7,316.5 92.4,316.0 92.3,315.5 92.3,315.0 92.9,313.0 93.2,311.0 93.4,310.0 94.0,309.0 94.5,308.5 95.2,308.0 96.2,307.5 96.7,307.4 97.7,307.4 98.2,307.5 99.1,308.0 99.7,308.4 100.7,309.5 101.2,310.5 101.2,311.0 101.1,311.5 100.8,312.0 100.4,312.5 99.8,313.0 97.4,314.5 95.2,316.6 M124.2,318.6 123.2,318.7 122.7,318.7 121.7,318.5 121.0,318.0 119.2,316.3 118.2,315.8 117.2,315.8 115.2,316.4 114.2,316.5 113.2,316.5 112.7,316.4 111.7,315.9 111.0,315.0 110.6,314.0 110.6,313.5 110.8,313.0 111.2,312.5 112.2,311.8 113.7,311.1 114.7,310.9 115.7,311.0 116.2,311.2 117.7,312.2 118.2,312.3 118.7,312.2 119.2,311.8 119.5,311.0 119.6,308.5 119.8,308.0 120.2,307.6 121.2,307.2 122.2,307.1 123.2,307.2 124.2,307.5 125.2,308.0 126.0,308.5 126.7,309.2 127.4,310.0 127.9,311.0 128.2,312.0 128.4,314.0 128.3,315.5 127.7,316.5 127.2,317.0 126.2,317.7 124.2,318.6 M94.7,316.2 94.2,316.3 93.7,316.2 93.2,316.0 93.0,315.5 93.0,314.5 93.3,313.0 93.6,311.0 93.8,310.0 94.4,309.0 95.0,308.5 95.7,308.0 96.7,307.7 97.2,307.7 98.2,307.9 99.3,308.5 100.1,309.5 100.6,310.5 100.6,311.0 100.5,311.5 100.2,312.0 99.7,312.5 96.8,314.5 95.2,315.9 94.7,316.2" fill="none" stroke="#000" stroke-width="0.92"/>
</g>
<rect x="70" y="300" width="2.6" height="26" fill="#333"/>
<rect x="97" y="336.6" width="54" height="1.9" fill="#222"/>
<rect x="70.8" y="324.8" width="26.1" height="14.0" fill="#fff"/>
<rect x="176.3" y="324.8" width="25.9" height="14.0" fill="#fff"/>
<path d="M113.8,203.5 V338 M69.2,295.3 H203" stroke="#161616" stroke-width="0.85" fill="none"/>
<path d="M69.2,338 v3.4 M79.3,338 v1.9 M85.2,338 v1.9 M89.3,338 v1.9 M92.6,338 v1.9 M95.2,338 v1.9 M97.5,338 v1.9 M99.4,338 v1.9 M101.1,338 v1.9 M102.7,338 v3.4 M112.7,338 v1.9 M118.6,338 v1.9 M122.8,338 v1.9 M126.0,338 v1.9 M128.7,338 v1.9 M130.9,338 v1.9 M132.9,338 v1.9 M134.6,338 v1.9 M136.1,338 v3.4 M146.2,338 v1.9 M152.1,338 v1.9 M156.2,338 v1.9 M159.5,338 v1.9 M162.1,338 v1.9 M164.4,338 v1.9 M166.3,338 v1.9 M168.0,338 v1.9 M169.6,338 v3.4 M179.6,338 v1.9 M185.5,338 v1.9 M189.7,338 v1.9 M192.9,338 v1.9 M195.6,338 v1.9 M197.8,338 v1.9 M199.8,338 v1.9 M201.5,338 v1.9 M203.0,338 v3.4 M69.2,338.0 h-3.4 M69.2,327.9 h-1.9 M69.2,322.0 h-1.9 M69.2,317.8 h-1.9 M69.2,314.5 h-1.9 M69.2,311.8 h-1.9 M69.2,309.6 h-1.9 M69.2,307.6 h-1.9 M69.2,305.9 h-1.9 M69.2,304.4 h-3.4 M69.2,294.3 h-1.9 M69.2,288.3 h-1.9 M69.2,284.1 h-1.9 M69.2,280.9 h-1.9 M69.2,278.2 h-1.9 M69.2,276.0 h-1.9 M69.2,274.0 h-1.9 M69.2,272.3 h-1.9 M69.2,270.8 h-3.4 M69.2,260.6 h-1.9 M69.2,254.7 h-1.9 M69.2,250.5 h-1.9 M69.2,247.2 h-1.9 M69.2,244.6 h-1.9 M69.2,242.3 h-1.9 M69.2,240.4 h-1.9 M69.2,238.7 h-1.9 M69.2,237.1 h-3.4 M69.2,227.0 h-1.9 M69.2,221.1 h-1.9 M69.2,216.9 h-1.9 M69.2,213.6 h-1.9 M69.2,211.0 h-1.9 M69.2,208.7 h-1.9 M69.2,206.8 h-1.9 M69.2,205.0 h-1.9 M69.2,203.5 h-3.4" stroke="#1a1a1a" stroke-width="0.75" fill="none"/>
<text x="68.6" y="351.4" font-size="6.5" fill="#2a2a2a" text-anchor="middle">10<tspan dy="-2.4" font-size="4.9">0</tspan></text>
<text x="63.0" y="341.0" font-size="6.5" fill="#2a2a2a" text-anchor="end">10<tspan dy="-2.4" font-size="4.9">0</tspan></text>
<text x="102.1" y="351.4" font-size="6.5" fill="#2a2a2a" text-anchor="middle">10<tspan dy="-2.4" font-size="4.9">1</tspan></text>
<text x="63.0" y="307.4" font-size="6.5" fill="#2a2a2a" text-anchor="end">10<tspan dy="-2.4" font-size="4.9">1</tspan></text>
<text x="135.5" y="351.4" font-size="6.5" fill="#2a2a2a" text-anchor="middle">10<tspan dy="-2.4" font-size="4.9">2</tspan></text>
<text x="63.0" y="273.8" font-size="6.5" fill="#2a2a2a" text-anchor="end">10<tspan dy="-2.4" font-size="4.9">2</tspan></text>
<text x="169.0" y="351.4" font-size="6.5" fill="#2a2a2a" text-anchor="middle">10<tspan dy="-2.4" font-size="4.9">3</tspan></text>
<text x="63.0" y="240.1" font-size="6.5" fill="#2a2a2a" text-anchor="end">10<tspan dy="-2.4" font-size="4.9">3</tspan></text>
<text x="202.4" y="351.4" font-size="6.5" fill="#2a2a2a" text-anchor="middle">10<tspan dy="-2.4" font-size="4.9">4</tspan></text>
<text x="63.0" y="206.5" font-size="6.5" fill="#2a2a2a" text-anchor="end">10<tspan dy="-2.4" font-size="4.9">4</tspan></text>
<text x="70.60000000000001" y="217.1" font-size="12.5" font-weight="bold" text-anchor="start" fill="#000" >0.39</text>
<text x="202.2" y="217.1" font-size="12.5" font-weight="bold" text-anchor="end" fill="#000" >1.24</text>
<text x="71.8" y="336.6" font-size="12.5" font-weight="bold" text-anchor="start" fill="#000" >53.1</text>
<text x="202.2" y="336.6" font-size="12.5" font-weight="bold" text-anchor="end" fill="#000" >45.3</text>
</g>
<g>
<clipPath id="cp5"><rect x="223.5" y="203.5" width="134.5" height="134.5"/></clipPath>
<rect x="223.5" y="203.5" width="134.5" height="134.5" fill="none" stroke="#1a1a1a" stroke-width="1"/>
<g clip-path="url(#cp5)">
<path d="M244.4,344.0 240.1,337.5 238.9,335.5 237.8,333.5 237.0,331.5 235.8,328.0 235.0,325.5 234.5,323.5 234.1,321.0 233.7,317.5 233.6,315.0 233.7,313.0 234.1,311.5 234.7,310.0 235.6,308.5 236.8,307.0 238.2,305.5 240.0,304.0 242.0,302.7 244.0,301.6 247.0,300.2 250.5,298.9 253.5,297.9 255.5,297.4 259.0,296.9 263.0,296.6 286.5,296.1 294.0,296.3 298.0,296.7 300.5,297.2 302.5,297.7 304.5,298.3 306.5,299.1 309.0,300.3 311.5,301.7 314.5,303.6 317.1,305.5 318.2,306.5 319.7,308.0 321.2,310.0 322.1,311.5 322.7,313.0 323.0,314.5 323.2,317.0 323.2,319.5 323.1,321.0 322.8,323.0 321.7,328.0 321.0,330.5 320.1,333.0 319.4,334.5 318.5,336.0 317.0,338.0 314.0,341.5 312.1,344.0 M224.0,321.0 223.5,320.8 223.0,320.3 222.5,319.5 221.9,318.0 221.5,316.5 221.3,315.0 221.1,312.0 221.3,309.0 221.6,307.5 222.0,306.2 222.5,305.1 223.0,304.3 223.5,303.9 224.0,303.8 224.5,303.9 225.0,304.2 225.2,304.5 225.9,305.5 226.3,306.5 226.9,309.0 227.2,311.0 227.2,312.5 227.2,314.0 227.0,316.0 226.7,317.5 226.3,318.5 225.9,319.5 225.2,320.5 224.5,321.0 224.0,321.0 M255.8,344.0 253.6,341.5 248.3,336.5 246.9,335.0 246.2,334.0 244.2,330.5 241.2,326.5 240.1,324.5 239.5,323.0 239.0,321.0 238.3,317.0 238.2,315.0 238.3,313.5 238.8,312.0 239.4,310.5 240.3,309.0 241.5,307.5 242.5,306.5 244.2,305.0 246.0,303.8 248.5,302.4 252.0,300.7 254.0,299.9 256.0,299.3 259.0,298.8 262.5,298.6 271.0,298.5 278.0,298.2 286.5,298.0 294.0,298.2 296.5,298.4 298.5,298.8 301.0,299.4 302.5,299.8 304.5,300.6 306.5,301.7 308.3,303.0 310.9,305.0 313.2,307.0 314.1,308.0 315.3,309.5 316.1,311.0 316.7,312.5 317.1,314.0 317.4,316.0 317.4,317.5 317.3,319.5 316.9,321.5 315.5,328.0 315.0,329.5 314.4,331.0 313.5,332.5 312.5,334.0 311.5,335.4 310.5,336.5 308.0,338.7 301.5,344.0 M224.0,316.1 223.5,315.7 223.1,314.5 222.9,313.5 222.8,312.0 223.0,310.5 223.2,309.5 223.5,308.8 224.0,308.5 224.5,308.7 225.0,309.8 225.2,311.0 225.3,312.5 225.2,314.0 224.9,315.0 224.5,315.9 224.0,316.1 M265.7,344.0 263.2,342.5 259.5,340.8 254.5,337.6 253.5,336.8 252.7,336.0 251.9,335.0 250.0,331.5 248.6,329.5 246.5,326.8 244.0,324.0 243.4,323.0 242.9,321.5 241.9,316.5 241.8,315.0 241.8,314.0 241.9,313.0 242.3,311.5 243.0,310.0 243.8,308.5 245.0,307.0 246.0,306.0 247.5,304.8 250.0,303.3 253.0,301.7 255.0,300.9 256.5,300.4 259.0,300.0 262.5,299.7 265.0,299.7 270.0,299.8 287.0,299.1 294.0,299.3 296.5,299.6 298.0,299.8 301.0,300.6 302.5,301.1 304.0,301.8 305.1,302.5 306.4,303.5 310.2,307.0 311.6,308.5 312.3,309.5 313.1,311.0 313.4,312.0 313.7,313.5 313.7,315.5 313.5,320.0 313.3,321.5 312.9,323.0 312.0,325.7 309.5,331.5 309.1,332.5 308.4,333.5 307.0,335.0 303.1,338.5 301.5,339.7 300.5,340.3 299.0,340.9 295.9,341.5 294.5,342.0 293.4,342.5 291.2,344.0 M272.4,344.0 271.5,343.6 268.1,341.5 266.0,340.4 264.5,339.8 261.5,339.1 260.0,338.4 256.7,336.0 255.6,335.0 255.2,334.5 253.1,331.0 250.4,327.5 249.3,326.0 247.5,322.3 246.2,320.0 245.6,318.5 245.2,317.0 244.9,315.5 244.8,314.0 244.8,313.0 245.1,311.5 245.4,310.0 246.0,308.5 246.7,307.5 248.1,306.0 249.4,305.0 251.5,303.7 254.0,302.3 255.5,301.7 257.0,301.2 260.0,300.8 264.5,300.6 268.5,300.8 270.0,300.8 274.0,300.6 279.0,300.4 285.0,300.0 288.0,299.9 294.5,300.2 296.5,300.4 300.5,301.4 302.0,301.9 303.3,302.5 304.5,303.3 305.3,304.0 309.5,308.5 310.3,309.5 310.8,310.5 311.1,311.5 311.3,312.5 311.4,313.5 311.2,317.0 311.1,320.0 310.8,322.0 310.1,324.0 307.5,328.5 306.1,332.0 305.4,333.0 302.0,336.6 301.0,337.5 299.5,338.4 298.0,339.0 294.1,340.0 289.5,341.8 288.0,342.1 284.5,342.6 283.2,343.0 281.5,343.7 280.1,344.0 M275.0,342.0 273.5,342.0 272.0,341.5 267.5,338.8 266.0,338.1 265.0,337.8 263.0,337.6 262.0,337.4 261.0,337.0 260.5,336.7 259.7,336.0 258.8,335.0 256.0,331.0 253.5,328.3 252.4,327.0 251.4,325.5 250.8,324.0 250.6,323.0 250.4,320.5 250.0,319.0 249.5,318.0 247.9,316.0 247.5,315.0 247.1,314.0 247.0,312.5 247.3,310.0 247.8,308.5 248.3,307.5 249.2,306.5 250.5,305.4 253.0,303.8 255.0,302.7 256.0,302.3 257.5,301.9 259.0,301.6 261.5,301.3 265.0,301.3 269.5,301.8 274.0,301.4 278.5,301.3 283.0,300.8 286.0,300.6 288.0,300.6 291.0,300.8 294.5,300.9 297.0,301.2 300.5,302.1 302.0,302.7 303.5,303.5 304.6,304.5 306.5,306.9 308.7,309.5 309.5,311.0 309.7,312.0 309.8,313.0 309.7,314.5 309.1,318.0 309.0,321.0 308.7,322.5 308.3,323.5 307.8,324.5 305.8,327.5 304.5,330.5 303.6,332.0 300.0,336.1 298.7,337.0 297.0,337.7 290.5,339.9 288.5,340.4 287.0,340.6 283.5,340.9 280.0,341.5 275.0,342.0 M275.5,340.5 274.0,340.5 273.0,340.3 271.5,339.6 267.5,337.0 266.5,336.5 265.5,336.2 263.0,335.9 262.0,335.6 261.5,335.3 260.5,334.3 258.5,331.4 257.4,330.0 254.5,327.1 253.6,326.0 252.6,324.5 252.2,323.5 252.0,322.5 251.6,319.5 251.2,318.0 250.7,317.0 249.3,315.0 248.7,313.5 248.5,312.0 248.7,310.0 249.2,308.5 249.7,307.5 250.6,306.5 251.8,305.5 254.0,304.1 255.5,303.2 257.0,302.7 258.5,302.3 262.5,301.9 264.0,301.8 265.5,302.0 266.5,302.1 268.5,302.7 269.5,302.9 270.5,302.8 273.5,302.2 278.0,302.1 283.0,301.3 285.5,301.1 287.5,301.1 291.0,301.3 294.0,301.4 296.5,301.7 299.5,302.5 301.5,303.1 303.0,304.0 304.1,305.0 306.0,307.7 307.9,310.0 308.5,311.5 308.6,313.0 308.3,315.0 307.2,319.0 307.0,321.5 306.8,322.5 306.5,323.2 306.0,324.0 304.3,326.0 303.9,327.0 303.1,329.5 302.3,331.0 298.2,335.5 296.7,336.5 295.0,337.2 290.0,338.8 288.0,339.3 286.0,339.6 281.0,339.8 275.5,340.5 M278.0,339.0 276.0,339.3 275.0,339.3 274.0,339.2 273.2,339.0 272.5,338.7 271.0,337.9 267.0,335.3 266.0,334.9 263.5,334.2 262.5,333.7 262.0,333.4 261.2,332.5 258.9,329.5 258.1,328.5 254.8,325.5 254.1,324.5 253.5,323.5 253.1,322.5 252.5,319.0 252.0,317.5 251.5,316.3 250.1,314.0 249.7,313.0 249.7,311.5 249.9,310.0 250.3,308.5 250.9,307.5 251.8,306.5 253.0,305.5 254.5,304.5 256.0,303.7 257.0,303.3 258.5,302.9 262.5,302.4 264.0,302.4 265.5,302.5 266.5,302.8 268.5,303.6 269.5,303.8 270.5,303.7 273.5,302.9 277.5,302.8 283.5,301.8 286.0,301.6 288.0,301.6 291.0,301.8 294.5,301.9 296.0,302.1 298.5,302.7 300.5,303.3 301.5,303.8 302.5,304.4 303.7,305.5 305.5,308.2 306.9,310.0 307.6,311.5 307.7,313.0 307.6,314.0 307.2,315.5 305.6,319.0 305.1,321.0 304.7,322.0 304.0,322.9 302.6,324.0 302.2,324.5 302.0,325.0 301.9,325.5 301.9,327.5 301.8,328.5 301.5,329.4 301.2,330.0 300.5,330.8 298.5,332.5 297.1,334.5 296.6,335.0 295.5,335.8 294.0,336.5 289.4,338.0 287.0,338.6 285.0,338.7 281.0,338.7 278.0,339.0 M277.0,338.0 275.5,338.1 274.5,338.0 273.5,337.8 272.5,337.4 270.5,336.3 269.3,335.5 268.0,334.4 267.0,333.7 264.5,332.9 263.5,332.4 262.5,331.6 261.9,331.0 260.0,328.0 259.0,327.2 256.5,325.5 255.1,324.0 254.4,323.0 254.0,322.0 252.5,316.8 252.0,315.7 251.1,314.0 250.7,313.0 250.6,311.5 250.8,310.0 251.3,308.5 252.0,307.5 252.9,306.5 254.1,305.5 255.5,304.6 256.5,304.1 257.5,303.7 259.0,303.4 262.5,302.9 264.0,302.8 265.2,303.0 266.0,303.2 268.5,304.3 269.5,304.4 270.5,304.3 273.5,303.6 277.0,303.5 278.0,303.4 281.5,302.6 283.5,302.2 285.5,302.0 287.5,302.0 291.0,302.3 294.0,302.3 295.5,302.4 297.0,302.8 300.0,303.7 301.0,304.1 302.0,304.6 302.5,305.0 303.4,306.0 305.0,308.5 306.4,310.5 306.9,312.0 307.0,313.5 306.8,314.5 306.5,315.5 304.7,318.5 303.6,321.0 302.9,322.0 301.5,323.5 301.0,324.2 300.6,325.0 300.3,326.0 300.2,328.0 299.8,329.0 299.4,329.5 297.6,331.0 297.1,331.5 296.0,333.5 295.2,334.5 294.5,335.1 293.0,335.8 288.5,337.3 286.5,337.8 284.5,337.9 280.0,337.8 277.0,338.0 M285.0,337.0 283.5,337.1 278.0,336.8 273.5,336.3 272.0,335.9 271.0,335.4 270.0,334.5 269.2,333.5 268.5,332.0 268.0,331.5 267.5,331.4 265.5,331.4 264.5,331.0 263.8,330.5 263.1,329.5 262.5,327.5 262.2,327.0 261.7,326.5 261.0,326.2 259.0,325.5 258.0,325.1 257.0,324.5 256.4,324.0 255.5,323.0 254.7,321.5 254.0,319.7 253.0,316.3 251.7,313.5 251.5,312.5 251.5,311.0 251.8,309.5 252.5,308.0 253.3,307.0 255.1,305.5 257.0,304.5 259.0,303.9 261.5,303.4 263.0,303.3 264.5,303.4 266.0,303.8 268.5,304.9 269.0,305.0 270.0,305.0 273.5,304.2 277.5,303.9 282.5,302.8 286.0,302.4 288.0,302.4 291.0,302.7 294.0,302.7 295.5,302.8 297.5,303.4 300.5,304.3 301.5,304.8 302.3,305.5 303.2,306.5 304.5,308.8 305.7,310.5 306.1,311.5 306.4,312.5 306.4,313.5 306.2,314.5 305.5,316.0 304.0,318.4 302.6,321.0 300.1,324.0 299.5,325.0 298.3,327.5 297.9,328.0 296.5,329.5 295.7,330.5 295.1,331.5 294.5,333.0 294.0,333.7 293.0,334.5 291.8,335.0 287.5,336.5 286.0,336.9 285.0,337.0 M284.0,336.0 281.5,336.1 279.5,335.9 278.3,335.5 276.5,334.5 276.0,334.4 275.5,334.3 273.5,334.6 272.5,334.5 272.0,334.3 271.5,334.0 271.2,333.5 270.9,333.0 270.7,331.0 270.5,330.3 270.0,329.5 269.5,329.2 268.5,328.7 266.3,328.5 265.5,328.2 265.0,327.6 264.0,325.8 263.5,325.3 263.0,325.0 260.0,324.7 259.0,324.4 257.5,323.7 256.7,323.0 256.0,322.2 255.5,321.5 254.8,320.0 254.2,318.5 253.5,315.9 252.6,313.5 252.3,312.5 252.3,311.0 252.6,309.5 253.4,308.0 254.2,307.0 255.0,306.3 256.0,305.6 257.5,304.9 259.5,304.3 262.0,303.8 263.5,303.7 264.5,303.8 265.5,304.1 267.5,305.0 268.5,305.4 269.0,305.5 270.0,305.5 273.5,304.8 277.5,304.4 281.5,303.3 283.0,303.0 286.0,302.7 287.5,302.7 291.0,303.1 294.0,303.1 295.5,303.2 300.0,304.6 301.0,305.1 302.0,305.8 302.9,307.0 305.3,311.0 305.7,312.0 305.8,313.0 305.7,314.0 305.2,315.5 303.6,318.0 302.2,320.5 298.0,325.6 295.1,328.5 292.0,332.1 291.0,332.9 290.5,333.2 289.5,333.6 287.5,334.2 285.7,335.5 285.0,335.8 284.0,336.0 M282.5,334.5 281.5,334.8 280.5,334.8 280.0,334.7 279.5,334.5 279.0,334.2 278.3,333.5 277.8,332.5 277.8,332.0 277.8,331.5 278.6,330.0 278.6,329.5 278.5,329.4 278.0,329.2 277.5,329.3 277.0,329.7 276.1,331.0 275.5,331.6 274.5,332.3 274.0,332.4 273.5,332.4 272.9,332.0 271.9,330.0 271.1,329.0 270.5,328.5 269.6,328.0 267.5,327.1 266.5,326.5 266.0,325.9 265.0,324.4 264.5,323.9 264.0,323.6 263.5,323.6 261.0,323.8 259.5,323.6 258.1,323.0 257.0,322.1 256.0,320.9 255.0,318.9 253.0,312.5 252.9,311.5 253.1,310.0 253.8,308.5 254.5,307.5 256.0,306.2 257.5,305.4 259.5,304.8 262.0,304.2 263.5,304.1 264.5,304.3 265.5,304.6 268.0,305.7 269.0,305.9 270.0,305.9 273.5,305.3 277.0,304.9 281.0,303.8 283.0,303.4 286.0,303.1 287.5,303.1 290.5,303.5 293.5,303.4 295.0,303.6 296.5,303.9 299.7,305.0 300.8,305.5 301.5,306.0 302.5,307.2 304.6,311.0 305.1,312.0 305.3,313.0 305.2,314.0 304.8,315.0 301.6,320.5 300.8,321.5 298.0,324.5 297.0,325.5 294.5,327.5 292.5,329.5 291.5,330.3 290.0,331.1 289.0,331.4 288.0,331.4 285.5,331.2 284.5,331.3 284.0,331.7 283.8,332.0 283.1,334.0 282.5,334.5 M289.5,330.1 288.5,330.3 287.5,330.2 282.5,329.3 282.0,329.0 280.6,328.0 279.5,327.6 279.0,327.5 278.0,327.5 277.0,327.7 276.4,328.0 274.5,329.1 274.0,329.3 273.5,329.2 272.5,328.7 270.5,327.5 268.4,326.5 267.6,326.0 266.7,325.0 265.6,323.0 265.0,322.4 264.5,322.2 264.0,322.2 261.5,322.8 260.5,322.8 259.5,322.7 258.5,322.3 257.5,321.5 256.5,320.3 255.7,319.0 255.0,317.3 253.8,313.0 253.6,311.5 253.7,310.0 254.1,309.0 254.4,308.5 255.0,307.8 255.8,307.0 256.5,306.5 257.5,306.0 259.0,305.4 260.5,305.0 262.0,304.7 263.0,304.6 264.0,304.6 265.0,304.8 267.5,306.0 268.5,306.3 270.0,306.4 273.5,305.7 277.0,305.3 281.0,304.1 283.0,303.7 285.0,303.5 287.0,303.5 290.5,303.8 293.5,303.8 295.0,303.9 296.0,304.2 299.0,305.2 300.5,305.8 301.4,306.5 302.2,307.5 304.5,312.0 304.7,313.0 304.7,313.5 304.6,314.0 304.3,315.0 302.7,317.5 301.3,320.0 300.5,321.1 299.0,322.8 297.0,324.6 294.0,326.8 291.5,329.1 290.5,329.7 289.5,330.1 M290.0,329.1 289.5,329.2 288.5,329.4 287.0,329.2 284.0,328.2 281.3,327.0 280.5,326.8 279.5,326.6 278.5,326.6 277.0,326.8 274.0,327.8 273.0,327.7 272.0,327.3 270.0,326.4 268.4,325.5 267.4,324.5 266.4,322.5 266.0,321.8 265.5,321.4 265.0,321.1 264.5,321.0 263.5,321.0 261.5,321.7 260.5,321.8 259.5,321.7 259.0,321.5 258.0,320.8 257.0,319.8 256.1,318.5 255.5,317.2 254.2,312.0 254.2,310.5 254.3,310.0 254.7,309.0 255.4,308.0 256.0,307.5 257.5,306.5 258.5,306.0 260.0,305.5 262.5,305.0 263.5,305.0 264.5,305.1 265.5,305.5 268.0,306.5 269.0,306.7 270.0,306.7 273.0,306.3 276.5,305.9 280.5,304.6 282.5,304.1 284.5,303.9 286.5,303.8 290.5,304.2 293.5,304.2 294.5,304.3 296.0,304.6 300.0,306.1 301.0,306.8 301.6,307.5 303.8,312.0 304.0,312.5 304.1,313.5 304.0,314.0 303.7,315.0 300.8,320.0 300.0,321.0 299.0,322.1 297.0,323.9 293.7,326.0 291.5,328.1 291.0,328.5 290.0,329.1 M289.0,328.5 288.0,328.5 287.0,328.3 282.8,326.5 281.0,326.0 279.5,325.9 278.0,326.0 274.0,326.7 272.5,326.6 270.5,325.8 269.0,325.0 268.1,324.0 267.0,321.8 266.5,321.1 266.0,320.6 265.5,320.3 264.5,320.0 263.0,319.9 262.4,320.0 260.8,320.5 260.0,320.6 259.5,320.5 258.5,320.1 257.5,319.3 257.0,318.8 256.5,318.0 255.8,316.5 255.0,313.0 254.7,311.5 254.9,310.0 255.3,309.0 256.1,308.0 257.5,307.0 259.5,306.1 262.0,305.5 263.0,305.4 264.0,305.5 265.0,305.7 268.0,306.9 269.0,307.1 270.0,307.1 276.5,306.3 281.5,304.6 283.0,304.3 285.0,304.1 287.0,304.2 290.5,304.6 293.5,304.6 294.5,304.7 296.0,305.1 299.0,306.1 300.0,306.6 300.6,307.0 301.4,308.0 303.3,312.5 303.5,313.5 303.4,314.0 303.1,315.0 300.2,320.0 299.5,321.0 298.5,322.0 297.5,322.9 296.5,323.6 293.9,325.0 293.1,325.5 290.5,327.9 290.0,328.2 289.0,328.5 M289.0,327.6 288.0,327.7 287.2,327.5 283.0,325.6 281.5,325.3 279.5,325.3 274.0,325.8 273.0,325.7 272.0,325.5 270.5,325.0 269.7,324.5 269.1,324.0 268.5,323.2 267.4,321.0 267.0,320.4 266.0,319.7 265.0,319.3 262.5,318.6 261.5,318.6 260.0,319.1 259.5,319.1 258.5,318.9 257.5,318.2 257.0,317.6 256.5,316.7 256.3,316.0 255.3,312.0 255.3,310.5 255.6,309.5 256.3,308.5 257.5,307.5 258.5,307.0 259.5,306.6 262.0,305.9 263.0,305.9 264.0,305.9 265.0,306.2 267.0,307.0 268.0,307.3 269.0,307.4 270.0,307.4 276.0,306.8 277.0,306.6 281.0,305.0 282.5,304.7 284.5,304.5 287.0,304.5 290.5,305.0 293.5,305.0 294.5,305.1 296.0,305.5 299.5,306.9 300.3,307.5 301.0,308.4 301.8,311.0 302.5,312.5 302.7,313.5 302.7,314.0 302.3,315.0 301.2,317.0 300.0,319.5 299.3,320.5 298.5,321.5 297.5,322.4 296.5,323.0 295.5,323.6 293.3,324.5 292.5,325.0 290.3,327.0 289.5,327.5 289.0,327.6 M296.9,315.5 297.0,315.0 296.5,314.9 295.9,315.5 296.0,315.6 296.5,315.7 296.9,315.5 M289.0,326.6 288.0,326.7 287.2,326.5 284.0,325.0 282.5,324.5 281.5,324.5 277.5,324.9 275.5,325.0 273.5,324.8 271.5,324.4 270.5,324.0 269.8,323.5 269.1,322.5 268.1,320.5 267.5,319.9 266.5,319.2 264.5,318.3 262.5,317.2 262.0,317.1 261.5,317.0 261.0,317.2 259.5,317.8 259.0,317.8 258.5,317.8 258.0,317.5 257.5,317.1 257.0,316.3 256.5,315.0 256.0,313.0 255.8,312.0 255.8,311.0 255.9,310.0 256.1,309.5 256.9,308.5 258.0,307.7 259.6,307.0 262.0,306.4 263.0,306.3 264.0,306.4 265.0,306.6 267.5,307.5 268.5,307.7 270.0,307.8 276.0,307.3 277.0,307.0 279.5,305.9 281.0,305.3 282.5,305.0 284.5,304.8 287.0,304.9 290.5,305.4 293.5,305.4 294.4,305.5 296.0,306.0 299.0,307.3 300.0,308.0 300.5,308.9 300.7,309.5 300.9,311.5 301.6,313.0 301.7,313.5 301.6,314.5 300.6,316.5 299.9,318.5 299.4,319.5 298.3,321.0 297.0,322.2 295.5,323.0 293.0,323.8 292.0,324.2 291.5,324.6 290.0,326.0 289.0,326.6 M297.5,316.5 298.2,316.0 298.6,315.5 298.8,315.0 298.9,314.5 298.8,314.0 298.6,313.5 298.0,313.2 297.5,313.2 297.0,313.4 296.0,314.0 295.5,314.4 294.5,315.5 294.2,316.0 294.1,316.5 294.5,316.8 295.5,317.0 296.5,316.9 297.5,316.5 M288.5,325.2 288.0,325.3 287.0,325.1 284.0,323.8 283.0,323.6 282.0,323.6 278.5,324.3 276.5,324.4 275.5,324.3 274.2,324.0 271.1,323.0 270.5,322.6 270.0,322.0 269.1,320.5 268.7,320.0 268.0,319.3 267.0,318.7 264.6,317.5 263.0,316.2 262.5,315.9 262.0,315.8 261.5,315.8 261.0,316.0 259.5,316.6 259.0,316.7 258.5,316.6 258.0,316.3 257.5,315.7 257.1,315.0 256.5,313.0 256.3,312.0 256.3,311.0 256.5,309.9 257.0,309.0 257.6,308.5 258.4,308.0 260.0,307.4 262.0,306.9 263.0,306.8 264.0,306.8 265.0,307.1 267.0,307.8 268.5,308.1 270.0,308.1 272.5,307.9 275.5,307.8 277.0,307.5 279.5,306.2 281.0,305.6 282.5,305.3 284.0,305.1 286.5,305.1 290.5,305.8 294.0,305.9 295.5,306.4 298.5,307.8 298.9,308.0 299.4,308.5 299.6,309.0 299.7,309.5 299.7,310.0 299.5,310.6 299.0,311.1 297.0,312.4 293.5,315.5 292.1,316.5 291.5,317.0 291.4,317.5 291.5,317.7 292.0,318.0 292.5,318.0 296.0,317.6 298.5,317.3 299.0,317.5 299.1,318.0 299.0,319.0 298.5,320.0 297.5,321.2 297.0,321.6 296.0,322.2 294.5,322.7 291.8,323.0 291.0,323.2 290.5,323.5 289.0,324.9 288.5,325.2 M279.5,323.6 278.0,323.8 276.5,323.8 275.3,323.5 274.2,323.0 271.4,321.5 270.5,320.7 268.8,319.0 268.0,318.5 265.2,317.0 263.5,315.4 262.9,315.0 262.0,314.8 261.0,315.0 259.5,315.5 259.0,315.6 258.5,315.4 258.0,315.0 257.5,314.3 256.9,312.5 256.8,311.0 257.0,310.0 257.3,309.5 258.0,308.8 259.0,308.2 261.0,307.6 262.5,307.3 264.0,307.3 267.0,308.2 268.5,308.4 276.0,308.2 277.0,307.9 279.6,306.5 281.0,305.9 282.5,305.5 284.5,305.4 286.5,305.5 290.5,306.2 293.0,306.3 294.0,306.4 295.5,307.0 297.3,308.0 297.9,308.5 298.3,309.0 298.4,309.5 298.2,310.0 297.8,310.5 295.5,313.0 294.0,314.4 293.0,315.1 290.9,316.0 290.2,316.5 289.8,317.0 289.6,317.5 289.3,319.0 289.0,319.6 288.5,320.3 287.0,321.8 286.5,322.1 286.0,322.2 284.5,322.2 283.5,322.3 279.5,323.6 M296.0,321.6 294.5,322.0 293.5,321.9 292.4,321.5 292.0,321.0 291.9,320.5 292.1,320.0 292.5,319.5 293.3,319.0 294.0,318.7 295.0,318.4 296.5,318.3 297.5,318.4 297.8,318.5 298.1,319.0 298.0,319.5 297.7,320.0 297.0,320.9 296.0,321.6 M279.0,323.1 278.0,323.2 277.0,323.2 276.0,323.0 275.1,322.5 273.5,321.4 271.5,320.2 269.0,318.4 265.8,316.5 265.3,316.0 264.0,314.6 263.5,314.2 263.0,314.0 262.0,313.9 259.5,314.5 259.0,314.5 258.5,314.3 258.0,313.7 257.5,312.5 257.4,311.0 257.6,310.0 258.0,309.5 258.5,309.1 259.5,308.6 261.0,308.1 262.5,307.9 264.0,307.9 267.0,308.6 268.5,308.8 272.5,308.7 275.0,308.8 276.0,308.7 277.0,308.4 277.5,308.1 279.5,306.9 281.0,306.2 282.5,305.8 284.0,305.7 286.5,305.8 290.5,306.6 293.5,306.9 295.0,307.5 296.3,308.5 296.7,309.0 296.8,309.5 296.8,310.0 296.6,310.5 295.3,312.5 294.0,313.9 293.5,314.3 292.5,314.8 290.2,315.5 289.5,316.0 289.1,316.5 288.0,318.5 287.5,319.1 287.0,319.4 284.0,320.5 280.6,322.5 279.0,323.1 M295.0,321.0 294.5,320.9 294.0,320.6 294.0,320.0 294.6,319.5 295.5,319.3 296.0,319.2 296.6,319.5 296.6,320.0 296.2,320.5 295.5,320.9 295.0,321.0 M278.5,322.6 277.5,322.6 277.0,322.5 275.8,322.0 273.8,320.5 271.5,319.2 266.5,316.1 265.9,315.5 264.7,314.0 264.0,313.4 263.5,313.2 262.5,313.0 261.5,313.2 260.0,313.5 259.5,313.5 259.0,313.4 258.5,312.9 258.1,312.0 258.0,311.0 258.2,310.5 258.4,310.0 259.0,309.5 260.0,309.0 261.5,308.6 263.0,308.5 264.1,308.5 267.0,309.1 268.0,309.2 272.0,309.0 275.0,309.2 276.0,309.2 277.0,308.9 277.5,308.7 279.9,307.0 281.0,306.5 282.5,306.1 284.0,306.0 286.5,306.1 290.5,307.0 293.0,307.4 294.0,307.7 294.5,308.0 295.2,308.5 295.6,309.0 295.8,309.5 295.8,310.0 295.8,310.5 295.1,312.0 294.5,312.9 293.8,313.5 292.5,314.3 290.0,314.9 289.5,315.2 289.0,315.5 288.5,316.0 287.5,317.6 287.0,318.1 286.5,318.5 283.9,319.5 283.0,320.0 280.1,322.0 278.5,322.6 M279.0,321.7 278.0,321.8 277.5,321.8 276.7,321.5 274.6,320.0 271.5,318.5 268.3,316.5 267.0,315.5 266.5,315.0 265.0,312.9 264.0,312.2 263.0,312.0 262.0,312.1 260.5,312.3 260.0,312.4 259.5,312.2 259.3,312.0 259.0,311.5 259.0,311.0 259.3,310.5 259.8,310.0 260.5,309.7 261.5,309.5 263.0,309.3 264.0,309.3 267.5,309.7 272.0,309.4 275.0,309.8 276.0,309.7 276.5,309.6 277.5,309.2 279.7,307.5 280.5,307.0 282.0,306.5 283.5,306.3 285.0,306.3 286.5,306.4 292.5,307.8 293.5,308.2 294.1,308.5 294.6,309.0 294.9,309.5 295.1,310.0 295.0,311.0 294.6,312.0 294.2,312.5 293.5,313.3 293.0,313.6 292.0,314.0 290.0,314.4 289.0,314.8 288.0,315.5 287.0,316.9 286.3,317.5 285.5,318.0 284.0,318.6 283.0,319.1 280.3,321.0 279.0,321.7 M279.0,320.6 278.0,320.7 277.2,320.5 275.5,319.5 272.0,318.0 268.7,316.0 267.5,315.0 266.8,314.0 265.8,312.0 265.7,311.5 265.7,311.0 266.5,310.5 269.0,310.1 270.5,309.9 272.5,309.9 275.5,310.4 276.5,310.3 277.5,309.9 279.6,308.0 280.5,307.4 282.0,306.8 283.5,306.5 285.0,306.6 286.5,306.8 291.3,308.0 293.0,308.6 293.7,309.0 294.1,309.5 294.4,310.0 294.5,310.5 294.3,311.5 293.7,312.5 293.1,313.0 292.0,313.6 289.5,314.0 288.5,314.4 287.7,315.0 286.5,316.2 285.5,317.0 283.0,318.1 280.0,320.1 279.0,320.6 M279.0,319.0 278.0,319.0 273.5,317.9 272.0,317.3 270.0,316.2 268.5,315.0 267.7,314.0 267.4,313.5 267.2,312.5 267.2,312.0 267.4,311.5 268.0,311.0 268.5,310.8 269.5,310.5 271.0,310.3 272.5,310.4 275.5,311.1 276.5,311.1 277.0,311.0 277.5,310.7 278.0,310.3 279.6,308.5 280.5,307.7 281.0,307.4 282.0,307.1 283.5,306.8 284.5,306.8 286.0,307.0 288.5,307.6 291.4,308.5 292.5,309.0 293.3,309.5 293.6,310.0 293.8,310.5 293.8,311.0 293.7,311.5 293.4,312.0 293.0,312.5 292.5,312.8 291.5,313.2 289.5,313.5 288.5,313.9 287.4,314.5 285.5,315.9 283.0,316.9 280.5,318.5 279.0,319.0 M278.0,317.0 276.0,317.4 274.5,317.3 273.0,317.0 271.8,316.5 270.2,315.5 269.0,314.5 268.5,313.8 268.2,313.0 268.2,312.5 268.4,312.0 268.8,311.5 269.5,311.2 270.5,310.9 271.5,310.9 272.5,311.0 276.0,312.1 277.0,312.3 277.5,312.2 278.0,311.9 279.3,309.5 280.0,308.6 280.5,308.2 281.0,307.8 282.0,307.4 283.5,307.1 284.5,307.1 286.0,307.3 288.7,308.0 291.3,309.0 292.0,309.4 292.8,310.0 293.1,310.5 293.1,311.0 293.0,311.5 292.7,312.0 292.0,312.5 289.5,313.1 288.5,313.4 286.0,314.7 285.0,315.2 284.5,315.3 283.0,315.2 281.0,314.7 280.5,314.6 280.0,314.8 279.9,315.0 279.6,316.0 279.2,316.5 278.0,317.0" fill="none" stroke="#000" stroke-width="0.92"/>
</g>
<rect x="258" y="336.6" width="64" height="1.9" fill="#222"/>
<rect x="225.1" y="324.8" width="26.1" height="14.0" fill="#fff"/>
<rect x="331.3" y="324.8" width="25.9" height="14.0" fill="#fff"/>
<path d="M269.7,203.5 V338 M223.5,295.3 H358" stroke="#161616" stroke-width="0.85" fill="none"/>
<path d="M223.5,338 v3.4 M233.6,338 v1.9 M239.5,338 v1.9 M243.7,338 v1.9 M247.0,338 v1.9 M249.7,338 v1.9 M251.9,338 v1.9 M253.9,338 v1.9 M255.6,338 v1.9 M257.1,338 v3.4 M267.2,338 v1.9 M273.2,338 v1.9 M277.4,338 v1.9 M280.6,338 v1.9 M283.3,338 v1.9 M285.5,338 v1.9 M287.5,338 v1.9 M289.2,338 v1.9 M290.8,338 v3.4 M300.9,338 v1.9 M306.8,338 v1.9 M311.0,338 v1.9 M314.3,338 v1.9 M316.9,338 v1.9 M319.2,338 v1.9 M321.1,338 v1.9 M322.8,338 v1.9 M324.4,338 v3.4 M334.5,338 v1.9 M340.4,338 v1.9 M344.6,338 v1.9 M347.9,338 v1.9 M350.5,338 v1.9 M352.8,338 v1.9 M354.7,338 v1.9 M356.5,338 v1.9 M358.0,338 v3.4 M223.5,338.0 h-3.4 M223.5,327.9 h-1.9 M223.5,322.0 h-1.9 M223.5,317.8 h-1.9 M223.5,314.5 h-1.9 M223.5,311.8 h-1.9 M223.5,309.6 h-1.9 M223.5,307.6 h-1.9 M223.5,305.9 h-1.9 M223.5,304.4 h-3.4 M223.5,294.3 h-1.9 M223.5,288.3 h-1.9 M223.5,284.1 h-1.9 M223.5,280.9 h-1.9 M223.5,278.2 h-1.9 M223.5,276.0 h-1.9 M223.5,274.0 h-1.9 M223.5,272.3 h-1.9 M223.5,270.8 h-3.4 M223.5,260.6 h-1.9 M223.5,254.7 h-1.9 M223.5,250.5 h-1.9 M223.5,247.2 h-1.9 M223.5,244.6 h-1.9 M223.5,242.3 h-1.9 M223.5,240.4 h-1.9 M223.5,238.7 h-1.9 M223.5,237.1 h-3.4 M223.5,227.0 h-1.9 M223.5,221.1 h-1.9 M223.5,216.9 h-1.9 M223.5,213.6 h-1.9 M223.5,211.0 h-1.9 M223.5,208.7 h-1.9 M223.5,206.8 h-1.9 M223.5,205.0 h-1.9 M223.5,203.5 h-3.4" stroke="#1a1a1a" stroke-width="0.75" fill="none"/>
<text x="222.9" y="351.4" font-size="6.5" fill="#2a2a2a" text-anchor="middle">10<tspan dy="-2.4" font-size="4.9">0</tspan></text>
<text x="217.3" y="341.0" font-size="6.5" fill="#2a2a2a" text-anchor="end">10<tspan dy="-2.4" font-size="4.9">0</tspan></text>
<text x="256.5" y="351.4" font-size="6.5" fill="#2a2a2a" text-anchor="middle">10<tspan dy="-2.4" font-size="4.9">1</tspan></text>
<text x="217.3" y="307.4" font-size="6.5" fill="#2a2a2a" text-anchor="end">10<tspan dy="-2.4" font-size="4.9">1</tspan></text>
<text x="290.1" y="351.4" font-size="6.5" fill="#2a2a2a" text-anchor="middle">10<tspan dy="-2.4" font-size="4.9">2</tspan></text>
<text x="217.3" y="273.8" font-size="6.5" fill="#2a2a2a" text-anchor="end">10<tspan dy="-2.4" font-size="4.9">2</tspan></text>
<text x="323.8" y="351.4" font-size="6.5" fill="#2a2a2a" text-anchor="middle">10<tspan dy="-2.4" font-size="4.9">3</tspan></text>
<text x="217.3" y="240.1" font-size="6.5" fill="#2a2a2a" text-anchor="end">10<tspan dy="-2.4" font-size="4.9">3</tspan></text>
<text x="357.4" y="351.4" font-size="6.5" fill="#2a2a2a" text-anchor="middle">10<tspan dy="-2.4" font-size="4.9">4</tspan></text>
<text x="217.3" y="206.5" font-size="6.5" fill="#2a2a2a" text-anchor="end">10<tspan dy="-2.4" font-size="4.9">4</tspan></text>
<text x="224.9" y="217.1" font-size="12.5" font-weight="bold" text-anchor="start" fill="#000" >0.2</text>
<text x="357.2" y="217.1" font-size="12.5" font-weight="bold" text-anchor="end" fill="#000" >1.06</text>
<text x="226.1" y="336.6" font-size="12.5" font-weight="bold" text-anchor="start" fill="#000" >33.3</text>
<text x="357.2" y="336.6" font-size="12.5" font-weight="bold" text-anchor="end" fill="#000" >65.4</text>
</g>
<g>
<clipPath id="cp6"><rect x="375.5" y="203.5" width="133.0" height="134.5"/></clipPath>
<rect x="375.5" y="203.5" width="133.0" height="134.5" fill="none" stroke="#1a1a1a" stroke-width="1"/>
<g clip-path="url(#cp6)">
<path d="M447.4,197.5 448.5,198.1 449.8,199.0 450.7,200.0 451.3,201.0 451.6,202.0 451.6,202.5 451.5,203.5 451.0,204.5 450.2,205.5 449.0,206.5 447.0,207.7 445.0,208.5 440.3,210.0 438.5,210.7 430.5,214.7 429.5,215.5 429.0,216.0 427.0,219.5 425.8,221.0 425.0,221.7 424.5,221.9 423.5,222.2 423.0,222.2 422.4,222.0 421.6,221.5 420.7,220.5 420.0,219.0 419.5,217.0 419.5,214.5 419.7,213.0 420.4,208.5 420.6,204.0 420.7,203.0 421.1,202.0 421.9,200.5 422.7,199.5 423.5,198.8 424.5,198.1 425.7,197.5 M410.2,344.0 408.5,342.7 406.5,340.8 404.5,338.5 402.7,336.0 401.2,333.5 400.1,331.5 398.3,327.5 396.8,324.0 395.3,319.5 394.2,316.0 393.4,312.5 393.0,310.0 392.8,307.0 392.8,304.5 393.2,301.5 393.8,299.0 394.8,296.0 395.9,293.5 397.2,291.0 398.8,288.5 400.3,286.5 402.2,284.5 404.0,282.8 406.5,280.8 409.0,279.1 412.0,277.4 414.5,276.2 417.0,275.3 420.5,274.4 423.5,273.8 426.5,273.4 429.5,273.3 433.0,273.4 437.5,273.7 440.5,274.1 443.5,274.7 450.0,276.1 455.0,277.4 459.5,278.8 462.5,280.0 465.0,281.2 468.5,283.3 471.0,285.1 473.3,287.0 475.5,289.2 477.4,291.5 479.1,294.0 480.4,296.5 481.6,299.5 482.4,302.0 482.8,304.5 483.0,307.0 482.8,311.0 482.3,314.5 481.4,318.0 480.3,321.5 478.8,325.0 476.9,328.5 475.0,331.5 472.8,334.5 470.5,337.3 468.3,339.5 465.5,341.9 462.7,344.0 M378.5,317.0 378.0,317.1 377.5,317.0 377.0,316.7 376.2,316.0 375.9,315.5 375.4,314.5 375.2,313.5 375.0,312.5 375.1,311.5 375.2,310.5 375.4,309.5 375.9,308.5 376.5,307.7 377.0,307.2 377.5,307.0 378.0,306.9 378.5,307.0 379.0,307.2 379.5,307.5 380.0,308.0 380.5,308.9 380.8,309.5 381.0,310.5 381.2,311.5 381.1,312.5 381.0,313.5 380.5,315.1 380.0,315.9 379.5,316.5 379.0,316.8 378.5,317.0 M388.0,329.0 387.0,329.2 385.5,329.2 384.5,329.0 383.5,328.5 382.9,328.0 382.6,327.5 382.5,327.0 382.5,326.5 382.8,326.0 383.3,325.5 384.0,325.1 385.5,324.7 386.5,324.6 387.5,324.7 388.5,324.9 389.0,325.2 389.5,325.5 390.0,326.0 390.3,326.5 390.3,327.0 390.1,327.5 389.8,328.0 389.0,328.6 388.0,329.0 M430.5,209.5 428.0,209.6 427.0,209.4 426.5,209.2 425.9,208.5 425.4,207.0 425.2,205.0 425.3,204.0 425.6,203.0 426.0,202.2 426.5,201.5 427.5,200.6 428.5,200.0 430.7,199.0 433.0,198.4 435.0,198.2 437.5,198.2 440.5,198.7 441.6,199.0 443.0,199.5 443.9,200.0 444.6,200.5 445.1,201.0 445.4,201.5 445.6,202.0 445.6,202.5 445.6,203.0 445.4,203.5 444.5,204.5 443.0,205.5 440.7,206.5 434.0,208.8 432.0,209.3 430.5,209.5 M428.8,344.0 425.0,343.5 420.5,342.8 418.5,342.4 416.5,341.8 414.0,340.7 412.0,339.6 410.0,338.1 408.4,336.5 406.4,334.0 404.5,331.0 402.9,328.0 401.4,324.5 400.2,321.0 398.1,314.0 397.5,311.0 397.2,308.0 397.2,305.0 397.4,302.0 397.8,299.5 398.5,297.0 399.7,294.0 401.0,291.5 402.2,289.5 404.0,287.4 406.0,285.5 408.5,283.6 412.0,281.4 415.0,279.9 417.5,279.0 420.0,278.3 423.5,277.7 426.5,277.4 429.0,277.4 436.0,277.8 438.5,278.1 440.5,278.6 443.0,279.3 448.5,281.3 453.5,282.8 456.0,283.9 460.0,285.8 462.5,287.1 465.0,288.8 467.1,290.5 469.0,292.4 471.0,294.7 472.6,297.0 473.6,299.0 474.4,301.0 475.3,304.5 475.5,306.0 475.6,307.5 475.4,310.5 474.8,314.5 474.2,317.5 473.4,320.0 472.4,322.0 469.2,328.0 467.8,330.0 466.0,331.9 462.0,335.6 459.5,337.6 456.5,339.7 454.0,341.1 450.5,342.7 447.1,344.0 M435.5,204.6 434.0,204.7 432.7,204.5 432.0,204.0 431.9,203.5 431.9,203.0 432.2,202.5 432.7,202.0 433.6,201.5 434.5,201.3 435.5,201.2 436.5,201.4 437.0,201.5 437.7,202.0 438.0,202.5 438.0,203.0 437.7,203.5 437.0,204.0 435.5,204.6 M445.5,339.5 443.5,339.7 439.5,339.2 437.5,339.1 435.5,339.3 431.5,339.8 428.5,339.9 422.0,339.6 419.5,339.3 418.0,339.1 416.5,338.7 415.0,338.1 413.5,337.3 412.0,336.2 411.0,335.3 409.8,334.0 407.2,330.5 405.4,327.5 404.3,325.5 403.7,324.0 402.9,321.5 401.9,318.0 400.5,313.5 400.2,312.0 400.0,310.0 399.9,301.5 400.2,299.0 400.7,297.0 401.8,294.0 402.8,292.0 404.1,290.0 405.4,288.5 407.0,287.0 408.5,285.9 412.0,283.7 414.5,282.4 416.0,281.8 417.5,281.3 420.0,280.8 424.0,280.3 427.5,280.1 435.5,280.5 438.5,280.9 440.5,281.5 442.5,282.2 447.5,284.5 452.5,286.4 455.0,287.6 457.5,289.0 459.7,290.5 463.5,293.5 466.5,296.5 468.1,298.5 468.7,299.5 469.2,300.5 469.7,302.5 470.7,307.5 470.8,309.0 470.8,310.5 470.5,312.0 470.0,314.0 466.9,323.0 465.8,325.5 464.5,327.4 462.5,329.3 460.0,331.3 455.0,334.8 452.5,336.4 449.6,338.0 447.5,338.9 445.5,339.5 M428.5,337.0 420.5,337.1 418.0,336.8 416.5,336.4 415.0,335.7 413.5,334.7 412.5,333.8 410.8,332.0 408.5,329.0 407.1,327.0 406.0,325.0 405.3,323.5 404.8,322.0 403.7,317.0 402.2,312.5 401.9,310.0 402.0,305.5 401.7,301.5 401.7,299.5 401.9,298.0 402.3,296.5 402.8,295.0 403.7,293.0 404.6,291.5 405.7,290.0 407.0,288.6 408.5,287.4 411.0,285.8 414.0,284.2 415.5,283.6 417.5,283.0 419.5,282.8 427.0,282.2 431.0,282.1 434.5,282.4 437.0,282.7 439.0,283.2 441.0,283.9 443.0,284.9 447.5,287.4 452.0,289.4 454.0,290.3 456.0,291.5 457.5,292.6 461.5,296.0 463.8,298.5 464.5,299.5 465.1,300.5 465.5,301.5 465.9,303.0 466.4,306.0 466.7,309.0 466.7,311.0 466.4,312.5 465.4,316.0 464.5,320.0 463.9,322.0 463.4,323.0 462.5,324.4 460.5,326.4 457.9,328.5 453.5,331.2 451.5,332.2 445.5,334.8 444.0,335.2 442.5,335.5 436.0,336.1 431.0,336.9 428.5,337.0 M423.5,335.0 420.5,335.2 418.5,335.0 417.5,334.8 416.5,334.4 415.0,333.6 413.0,331.9 410.5,329.2 408.8,327.0 407.3,324.5 406.8,323.5 406.3,322.0 405.3,317.0 404.0,313.0 403.6,311.0 403.5,309.5 403.5,305.0 403.0,301.5 402.9,300.0 402.9,298.5 403.4,296.5 404.1,294.5 405.1,292.5 406.1,291.0 407.5,289.5 409.0,288.2 410.5,287.2 413.5,285.7 415.5,284.9 416.5,284.6 418.0,284.3 423.5,284.2 428.5,283.7 430.0,283.6 431.5,283.6 433.5,283.8 435.5,284.2 437.5,284.6 439.5,285.3 441.0,286.0 446.7,289.5 448.0,290.2 452.0,291.9 454.5,293.2 456.5,294.6 458.2,296.0 459.7,297.5 460.9,299.0 462.1,301.0 462.8,303.0 463.4,305.5 463.7,308.0 463.8,310.5 463.6,312.0 462.1,319.0 461.6,320.5 460.9,321.5 460.0,322.5 456.8,325.5 455.6,326.5 454.2,327.5 453.0,328.2 451.5,328.9 447.0,330.4 442.5,332.4 440.0,333.2 438.5,333.4 435.0,333.8 430.0,334.8 423.5,335.0 M421.5,333.5 419.5,333.5 418.0,333.2 416.5,332.6 414.5,331.3 412.0,329.0 410.0,326.7 408.6,324.5 407.7,322.5 407.3,321.0 406.6,316.5 405.3,312.5 404.9,311.0 404.8,309.5 404.9,305.0 404.7,304.0 404.0,301.0 403.9,299.0 403.9,298.0 404.3,296.5 404.8,295.0 405.2,294.0 406.4,292.0 407.2,291.0 408.1,290.0 409.5,288.8 411.5,287.6 414.5,286.2 416.5,285.6 418.5,285.5 421.5,285.6 423.5,285.5 429.5,284.9 431.0,284.9 432.5,285.1 434.2,285.5 436.5,286.1 438.0,286.6 439.5,287.3 440.7,288.0 444.0,290.3 446.5,291.8 448.0,292.5 451.5,293.9 454.0,295.3 455.8,296.5 457.5,298.0 458.3,299.0 459.0,300.0 459.9,302.0 460.8,305.5 461.2,308.5 461.3,310.0 461.2,311.5 460.5,315.5 459.9,317.5 459.5,318.4 459.0,319.0 458.0,319.8 455.5,320.8 455.0,321.2 454.6,321.5 454.3,322.0 453.5,323.5 452.9,324.5 452.4,325.0 451.5,325.7 450.1,326.5 446.5,328.0 442.5,330.2 441.0,330.8 439.5,331.3 438.5,331.5 435.0,331.5 434.0,331.7 430.5,332.7 429.0,333.0 424.5,333.2 421.5,333.5 M427.0,331.5 420.0,331.9 418.5,331.7 417.5,331.4 416.5,330.9 415.5,330.3 414.0,329.3 412.5,328.0 411.5,326.9 410.5,325.7 409.7,324.5 409.2,323.5 408.7,322.0 407.8,316.5 406.6,312.5 406.2,311.0 406.1,309.0 406.2,305.0 406.0,304.0 405.2,301.5 404.8,300.0 404.7,299.0 404.8,297.5 405.2,296.0 406.1,294.0 407.3,292.0 408.5,290.5 410.0,289.3 411.5,288.4 414.0,287.3 415.5,286.8 417.5,286.5 422.5,286.7 429.5,286.1 431.5,286.3 433.5,287.0 438.5,289.1 442.2,291.5 447.0,294.4 451.5,296.1 453.5,297.2 455.1,298.5 456.5,300.0 457.4,301.5 457.8,303.0 458.8,309.5 459.0,311.5 458.8,313.0 458.5,314.5 458.0,315.7 457.4,316.5 456.8,317.0 456.0,317.4 452.5,318.4 451.5,318.9 451.0,319.5 450.8,320.0 450.2,322.5 449.6,323.5 449.2,324.0 448.0,324.8 445.5,326.3 441.5,328.7 440.0,329.3 438.5,329.6 435.0,329.4 433.5,329.6 432.5,329.9 429.5,331.1 428.5,331.3 427.0,331.5 M426.5,330.0 421.5,330.3 420.0,330.3 418.0,329.9 416.0,329.1 414.0,327.9 413.0,327.1 412.0,326.1 411.1,325.0 410.5,324.0 410.1,323.0 409.7,322.0 409.0,316.5 407.8,312.5 407.5,311.0 407.3,309.5 407.4,306.5 407.2,305.0 406.9,303.5 405.7,300.0 405.5,299.0 405.6,297.5 406.0,296.0 406.6,294.5 407.7,292.5 408.9,291.0 410.0,290.0 411.0,289.3 412.5,288.6 414.5,287.9 416.0,287.5 417.5,287.4 422.0,287.6 429.0,287.3 430.0,287.4 431.0,287.7 432.0,288.1 434.5,289.6 437.5,290.7 438.5,291.2 440.5,292.4 445.5,295.8 446.5,296.4 447.5,296.9 450.5,297.9 452.0,298.7 453.5,299.9 454.5,301.0 455.2,302.0 455.7,303.5 456.0,305.0 456.3,308.0 456.9,310.5 457.1,312.0 456.8,313.5 456.5,314.3 456.0,315.0 455.4,315.5 454.5,316.0 453.5,316.3 450.5,316.9 450.0,317.1 449.5,317.4 449.1,318.0 448.9,318.5 448.5,320.5 448.1,321.5 447.5,322.5 446.5,323.3 444.0,324.8 441.7,326.5 440.5,327.2 439.5,327.6 438.5,327.8 435.0,327.7 433.5,327.9 432.0,328.2 428.5,329.6 426.5,330.0 M427.0,328.5 424.5,328.8 420.5,328.9 418.5,328.7 416.5,328.1 415.5,327.7 414.5,327.1 413.1,326.0 411.9,324.5 411.1,323.0 410.6,321.5 410.1,317.0 408.8,311.5 408.3,306.5 408.0,305.0 407.7,303.5 406.5,300.0 406.3,299.0 406.3,298.0 406.6,296.5 407.1,295.0 407.9,293.5 408.8,292.0 409.6,291.0 410.5,290.3 411.5,289.6 412.5,289.2 415.0,288.4 417.0,288.2 427.5,288.5 428.5,288.6 429.5,288.8 430.5,289.3 432.3,290.5 433.0,290.9 434.0,291.3 437.5,292.3 439.5,293.3 441.3,294.5 445.0,297.4 446.5,298.3 449.5,299.9 451.0,300.9 452.0,301.7 452.7,302.5 453.1,303.0 453.6,304.0 454.0,305.4 454.4,308.5 455.0,311.0 455.2,312.0 455.0,313.0 454.8,313.5 454.4,314.0 453.6,314.5 453.0,314.7 452.0,315.0 449.0,315.2 448.5,315.3 448.0,315.7 447.4,316.5 447.1,317.5 446.6,320.0 446.1,321.0 445.0,321.9 443.0,323.2 439.9,325.5 439.0,325.9 438.0,326.2 434.5,326.4 432.5,326.7 431.0,327.1 428.5,328.1 427.0,328.5 M425.5,327.5 423.0,327.8 420.5,327.8 418.5,327.6 416.5,327.1 415.0,326.4 413.5,325.2 412.6,324.0 411.9,322.5 411.5,321.0 411.4,319.0 411.1,317.5 409.8,312.0 409.0,306.0 408.4,303.5 407.2,300.0 407.0,299.0 407.0,298.0 407.2,296.5 407.8,295.0 408.8,293.0 409.4,292.0 410.3,291.0 411.0,290.5 412.0,289.9 413.5,289.3 415.5,288.9 417.0,288.8 423.5,289.1 425.5,289.3 427.0,289.7 428.0,290.0 429.0,290.5 431.0,291.9 432.0,292.4 436.0,293.0 437.0,293.2 438.0,293.6 439.0,294.2 440.0,294.9 443.5,298.1 446.4,300.0 447.7,301.0 448.6,302.0 450.5,304.5 451.1,305.5 451.4,306.5 452.0,309.5 452.3,311.0 452.4,311.5 452.3,312.0 452.0,312.4 451.5,312.6 451.0,312.7 449.0,312.8 448.0,313.0 447.0,313.5 446.5,314.0 446.0,315.0 445.4,318.0 445.1,319.0 444.5,320.0 444.0,320.5 440.0,323.6 438.5,324.4 437.0,324.8 433.5,325.3 432.0,325.6 430.5,326.0 427.5,327.0 425.5,327.5 M425.0,326.5 423.0,326.8 420.5,326.9 418.5,326.7 417.0,326.4 415.5,325.7 414.5,325.0 413.5,323.8 412.9,322.5 412.6,321.5 412.2,318.0 410.8,312.5 410.0,307.0 409.2,304.0 407.9,300.0 407.7,299.0 407.7,298.0 407.8,297.0 408.2,295.5 408.8,294.0 409.7,292.5 410.5,291.5 411.5,290.7 412.5,290.2 413.5,289.8 415.0,289.5 417.0,289.3 422.0,289.6 424.0,289.9 425.5,290.2 427.1,291.0 428.3,292.0 429.5,293.4 430.5,294.0 431.5,294.2 434.0,294.0 435.0,294.0 436.5,294.2 437.5,294.5 438.5,295.1 439.7,296.0 442.5,299.1 445.3,301.0 446.4,302.0 447.5,303.5 448.2,305.0 448.5,306.0 448.8,307.5 448.7,308.5 448.6,309.0 448.0,310.0 447.5,310.5 445.6,312.0 445.0,312.7 444.6,314.0 444.3,316.5 444.0,318.0 443.4,319.0 442.5,320.0 439.5,322.3 438.5,322.9 437.5,323.4 436.0,323.8 432.5,324.3 431.0,324.6 429.5,325.0 426.5,326.1 425.0,326.5 M421.5,326.0 419.0,325.9 417.0,325.4 416.1,325.0 415.4,324.5 414.9,324.0 414.2,323.0 413.8,322.0 413.2,318.5 411.9,313.5 411.2,309.0 410.8,307.0 408.4,299.5 408.3,298.0 408.5,296.5 409.1,294.5 409.9,293.0 410.6,292.0 411.5,291.2 412.5,290.6 414.0,290.1 416.0,289.9 418.0,289.9 422.5,290.3 424.5,290.7 425.5,291.1 426.7,292.0 427.6,293.0 429.1,295.0 430.0,295.8 430.5,296.0 431.5,296.0 433.5,295.4 434.5,295.2 436.0,295.2 437.0,295.5 438.0,296.1 439.0,297.0 439.8,298.0 441.0,300.0 441.5,300.5 442.0,300.9 444.3,302.0 445.4,303.0 446.4,304.5 446.9,306.0 447.0,307.5 446.9,308.0 446.5,308.9 446.0,309.5 444.0,311.1 443.6,311.5 443.3,312.0 443.1,313.0 443.2,316.0 442.9,317.5 442.5,318.2 442.0,318.9 440.7,320.0 438.5,321.5 437.0,322.2 435.5,322.6 431.0,323.3 429.5,323.8 426.5,325.0 425.0,325.5 423.5,325.8 421.5,326.0 M423.0,325.0 421.5,325.2 420.0,325.2 418.5,324.9 417.5,324.6 416.5,324.0 415.9,323.5 415.2,322.5 414.9,321.5 414.2,318.5 412.8,314.0 412.1,309.0 411.7,307.5 409.3,300.5 408.9,298.5 408.9,297.5 409.2,296.0 409.7,294.5 410.4,293.0 411.0,292.2 411.8,291.5 412.5,291.1 413.5,290.7 415.5,290.3 417.5,290.3 422.0,290.7 424.0,291.2 425.0,291.7 426.1,292.5 426.9,293.5 429.0,296.6 429.5,297.1 430.0,297.5 430.5,297.7 431.0,297.7 432.0,297.5 434.0,296.7 434.6,296.5 435.5,296.4 436.5,296.7 437.5,297.3 438.1,298.0 438.6,299.0 439.1,301.0 439.7,302.0 440.5,302.6 441.0,302.8 443.0,303.3 443.6,303.5 444.0,303.8 444.5,304.3 445.1,305.5 445.3,306.5 445.3,307.0 445.2,307.5 444.9,308.0 444.5,308.5 442.4,310.0 441.9,310.5 441.6,311.0 441.4,312.0 442.0,314.5 442.1,316.0 441.9,317.0 441.7,317.5 441.0,318.4 440.4,319.0 438.5,320.3 437.0,321.0 435.5,321.4 432.5,321.9 430.5,322.4 428.6,323.0 425.0,324.5 423.0,325.0 M423.0,324.1 421.5,324.3 420.5,324.3 418.7,324.0 417.6,323.5 417.0,323.0 416.3,322.0 415.9,321.0 415.2,318.5 414.0,314.9 413.6,313.0 413.0,309.5 412.5,307.5 410.6,302.5 409.8,300.0 409.5,298.5 409.6,297.0 409.8,295.5 410.4,294.0 410.9,293.0 411.8,292.0 413.0,291.3 414.0,290.9 416.0,290.7 419.5,290.9 422.5,291.3 423.5,291.6 424.3,292.0 425.1,292.5 426.1,293.5 426.8,294.5 428.5,297.5 429.0,298.2 429.5,298.7 430.0,299.0 430.5,299.2 431.5,299.3 432.5,299.1 434.5,298.4 435.5,298.3 436.0,298.5 436.6,299.0 437.0,300.0 437.4,301.5 438.0,302.5 438.3,303.0 439.5,304.1 441.5,305.5 442.0,306.0 442.2,306.5 442.1,307.0 441.9,307.5 440.5,309.6 440.0,310.5 439.9,311.0 439.9,312.0 440.8,314.5 441.0,315.5 441.0,316.0 440.9,316.5 440.5,317.4 439.5,318.5 438.5,319.2 437.0,319.9 436.0,320.2 433.0,320.7 431.5,321.0 428.5,322.0 424.5,323.7 423.0,324.1 M423.0,323.1 422.0,323.3 421.0,323.4 419.5,323.1 419.0,322.9 418.3,322.5 417.4,321.5 416.8,320.0 415.4,316.0 415.1,314.5 414.5,311.5 413.5,308.0 413.0,306.5 411.4,303.0 410.5,300.5 410.2,299.0 410.1,297.5 410.2,296.0 410.6,294.5 411.1,293.5 411.9,292.5 413.0,291.7 414.0,291.3 416.0,291.1 419.5,291.3 422.0,291.7 423.0,292.0 424.0,292.4 425.0,293.2 426.1,294.5 426.7,295.5 428.5,299.1 429.2,300.0 429.9,300.5 430.5,300.7 431.5,300.9 434.0,300.9 435.0,301.2 436.0,302.1 438.7,305.0 439.4,306.0 439.7,306.5 439.8,307.0 439.7,308.0 438.8,310.5 438.6,311.5 438.8,312.5 439.8,315.0 439.9,316.0 439.5,317.0 439.0,317.6 438.0,318.4 437.0,318.9 436.0,319.1 433.5,319.5 432.0,319.8 423.0,323.1 M423.0,322.0 421.5,322.3 420.5,322.2 420.0,322.0 419.0,321.4 418.5,320.9 418.0,320.1 417.1,318.0 416.6,316.0 416.5,315.0 416.6,313.0 416.4,312.0 416.0,311.0 415.0,309.3 413.7,306.5 412.2,303.5 411.2,301.0 410.8,299.5 410.6,298.0 410.6,296.5 410.9,295.0 411.3,294.0 412.0,292.9 413.0,292.1 414.0,291.7 415.0,291.5 416.0,291.5 417.5,291.5 419.5,291.7 422.0,292.1 423.0,292.5 424.0,293.0 425.0,293.9 425.9,295.0 426.7,296.5 428.0,299.9 428.5,300.8 429.0,301.3 430.0,301.8 431.0,302.0 433.5,302.2 434.5,302.6 435.0,302.8 436.0,303.6 437.0,304.6 437.8,305.5 438.3,306.5 438.5,307.0 438.5,308.0 437.7,310.5 437.6,311.5 437.7,312.5 438.4,314.5 438.6,315.5 438.5,316.2 438.0,317.0 437.4,317.5 436.5,317.9 435.5,318.2 433.5,318.4 432.5,318.6 429.0,320.0 423.0,322.0 M423.5,320.6 422.0,321.0 421.0,320.9 420.0,320.5 419.5,320.1 419.0,319.4 418.3,318.0 417.9,316.5 417.9,315.0 418.2,313.0 418.2,312.0 418.0,311.5 417.5,310.7 416.0,309.0 415.3,308.0 412.8,303.5 412.3,302.5 411.7,301.0 411.3,299.5 411.1,298.0 411.1,296.5 411.3,295.0 411.7,294.0 412.5,293.0 413.2,292.5 414.0,292.1 415.0,291.9 416.0,291.8 419.0,292.0 421.5,292.4 422.5,292.7 423.5,293.2 424.5,294.0 425.6,295.5 426.5,297.5 427.5,300.7 427.9,301.5 428.3,302.0 429.0,302.5 429.5,302.7 433.0,303.1 434.5,303.7 435.5,304.3 436.3,305.0 437.0,306.0 437.3,306.5 437.4,307.0 437.5,308.0 436.7,310.5 436.5,312.0 436.6,313.0 437.1,314.5 437.1,315.5 436.9,316.0 436.5,316.4 435.5,316.8 432.5,317.2 431.5,317.6 428.9,319.0 423.5,320.6 M424.0,319.1 422.5,319.4 421.5,319.4 420.6,319.0 420.0,318.4 419.5,317.5 419.3,316.5 419.2,315.5 419.6,313.0 419.5,312.0 419.4,311.5 418.8,310.5 416.8,308.5 416.0,307.5 413.3,303.5 412.4,301.5 411.9,300.0 411.6,298.5 411.5,297.0 411.6,295.5 412.0,294.5 412.5,293.6 413.1,293.0 414.0,292.5 415.0,292.3 416.0,292.2 418.5,292.3 421.0,292.7 422.0,293.0 423.1,293.5 424.3,294.5 425.4,296.0 426.2,298.0 427.0,301.6 427.4,302.5 427.9,303.0 428.5,303.4 429.0,303.5 432.5,303.9 434.0,304.4 435.0,305.0 435.5,305.4 436.3,306.5 436.4,307.0 436.5,308.0 436.2,309.0 435.4,311.5 435.1,314.0 434.9,314.5 434.5,314.8 434.1,315.0 432.5,315.4 431.5,315.8 429.3,317.5 428.3,318.0 427.5,318.3 424.0,319.1 M426.0,317.0 422.5,317.5 422.0,317.4 421.4,317.0 421.1,316.5 420.9,316.0 420.8,315.0 420.8,312.5 420.6,311.5 420.4,311.0 419.6,310.0 417.5,308.1 416.5,307.0 414.0,303.6 413.1,302.0 412.5,300.5 412.1,299.0 411.9,297.5 412.0,296.0 412.2,295.0 412.7,294.0 413.1,293.5 414.0,292.9 415.0,292.6 416.0,292.5 418.5,292.6 421.0,293.1 422.0,293.4 423.0,293.9 423.7,294.5 424.5,295.4 425.4,297.0 425.9,299.0 426.4,302.0 426.7,303.0 427.1,303.5 427.7,304.0 428.5,304.3 432.0,304.6 433.3,305.0 434.5,305.7 435.2,306.5 435.5,307.5 435.4,308.5 434.5,310.7 433.5,312.3 432.7,313.0 430.5,314.3 428.6,316.0 428.0,316.4 427.0,316.8 426.0,317.0 M426.5,314.6 425.0,314.8 424.0,314.7 423.5,314.5 423.0,314.1 422.5,313.0 421.9,311.5 421.4,310.5 420.5,309.5 418.5,308.0 417.4,307.0 415.0,304.1 413.9,302.5 413.3,301.5 412.8,300.0 412.4,298.5 412.3,297.0 412.4,296.0 412.6,295.0 413.2,294.0 414.0,293.4 415.0,293.0 416.0,292.8 417.0,292.8 418.5,292.9 421.1,293.5 422.0,293.8 423.0,294.4 424.1,295.5 424.7,296.5 425.1,297.5 425.5,299.5 425.8,302.5 426.0,303.5 426.5,304.3 427.0,304.7 428.0,305.2 429.0,305.3 431.5,305.4 432.5,305.6 433.5,306.2 433.9,306.5 434.2,307.0 434.4,307.5 434.3,308.5 433.9,309.5 433.0,310.7 432.5,311.2 431.5,311.9 427.5,314.2 426.5,314.6 M426.5,312.0 425.5,312.0 424.5,311.6 424.0,311.2 422.1,309.5 418.5,307.0 417.0,305.6 414.4,302.5 413.8,301.5 413.2,300.0 412.8,298.5 412.7,297.5 412.7,296.5 412.9,295.5 413.4,294.5 414.0,293.8 414.6,293.5 415.5,293.2 416.5,293.1 417.5,293.2 419.0,293.3 420.5,293.7 421.5,294.0 422.5,294.6 423.5,295.4 423.9,296.0 424.7,297.5 424.9,298.5 425.1,299.5 425.1,302.5 425.2,303.5 425.5,304.5 426.0,305.3 426.5,305.7 427.5,306.2 428.5,306.3 431.0,306.4 431.6,306.5 432.5,307.0 432.9,307.5 433.0,308.0 432.9,308.5 432.5,309.2 431.7,310.0 430.5,310.8 429.0,311.4 427.5,311.9 426.5,312.0 M428.5,309.1 427.5,309.2 425.6,309.0 423.5,308.5 421.5,307.8 420.0,307.1 419.0,306.5 417.0,304.6 415.5,303.1 414.6,302.0 414.0,300.9 413.5,299.5 413.1,298.0 413.1,296.5 413.3,295.5 413.5,295.0 414.0,294.4 414.5,294.0 415.5,293.6 416.5,293.5 418.0,293.5 419.5,293.8 421.0,294.2 422.0,294.7 423.0,295.5 423.5,296.1 424.0,297.0 424.5,298.5 424.6,300.0 424.4,303.0 424.4,304.0 424.6,305.0 425.0,306.4 425.5,307.2 426.0,307.7 426.5,308.0 427.5,308.2 429.0,308.3 429.6,308.5 429.0,309.0 428.5,309.1 M422.0,306.6 421.5,306.6 420.5,306.3 419.0,305.5 416.0,302.9 415.0,301.7 414.5,301.0 414.0,299.9 413.6,298.5 413.5,297.5 413.5,296.5 413.7,295.5 414.0,295.0 414.5,294.5 415.0,294.2 416.0,293.9 417.0,293.8 418.5,293.9 420.0,294.3 421.0,294.6 422.0,295.2 422.9,296.0 423.5,296.9 424.0,298.0 424.1,299.0 424.1,300.0 424.0,301.3 423.3,305.5 423.0,306.0 422.5,306.4 422.0,306.6 M421.5,305.1 421.0,305.2 420.5,305.1 420.0,305.0 419.0,304.5 416.5,302.6 415.5,301.6 415.0,300.9 414.5,300.0 414.1,299.0 413.9,298.0 413.8,297.0 414.0,296.0 414.2,295.5 414.6,295.0 415.0,294.7 416.0,294.3 417.0,294.1 418.0,294.2 419.5,294.5 420.9,295.0 421.7,295.5 422.5,296.2 423.0,296.9 423.3,297.5 423.6,298.5 423.7,299.5 423.6,300.5 423.0,302.7 422.5,304.0 422.0,304.8 421.5,305.1 M421.0,303.7 420.5,303.8 420.0,303.8 418.5,303.2 416.5,301.9 416.0,301.4 415.3,300.5 415.0,300.0 414.5,298.9 414.3,298.0 414.2,297.0 414.5,295.9 414.7,295.5 415.3,295.0 416.0,294.7 417.0,294.5 418.0,294.6 419.0,294.7 420.0,295.1 421.0,295.5 422.0,296.3 422.6,297.0 423.0,298.0 423.1,298.5 423.2,299.5 423.0,300.5 422.5,301.9 422.0,302.8 421.5,303.4 421.0,303.7 M420.5,302.6 419.5,302.6 418.0,302.1 416.5,301.1 415.5,300.0 415.0,299.0 414.7,297.5 414.8,296.5 415.0,296.0 415.5,295.4 416.5,295.0 417.5,294.9 418.5,295.0 419.5,295.3 420.5,295.8 421.5,296.5 422.0,297.0 422.3,297.5 422.6,298.5 422.6,299.0 422.5,300.0 422.0,301.2 421.5,301.9 421.0,302.3 420.5,302.6" fill="none" stroke="#000" stroke-width="0.92"/>
</g>
<rect x="400" y="336.6" width="64" height="1.9" fill="#222"/>
<rect x="421" y="204" width="30" height="1.6" fill="#888"/>
<rect x="377.1" y="324.8" width="26.1" height="14.0" fill="#fff"/>
<rect x="481.8" y="324.8" width="25.9" height="14.0" fill="#fff"/>
<path d="M420.7,203.5 V338 M375.5,295.2 H508.5" stroke="#161616" stroke-width="0.85" fill="none"/>
<path d="M375.5,338 v3.4 M385.5,338 v1.9 M391.4,338 v1.9 M395.5,338 v1.9 M398.7,338 v1.9 M401.4,338 v1.9 M403.6,338 v1.9 M405.5,338 v1.9 M407.2,338 v1.9 M408.8,338 v3.4 M418.8,338 v1.9 M424.6,338 v1.9 M428.8,338 v1.9 M432.0,338 v1.9 M434.6,338 v1.9 M436.8,338 v1.9 M438.8,338 v1.9 M440.5,338 v1.9 M442.0,338 v3.4 M452.0,338 v1.9 M457.9,338 v1.9 M462.0,338 v1.9 M465.2,338 v1.9 M467.9,338 v1.9 M470.1,338 v1.9 M472.0,338 v1.9 M473.7,338 v1.9 M475.2,338 v3.4 M485.3,338 v1.9 M491.1,338 v1.9 M495.3,338 v1.9 M498.5,338 v1.9 M501.1,338 v1.9 M503.3,338 v1.9 M505.3,338 v1.9 M507.0,338 v1.9 M508.5,338 v3.4 M375.5,338.0 h-3.4 M375.5,327.9 h-1.9 M375.5,322.0 h-1.9 M375.5,317.8 h-1.9 M375.5,314.5 h-1.9 M375.5,311.8 h-1.9 M375.5,309.6 h-1.9 M375.5,307.6 h-1.9 M375.5,305.9 h-1.9 M375.5,304.4 h-3.4 M375.5,294.3 h-1.9 M375.5,288.3 h-1.9 M375.5,284.1 h-1.9 M375.5,280.9 h-1.9 M375.5,278.2 h-1.9 M375.5,276.0 h-1.9 M375.5,274.0 h-1.9 M375.5,272.3 h-1.9 M375.5,270.8 h-3.4 M375.5,260.6 h-1.9 M375.5,254.7 h-1.9 M375.5,250.5 h-1.9 M375.5,247.2 h-1.9 M375.5,244.6 h-1.9 M375.5,242.3 h-1.9 M375.5,240.4 h-1.9 M375.5,238.7 h-1.9 M375.5,237.1 h-3.4 M375.5,227.0 h-1.9 M375.5,221.1 h-1.9 M375.5,216.9 h-1.9 M375.5,213.6 h-1.9 M375.5,211.0 h-1.9 M375.5,208.7 h-1.9 M375.5,206.8 h-1.9 M375.5,205.0 h-1.9 M375.5,203.5 h-3.4" stroke="#1a1a1a" stroke-width="0.75" fill="none"/>
<text x="374.9" y="351.4" font-size="6.5" fill="#2a2a2a" text-anchor="middle">10<tspan dy="-2.4" font-size="4.9">0</tspan></text>
<text x="369.3" y="341.0" font-size="6.5" fill="#2a2a2a" text-anchor="end">10<tspan dy="-2.4" font-size="4.9">0</tspan></text>
<text x="408.1" y="351.4" font-size="6.5" fill="#2a2a2a" text-anchor="middle">10<tspan dy="-2.4" font-size="4.9">1</tspan></text>
<text x="369.3" y="307.4" font-size="6.5" fill="#2a2a2a" text-anchor="end">10<tspan dy="-2.4" font-size="4.9">1</tspan></text>
<text x="441.4" y="351.4" font-size="6.5" fill="#2a2a2a" text-anchor="middle">10<tspan dy="-2.4" font-size="4.9">2</tspan></text>
<text x="369.3" y="273.8" font-size="6.5" fill="#2a2a2a" text-anchor="end">10<tspan dy="-2.4" font-size="4.9">2</tspan></text>
<text x="474.6" y="351.4" font-size="6.5" fill="#2a2a2a" text-anchor="middle">10<tspan dy="-2.4" font-size="4.9">3</tspan></text>
<text x="369.3" y="240.1" font-size="6.5" fill="#2a2a2a" text-anchor="end">10<tspan dy="-2.4" font-size="4.9">3</tspan></text>
<text x="507.9" y="351.4" font-size="6.5" fill="#2a2a2a" text-anchor="middle">10<tspan dy="-2.4" font-size="4.9">4</tspan></text>
<text x="369.3" y="206.5" font-size="6.5" fill="#2a2a2a" text-anchor="end">10<tspan dy="-2.4" font-size="4.9">4</tspan></text>
<text x="376.9" y="217.1" font-size="12.5" font-weight="bold" text-anchor="start" fill="#000" >6.1</text>
<text x="507.7" y="217.1" font-size="12.5" font-weight="bold" text-anchor="end" fill="#000" >14</text>
<text x="378.1" y="336.6" font-size="12.5" font-weight="bold" text-anchor="start" fill="#000" >29.7</text>
<text x="507.7" y="336.6" font-size="12.5" font-weight="bold" text-anchor="end" fill="#000" >50.2</text>
</g>
<text x="4.3" y="19.5" font-size="20" font-weight="bold" text-anchor="start" fill="#000" >A</text>
<text x="113" y="26.2" font-size="17" font-weight="bold" text-anchor="start" fill="#000" >MIG</text>
<text x="247.6" y="26.2" font-size="17" font-weight="bold" text-anchor="start" fill="#000" >myr-AKT</text>
<text x="375.4" y="26.2" font-size="17.1" font-weight="bold" text-anchor="start" fill="#000" >myr-AKT+GSI</text>
<text x="14.6" y="91" font-size="17" font-weight="bold" text-anchor="start" fill="#000" >LSK</text>
<text x="10.4" y="260.2" font-size="17" font-weight="bold" text-anchor="start" fill="#000" >CMP</text>
<text transform="translate(47.4,327.8) rotate(-90)" font-size="17.5" font-weight="bold" letter-spacing="0.28">Ter119</text>
<text x="86.4" y="376" font-size="17" font-weight="bold" text-anchor="start" fill="#000" >CD41</text>
<path d="M41.2,338 V369.6 H74" stroke="#000" stroke-width="2.4" fill="none"/>
<path d="M41.2,333.5 l-4.2,7.5 h8.4z M80.5,369.6 l-7.5,-4.2 v8.4z" fill="#000"/>
<text x="8.4" y="409.4" font-size="20" font-weight="bold" text-anchor="start" fill="#000" >B</text>
<path d="M34.4,429.6 V588.6 M29.8,587.6 H334" stroke="#000" stroke-width="2" fill="none"/>
<text x="29.5" y="590.8" font-size="8.9" font-weight="bold" text-anchor="end" fill="#000" >0</text>
<text x="29.5" y="551.6" font-size="8.9" font-weight="bold" text-anchor="end" fill="#000" >20</text>
<text x="29.5" y="512.3" font-size="8.9" font-weight="bold" text-anchor="end" fill="#000" >40</text>
<text x="29.5" y="473.1" font-size="8.9" font-weight="bold" text-anchor="end" fill="#000" >60</text>
<text x="29.5" y="433.8" font-size="8.9" font-weight="bold" text-anchor="end" fill="#000" >80</text>
<path d="M29.8,587.6 H34.4 M29.8,548.4 H34.4 M29.8,509.1 H34.4 M29.8,469.9 H34.4 M29.8,430.6 H34.4 M109,587.6 v3 M258.3,587.6 v3" stroke="#000" stroke-width="1.6" fill="none"/>
<text transform="translate(14.2,543.2) rotate(-90)" font-size="9.8" font-weight="bold">% CD41+ cells</text>
<defs><pattern id="st" width="4.4" height="8" patternUnits="userSpaceOnUse" x="135.6"><rect x="0" y="0" width="1.5" height="8" fill="#000"/></pattern><pattern id="st2" width="4.4" height="8" patternUnits="userSpaceOnUse" x="284.6"><rect x="0" y="0" width="1.5" height="8" fill="#000"/></pattern></defs>
<path d="M68.4,520.8 V515.7 M61.2,515.7 H75.6" stroke="#000" stroke-width="1.5" fill="none"/>
<rect x="55.0" y="521.5" width="26.7" height="66.1" fill="#fff"/>
<rect x="55.0" y="521.5" width="26.7" height="66.1" fill="#fff" stroke="#000" stroke-width="1.5"/>
<path d="M109.0,457.0 V451.9 M101.8,451.9 H116.2" stroke="#000" stroke-width="1.5" fill="none"/>
<rect x="94.5" y="457.0" width="28.9" height="130.6" fill="#000"/>
<path d="M149.7,563.8 V562.3 M142.5,562.3 H156.9" stroke="#000" stroke-width="1.5" fill="none"/>
<rect x="136.3" y="564.5" width="26.7" height="23.1" fill="#fff"/>
<rect x="136.3" y="564.5" width="26.7" height="23.1" fill="url(#st)" stroke="#000" stroke-width="1.5"/>
<path d="M217.7,508.0 V503.1 M210.5,503.1 H224.8" stroke="#000" stroke-width="1.5" fill="none"/>
<rect x="204.2" y="508.8" width="26.8" height="78.9" fill="#fff"/>
<rect x="204.2" y="508.8" width="26.8" height="78.9" fill="#fff" stroke="#000" stroke-width="1.5"/>
<path d="M258.4,456.3 V449.4 M251.2,449.4 H265.6" stroke="#000" stroke-width="1.5" fill="none"/>
<rect x="244.2" y="456.3" width="28.3" height="131.3" fill="#000"/>
<path d="M299.1,486.3 V485.3 M291.9,485.3 H306.3" stroke="#000" stroke-width="1.5" fill="none"/>
<rect x="285.4" y="487.1" width="27.5" height="100.6" fill="#fff"/>
<rect x="285.4" y="487.1" width="27.5" height="100.6" fill="url(#st2)" stroke="#000" stroke-width="1.5"/>
<path d="M59.4,418.6 V412.2 H157.6 V418.6" stroke="#000" stroke-width="2.2" fill="none"/>
<path d="M59.2,441.0 V436.8 H105.4 V441.0" stroke="#000" stroke-width="2" fill="none"/>
<path d="M111.0,441.0 V436.8 H157.4 V441.0" stroke="#000" stroke-width="2" fill="none"/>
<path d="M211.4,419.2 V413.7 H309.6 V419.2" stroke="#000" stroke-width="2.2" fill="none"/>
<path d="M208.8,438.3 V434.2 H256.0 V438.3" stroke="#000" stroke-width="2" fill="none"/>
<path d="M260.2,438.3 V434.2 H307.8 V438.3" stroke="#000" stroke-width="2" fill="none"/>
<text x="87.8" y="406.5" font-size="12" font-weight="normal" text-anchor="start" fill="#000" >p=0.04</text>
<text x="58.6" y="433.5" font-size="12" font-weight="normal" text-anchor="start" fill="#000" >p=0.002</text>
<text x="110.3" y="433.5" font-size="12" font-weight="normal" text-anchor="start" fill="#000" >p=0.003</text>
<text x="235.6" y="406.7" font-size="12" font-weight="normal" text-anchor="start" fill="#000" >p=0.150</text>
<text x="212.8" y="430.5" font-size="12" font-weight="normal" text-anchor="start" fill="#000" >p=0.05</text>
<text x="265.3" y="430.5" font-size="12" font-weight="normal" text-anchor="start" fill="#000" >p=0.07</text>
<text x="108.5" y="603.8" font-size="14.4" font-weight="bold" text-anchor="middle" fill="#000" >LSK</text>
<text x="258.3" y="603.8" font-size="14.4" font-weight="bold" text-anchor="middle" fill="#000" >CMP</text>
<rect x="35.2" y="622.6" width="15" height="12.6" fill="#fff" stroke="#000" stroke-width="1.2"/>
<text x="62.3" y="634.4" font-size="14.4" font-weight="normal" text-anchor="start" fill="#000" >MIG</text>
<rect x="115.4" y="622" width="15.2" height="13.6" fill="#000"/>
<text x="138" y="634.4" font-size="14.4" font-weight="normal" text-anchor="start" fill="#000" >myr-AKT</text>
<path d="M217,622.6 H233.6" stroke="#000" stroke-width="1.6"/><path d="M217,635.4 H233.6" stroke="#000" stroke-width="0.9"/>
<path d="M218,622 V636.6 M225.2,622 V636.6 M232.5,622 V636.6" stroke="#000" stroke-width="2.3" fill="none"/>
<text x="242.5" y="634.4" font-size="14.4" font-weight="normal" text-anchor="start" fill="#000" >myr-AKT+GSI</text>
<text x="348" y="411.2" font-size="19.5" font-weight="bold" text-anchor="start" fill="#000" >C</text>
<rect x="404.4" y="405.4" width="14.4" height="12.4" fill="#fff" stroke="#111" stroke-width="1.3"/>
<text x="423.4" y="416.4" font-size="12.4" font-weight="bold" text-anchor="start" fill="#000" >MIG</text>
<rect x="404.4" y="427.2" width="14.4" height="12.6" fill="#a2a2a2" stroke="#111" stroke-width="1.3"/>
<text x="423.4" y="437.6" font-size="12.4" font-weight="bold" text-anchor="start" fill="#000" >Myr-AKT</text>
<polygon points="402.2,585.0 405.8,580.8 409.3,576.1 411.6,571.5 414.0,564.4 416.3,559.8 418.6,552.7 419.8,543.4 421.7,529.3 423.3,517.6 425.0,503.5 426.4,489.5 428.0,477.8 429.6,470.8 431.5,461.4 432.9,457.2 434.3,463.7 435.3,475.4 436.2,482.5 436.9,481.3 437.6,494.2 439.0,512.9 440.4,524.6 442.1,532.8 443.2,535.2 444.4,542.2 446.3,545.7 447.9,544.5 449.6,551.6 451.4,557.4 453.1,566.8 454.5,578.5 455.4,585.0" fill="#a8a8a8" stroke="none"/>
<polyline points="402.2,585.0 405.8,580.8 409.3,576.1 411.6,571.5 414.0,564.4 416.3,559.8 418.6,552.7 419.8,543.4 421.7,529.3 423.3,517.6 425.0,503.5 426.4,489.5 428.0,477.8 429.6,470.8 431.5,461.4 432.9,457.2 434.3,463.7 435.3,475.4 436.2,482.5 436.9,481.3 437.6,494.2 439.0,512.9 440.4,524.6 442.1,532.8 443.2,535.2 444.4,542.2 446.3,545.7 447.9,544.5 449.6,551.6 451.4,557.4 453.1,566.8 454.5,578.5 455.4,585.0" fill="none" stroke="#1a1a1a" stroke-width="1.05" stroke-linejoin="round"/>
<polyline points="398.7,585.0 401.1,582.0 403.4,579.7 405.3,576.1 406.9,573.3 408.6,573.8 410.0,570.3 411.6,566.8 413.3,555.1 414.7,545.7 415.8,542.2 417.0,548.0 417.9,557.4 419.3,548.0 420.3,536.3 421.2,519.9 422.2,501.2 423.1,480.1 424.0,461.4 424.7,457.2 425.9,463.7 427.3,470.8 428.5,474.3 429.2,482.5 429.9,498.9 430.8,515.3 431.5,522.3 432.5,517.6 433.4,522.3 434.6,534.0 435.7,543.4 436.9,544.5 438.1,536.3 439.0,535.2 440.2,541.0 441.4,550.4 442.8,562.1 444.4,571.5 446.0,578.5 447.9,582.0 450.3,583.6 453.1,585.0" fill="none" stroke="#111" stroke-width="1.05" stroke-linejoin="round"/>
<rect x="373" y="449.7" width="136.39999999999998" height="136.09999999999997" fill="none" stroke="#222" stroke-width="1"/>
<text x="368.8" y="588.4" font-size="6.8" font-weight="normal" text-anchor="end" fill="#151515" >0</text>
<text x="368.8" y="562.4" font-size="6.8" font-weight="normal" text-anchor="end" fill="#151515" >20</text>
<text x="368.8" y="536.4" font-size="6.8" font-weight="normal" text-anchor="end" fill="#151515" >40</text>
<text x="368.8" y="510.4" font-size="6.8" font-weight="normal" text-anchor="end" fill="#151515" >60</text>
<text x="368.8" y="484.4" font-size="6.8" font-weight="normal" text-anchor="end" fill="#151515" >80</text>
<text x="368.8" y="458.4" font-size="6.8" font-weight="normal" text-anchor="end" fill="#151515" >100</text>
<path d="M373,586.0 h-3 M373,580.8 h-1.5 M373,575.6 h-1.5 M373,570.4 h-1.5 M373,565.2 h-1.5 M373,560.0 h-3 M373,554.8 h-1.5 M373,549.6 h-1.5 M373,544.4 h-1.5 M373,539.2 h-1.5 M373,534.0 h-3 M373,528.8 h-1.5 M373,523.6 h-1.5 M373,518.4 h-1.5 M373,513.2 h-1.5 M373,508.0 h-3 M373,502.8 h-1.5 M373,497.6 h-1.5 M373,492.4 h-1.5 M373,487.2 h-1.5 M373,482.0 h-3 M373,476.8 h-1.5 M373,471.6 h-1.5 M373,466.4 h-1.5 M373,461.2 h-1.5 M373,456.0 h-3 M388.5,585.8 v3 M402.3,585.8 v3 M434.2,585.8 v3 M466.3,585.8 v3 M498.0,585.8 v3 M411.9,585.8 v1.5 M417.6,585.8 v1.5 M421.6,585.8 v1.5 M424.7,585.8 v1.5 M427.2,585.8 v1.5 M429.3,585.8 v1.5 M431.2,585.8 v1.5 M432.8,585.8 v1.5 M443.8,585.8 v1.5 M449.5,585.8 v1.5 M453.5,585.8 v1.5 M456.6,585.8 v1.5 M459.1,585.8 v1.5 M461.2,585.8 v1.5 M463.1,585.8 v1.5 M464.7,585.8 v1.5 M475.9,585.8 v1.5 M481.6,585.8 v1.5 M485.6,585.8 v1.5 M488.7,585.8 v1.5 M491.2,585.8 v1.5 M493.3,585.8 v1.5 M495.2,585.8 v1.5 M496.8,585.8 v1.5 M376.0,585.8 v1.5 M379.0,585.8 v1.5 M382.0,585.8 v1.5 M385.0,585.8 v1.5 M391.5,585.8 v1.5 M394.5,585.8 v1.5 M397.0,585.8 v1.5 M399.0,585.8 v1.5 M400.5,585.8 v1.5" stroke="#222" stroke-width="0.7" fill="none"/>
<text x="388.5" y="598.6" font-size="6.8" font-weight="normal" text-anchor="middle" fill="#151515" >0</text>
<text x="402.3" y="598.6" font-size="6.8" fill="#151515" text-anchor="middle">10<tspan dy="-2.5" font-size="5">2</tspan></text>
<text x="434.2" y="598.6" font-size="6.8" fill="#151515" text-anchor="middle">10<tspan dy="-2.5" font-size="5">3</tspan></text>
<text x="466.3" y="598.6" font-size="6.8" fill="#151515" text-anchor="middle">10<tspan dy="-2.5" font-size="5">4</tspan></text>
<text x="498.0" y="598.6" font-size="6.8" fill="#151515" text-anchor="middle">10<tspan dy="-2.5" font-size="5">5</tspan></text>
<path d="M373,613.7 H406" stroke="#000" stroke-width="2.6" fill="none"/>
<path d="M413.2,613.7 l-8.5,-4.6 v9.2z" fill="#000"/>
<text x="414.2" y="617.4" font-size="14.8" font-weight="bold" text-anchor="start" fill="#000" >pFoxO</text>
</svg>
</body></html>
